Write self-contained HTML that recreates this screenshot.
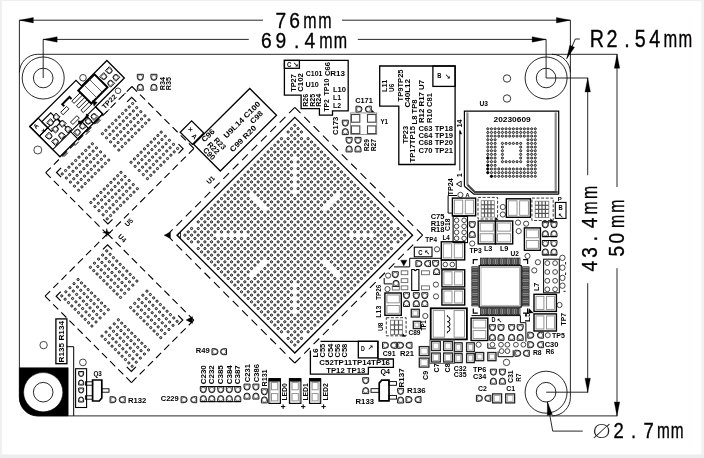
<!DOCTYPE html>
<html><head><meta charset="utf-8"><title>PCB mechanical drawing</title>
<style>
html,body{margin:0;padding:0;background:#fff;}
svg{display:block;font-family:"Liberation Sans",sans-serif;}
#ink{filter:grayscale(1);}
</style></head><body>
<svg width="704" height="458" viewBox="0 0 704 458">
<rect x="0" y="0" width="704" height="458" fill="#fff"/>
<rect x="701.3" y="0" width="2.7" height="458" fill="#f1f2f4"/>
<rect x="0" y="454.5" width="704" height="3.5" fill="#ebedef"/>
<rect x="0" y="0" width="704" height="1" fill="#efefef"/>
<rect x="0" y="0" width="1.8" height="458" fill="#efefef"/>
<g id="ink">
<rect x="19.4" y="54.3" width="551" height="361.6" fill="none" stroke="#111" stroke-width="0.9" rx="18.4"/>
<path d="M19.4,367.7 H68.2 V415.9 H37.8 A18.4,18.4 0 0 1 19.4,397.5 Z" fill="#000" stroke="#000" stroke-width="0.5" />
<circle cx="43.2" cy="392.2" r="19.6" fill="#fff" stroke="#000" stroke-width="0.5"/>
<circle cx="43.2" cy="78" r="21" fill="none" stroke="#111" stroke-width="0.9"/>
<circle cx="546.1" cy="78" r="21" fill="none" stroke="#111" stroke-width="0.9"/>
<circle cx="546.1" cy="392.2" r="21" fill="none" stroke="#111" stroke-width="0.9"/>
<circle cx="43.2" cy="78" r="9.8" fill="none" stroke="#111" stroke-width="0.9"/>
<circle cx="546.1" cy="78" r="9.8" fill="none" stroke="#111" stroke-width="0.9"/>
<circle cx="546.1" cy="392.2" r="9.8" fill="none" stroke="#111" stroke-width="0.9"/>
<circle cx="43.2" cy="392.2" r="9.8" fill="none" stroke="#111" stroke-width="0.9"/>
<line x1="19.4" y1="20.2" x2="263" y2="20.2" stroke="#111" stroke-width="0.9"/>
<line x1="342" y1="20.2" x2="570.4" y2="20.2" stroke="#111" stroke-width="0.9"/>
<polygon points="19.4,20.2 33.4,17.45 33.4,22.95" fill="#000" stroke="#000" stroke-width="0.3"/>
<polygon points="570.4,20.2 556.4,22.95 556.4,17.45" fill="#000" stroke="#000" stroke-width="0.3"/>
<line x1="19.4" y1="20.2" x2="19.4" y2="72.7" stroke="#111" stroke-width="0.9"/>
<line x1="570.4" y1="20.2" x2="570.4" y2="72.7" stroke="#111" stroke-width="0.9"/>
<line x1="43.2" y1="39.4" x2="248.8" y2="39.4" stroke="#111" stroke-width="0.9"/>
<line x1="357.8" y1="39.4" x2="546.1" y2="39.4" stroke="#111" stroke-width="0.9"/>
<polygon points="43.2,39.4 57.2,36.65 57.2,42.15" fill="#000" stroke="#000" stroke-width="0.3"/>
<polygon points="546.1,39.4 532.1,42.15 532.1,36.65" fill="#000" stroke="#000" stroke-width="0.3"/>
<line x1="43.2" y1="39.4" x2="43.2" y2="78" stroke="#111" stroke-width="0.9"/>
<line x1="546.1" y1="39.4" x2="546.1" y2="78" stroke="#111" stroke-width="0.9"/>
<line x1="552" y1="54.3" x2="617.5" y2="54.3" stroke="#111" stroke-width="0.9"/>
<line x1="546.1" y1="78" x2="588.2" y2="78" stroke="#111" stroke-width="0.9"/>
<line x1="546.1" y1="392.2" x2="588.2" y2="392.2" stroke="#111" stroke-width="0.9"/>
<line x1="552" y1="415.9" x2="617.5" y2="415.9" stroke="#111" stroke-width="0.9"/>
<line x1="587.7" y1="78" x2="587.7" y2="175.2" stroke="#111" stroke-width="0.9"/>
<line x1="587.7" y1="283.2" x2="587.7" y2="392.2" stroke="#111" stroke-width="0.9"/>
<polygon points="587.7,78 590.45,92 584.95,92" fill="#000" stroke="#000" stroke-width="0.3"/>
<polygon points="587.7,392.2 584.95,378.2 590.45,378.2" fill="#000" stroke="#000" stroke-width="0.3"/>
<line x1="617" y1="54.3" x2="617" y2="187" stroke="#111" stroke-width="0.9"/>
<line x1="617" y1="268.2" x2="617" y2="415.9" stroke="#111" stroke-width="0.9"/>
<polygon points="617,54.3 619.75,68.3 614.25,68.3" fill="#000" stroke="#000" stroke-width="0.3"/>
<polygon points="617,415.9 614.25,401.9 619.75,401.9" fill="#000" stroke="#000" stroke-width="0.3"/>
<line x1="575.3" y1="39" x2="579.8" y2="39" stroke="#111" stroke-width="0.9"/>
<line x1="575.3" y1="39" x2="566.8" y2="58.6" stroke="#111" stroke-width="0.9"/>
<polygon points="566.8,58.6 569.79,45.18 574.56,47.25" fill="#000" stroke="#000" stroke-width="0.3"/>
<line x1="582.7" y1="431.1" x2="552.7" y2="431.1" stroke="#111" stroke-width="0.9"/>
<line x1="552.7" y1="431.1" x2="547.4" y2="401.8" stroke="#111" stroke-width="0.9"/>
<polygon points="547.4,401.8 552.36,414.62 547.24,415.55" fill="#000" stroke="#000" stroke-width="0.3"/>
<text transform="translate(280.95,28.1) scale(0.84,1)" font-size="22.9" text-anchor="middle" font-weight="normal" stroke="#000" stroke-width="0.35">7</text>
<text transform="translate(294.7,28.1) scale(0.84,1)" font-size="22.9" text-anchor="middle" font-weight="normal" stroke="#000" stroke-width="0.35">6</text>
<text transform="translate(309.9,28.1) scale(0.7,1)" font-size="22.9" text-anchor="middle" font-weight="normal" stroke="#000" stroke-width="0.35">m</text>
<text transform="translate(324.8,28.1) scale(0.7,1)" font-size="22.9" text-anchor="middle" font-weight="normal" stroke="#000" stroke-width="0.35">m</text>
<text transform="translate(266.45,47.9) scale(0.84,1)" font-size="22.9" text-anchor="middle" font-weight="normal" stroke="#000" stroke-width="0.35">6</text>
<text transform="translate(280.95,47.9) scale(0.84,1)" font-size="22.9" text-anchor="middle" font-weight="normal" stroke="#000" stroke-width="0.35">9</text>
<text transform="translate(296.6,47.9) scale(0.84,1)" font-size="22.9" text-anchor="middle" font-weight="normal" stroke="#000" stroke-width="0.35">.</text>
<text transform="translate(309.9,47.9) scale(0.84,1)" font-size="22.9" text-anchor="middle" font-weight="normal" stroke="#000" stroke-width="0.35">4</text>
<text transform="translate(325.9,47.9) scale(0.7,1)" font-size="22.9" text-anchor="middle" font-weight="normal" stroke="#000" stroke-width="0.35">m</text>
<text transform="translate(340.4,47.9) scale(0.7,1)" font-size="22.9" text-anchor="middle" font-weight="normal" stroke="#000" stroke-width="0.35">m</text>
<text transform="translate(596.95,46.9) scale(0.84,1)" font-size="23.5" text-anchor="middle" font-weight="normal" stroke="#000" stroke-width="0.35">R</text>
<text transform="translate(612.1,46.9) scale(0.84,1)" font-size="23.5" text-anchor="middle" font-weight="normal" stroke="#000" stroke-width="0.35">2</text>
<text transform="translate(627,46.9) scale(0.84,1)" font-size="23.5" text-anchor="middle" font-weight="normal" stroke="#000" stroke-width="0.35">.</text>
<text transform="translate(640.3,46.9) scale(0.84,1)" font-size="23.5" text-anchor="middle" font-weight="normal" stroke="#000" stroke-width="0.35">5</text>
<text transform="translate(654.65,46.9) scale(0.84,1)" font-size="23.5" text-anchor="middle" font-weight="normal" stroke="#000" stroke-width="0.35">4</text>
<text transform="translate(670.35,46.9) scale(0.7,1)" font-size="23.5" text-anchor="middle" font-weight="normal" stroke="#000" stroke-width="0.35">m</text>
<text transform="translate(685.45,46.9) scale(0.7,1)" font-size="23.5" text-anchor="middle" font-weight="normal" stroke="#000" stroke-width="0.35">m</text>
<text transform="translate(618.65,438.4) scale(0.84,1)" font-size="22" text-anchor="middle" font-weight="normal" stroke="#000" stroke-width="0.35">2</text>
<text transform="translate(633.45,438.4) scale(0.84,1)" font-size="22" text-anchor="middle" font-weight="normal" stroke="#000" stroke-width="0.35">.</text>
<text transform="translate(648.7,438.4) scale(0.84,1)" font-size="22" text-anchor="middle" font-weight="normal" stroke="#000" stroke-width="0.35">7</text>
<text transform="translate(663.4,438.4) scale(0.7,1)" font-size="22" text-anchor="middle" font-weight="normal" stroke="#000" stroke-width="0.35">m</text>
<text transform="translate(677.2,438.4) scale(0.7,1)" font-size="22" text-anchor="middle" font-weight="normal" stroke="#000" stroke-width="0.35">m</text>
<text transform="translate(601.7,438.0) scale(1.25,1)" font-family="'DejaVu Sans',sans-serif" font-weight="200" font-size="19.6" text-anchor="middle" fill="#222">Ø</text>
<text transform="translate(596.7,266.3) rotate(-90) scale(0.84,1)" font-size="22.6" text-anchor="middle" font-weight="normal" stroke="#000" stroke-width="0.35">4</text>
<text transform="translate(596.7,252.5) rotate(-90) scale(0.84,1)" font-size="22.6" text-anchor="middle" font-weight="normal" stroke="#000" stroke-width="0.35">3</text>
<text transform="translate(596.7,238.6) rotate(-90) scale(0.84,1)" font-size="22.6" text-anchor="middle" font-weight="normal" stroke="#000" stroke-width="0.35">.</text>
<text transform="translate(596.7,223.1) rotate(-90) scale(0.84,1)" font-size="22.6" text-anchor="middle" font-weight="normal" stroke="#000" stroke-width="0.35">4</text>
<text transform="translate(596.7,207.8) rotate(-90) scale(0.7,1)" font-size="22.6" text-anchor="middle" font-weight="normal" stroke="#000" stroke-width="0.35">m</text>
<text transform="translate(596.7,192.4) rotate(-90) scale(0.7,1)" font-size="22.6" text-anchor="middle" font-weight="normal" stroke="#000" stroke-width="0.35">m</text>
<text transform="translate(623.7,251.2) rotate(-90) scale(0.84,1)" font-size="22.6" text-anchor="middle" font-weight="normal" stroke="#000" stroke-width="0.35">5</text>
<text transform="translate(623.7,238.2) rotate(-90) scale(0.84,1)" font-size="22.6" text-anchor="middle" font-weight="normal" stroke="#000" stroke-width="0.35">0</text>
<text transform="translate(623.7,221.3) rotate(-90) scale(0.7,1)" font-size="22.6" text-anchor="middle" font-weight="normal" stroke="#000" stroke-width="0.35">m</text>
<text transform="translate(623.7,206.2) rotate(-90) scale(0.7,1)" font-size="22.6" text-anchor="middle" font-weight="normal" stroke="#000" stroke-width="0.35">m</text>
<polygon points="294.8,117.4 412.6,235.2 294.8,353 177,235.2" fill="none" stroke="#000" stroke-width="1.3"/>
<line x1="294.8" y1="107.4" x2="422.6" y2="235.2" stroke="#000" stroke-width="1.1" stroke-dasharray="8.10 5.18"/>
<line x1="422.6" y1="235.2" x2="294.8" y2="363" stroke="#000" stroke-width="1.1" stroke-dasharray="8.10 5.18"/>
<line x1="294.8" y1="363" x2="167" y2="235.2" stroke="#000" stroke-width="1.1" stroke-dasharray="8.10 5.18"/>
<line x1="167" y1="235.2" x2="294.8" y2="107.4" stroke="#000" stroke-width="1.1" stroke-dasharray="8.10 5.18"/>
<g fill="#c8c8c8" stroke="#1a1a1a" stroke-width="1.0">
<circle cx="294.8" cy="125.31" r="1.1"/>
<circle cx="291.47" cy="128.64" r="1.1"/>
<circle cx="288.14" cy="131.97" r="1.1"/>
<circle cx="281.48" cy="138.63" r="1.1"/>
<circle cx="278.15" cy="141.96" r="1.1"/>
<circle cx="274.82" cy="145.29" r="1.1"/>
<circle cx="271.49" cy="148.62" r="1.1"/>
<circle cx="268.16" cy="151.95" r="1.1"/>
<circle cx="264.83" cy="155.28" r="1.1"/>
<circle cx="261.5" cy="158.61" r="1.1"/>
<circle cx="258.17" cy="161.94" r="1.1"/>
<circle cx="254.84" cy="165.27" r="1.1"/>
<circle cx="251.51" cy="168.6" r="1.1"/>
<circle cx="248.18" cy="171.93" r="1.1"/>
<circle cx="244.85" cy="175.26" r="1.1"/>
<circle cx="241.52" cy="178.59" r="1.1"/>
<circle cx="238.19" cy="181.92" r="1.1"/>
<circle cx="234.86" cy="185.25" r="1.1"/>
<circle cx="231.53" cy="188.58" r="1.1"/>
<circle cx="228.2" cy="191.91" r="1.1"/>
<circle cx="224.87" cy="195.24" r="1.1"/>
<circle cx="221.54" cy="198.57" r="1.1"/>
<circle cx="218.21" cy="201.9" r="1.1"/>
<circle cx="214.88" cy="205.23" r="1.1"/>
<circle cx="211.55" cy="208.56" r="1.1"/>
<circle cx="208.22" cy="211.89" r="1.1"/>
<circle cx="204.89" cy="215.22" r="1.1"/>
<circle cx="201.56" cy="218.55" r="1.1"/>
<circle cx="198.23" cy="221.88" r="1.1"/>
<circle cx="191.57" cy="228.54" r="1.1"/>
<circle cx="188.24" cy="231.87" r="1.1"/>
<circle cx="184.91" cy="235.2" r="1.1"/>
<circle cx="298.13" cy="128.64" r="1.1"/>
<circle cx="294.8" cy="131.97" r="1.1"/>
<circle cx="291.47" cy="135.3" r="1.1"/>
<circle cx="288.14" cy="138.63" r="1.1"/>
<circle cx="284.81" cy="141.96" r="1.1"/>
<circle cx="281.48" cy="145.29" r="1.1"/>
<circle cx="278.15" cy="148.62" r="1.1"/>
<circle cx="274.82" cy="151.95" r="1.1"/>
<circle cx="271.49" cy="155.28" r="1.1"/>
<circle cx="268.16" cy="158.61" r="1.1"/>
<circle cx="264.83" cy="161.94" r="1.1"/>
<circle cx="261.5" cy="165.27" r="1.1"/>
<circle cx="258.17" cy="168.6" r="1.1"/>
<circle cx="254.84" cy="171.93" r="1.1"/>
<circle cx="251.51" cy="175.26" r="1.1"/>
<circle cx="248.18" cy="178.59" r="1.1"/>
<circle cx="244.85" cy="181.92" r="1.1"/>
<circle cx="241.52" cy="185.25" r="1.1"/>
<circle cx="238.19" cy="188.58" r="1.1"/>
<circle cx="234.86" cy="191.91" r="1.1"/>
<circle cx="231.53" cy="195.24" r="1.1"/>
<circle cx="228.2" cy="198.57" r="1.1"/>
<circle cx="224.87" cy="201.9" r="1.1"/>
<circle cx="221.54" cy="205.23" r="1.1"/>
<circle cx="218.21" cy="208.56" r="1.1"/>
<circle cx="214.88" cy="211.89" r="1.1"/>
<circle cx="211.55" cy="215.22" r="1.1"/>
<circle cx="208.22" cy="218.55" r="1.1"/>
<circle cx="204.89" cy="221.88" r="1.1"/>
<circle cx="201.56" cy="225.21" r="1.1"/>
<circle cx="198.23" cy="228.54" r="1.1"/>
<circle cx="194.9" cy="231.87" r="1.1"/>
<circle cx="191.57" cy="235.2" r="1.1"/>
<circle cx="188.24" cy="238.53" r="1.1"/>
<circle cx="301.46" cy="131.97" r="1.1"/>
<circle cx="298.13" cy="135.3" r="1.1"/>
<circle cx="294.8" cy="138.63" r="1.1"/>
<circle cx="291.47" cy="141.96" r="1.1"/>
<circle cx="288.14" cy="145.29" r="1.1"/>
<circle cx="284.81" cy="148.62" r="1.1"/>
<circle cx="281.48" cy="151.95" r="1.1"/>
<circle cx="278.15" cy="155.28" r="1.1"/>
<circle cx="274.82" cy="158.61" r="1.1"/>
<circle cx="271.49" cy="161.94" r="1.1"/>
<circle cx="268.16" cy="165.27" r="1.1"/>
<circle cx="264.83" cy="168.6" r="1.1"/>
<circle cx="261.5" cy="171.93" r="1.1"/>
<circle cx="258.17" cy="175.26" r="1.1"/>
<circle cx="254.84" cy="178.59" r="1.1"/>
<circle cx="251.51" cy="181.92" r="1.1"/>
<circle cx="248.18" cy="185.25" r="1.1"/>
<circle cx="244.85" cy="188.58" r="1.1"/>
<circle cx="241.52" cy="191.91" r="1.1"/>
<circle cx="238.19" cy="195.24" r="1.1"/>
<circle cx="234.86" cy="198.57" r="1.1"/>
<circle cx="231.53" cy="201.9" r="1.1"/>
<circle cx="228.2" cy="205.23" r="1.1"/>
<circle cx="224.87" cy="208.56" r="1.1"/>
<circle cx="221.54" cy="211.89" r="1.1"/>
<circle cx="218.21" cy="215.22" r="1.1"/>
<circle cx="214.88" cy="218.55" r="1.1"/>
<circle cx="211.55" cy="221.88" r="1.1"/>
<circle cx="208.22" cy="225.21" r="1.1"/>
<circle cx="204.89" cy="228.54" r="1.1"/>
<circle cx="201.56" cy="231.87" r="1.1"/>
<circle cx="198.23" cy="235.2" r="1.1"/>
<circle cx="194.9" cy="238.53" r="1.1"/>
<circle cx="191.57" cy="241.86" r="1.1"/>
<circle cx="301.46" cy="138.63" r="1.1"/>
<circle cx="298.13" cy="141.96" r="1.1"/>
<circle cx="294.8" cy="145.29" r="1.1"/>
<circle cx="291.47" cy="148.62" r="1.1"/>
<circle cx="288.14" cy="151.95" r="1.1"/>
<circle cx="284.81" cy="155.28" r="1.1"/>
<circle cx="281.48" cy="158.61" r="1.1"/>
<circle cx="278.15" cy="161.94" r="1.1"/>
<circle cx="274.82" cy="165.27" r="1.1"/>
<circle cx="271.49" cy="168.6" r="1.1"/>
<circle cx="268.16" cy="171.93" r="1.1"/>
<circle cx="264.83" cy="175.26" r="1.1"/>
<circle cx="261.5" cy="178.59" r="1.1"/>
<circle cx="258.17" cy="181.92" r="1.1"/>
<circle cx="254.84" cy="185.25" r="1.1"/>
<circle cx="251.51" cy="188.58" r="1.1"/>
<circle cx="248.18" cy="191.91" r="1.1"/>
<circle cx="244.85" cy="195.24" r="1.1"/>
<circle cx="241.52" cy="198.57" r="1.1"/>
<circle cx="238.19" cy="201.9" r="1.1"/>
<circle cx="234.86" cy="205.23" r="1.1"/>
<circle cx="231.53" cy="208.56" r="1.1"/>
<circle cx="228.2" cy="211.89" r="1.1"/>
<circle cx="224.87" cy="215.22" r="1.1"/>
<circle cx="221.54" cy="218.55" r="1.1"/>
<circle cx="218.21" cy="221.88" r="1.1"/>
<circle cx="214.88" cy="225.21" r="1.1"/>
<circle cx="211.55" cy="228.54" r="1.1"/>
<circle cx="208.22" cy="231.87" r="1.1"/>
<circle cx="204.89" cy="235.2" r="1.1"/>
<circle cx="201.56" cy="238.53" r="1.1"/>
<circle cx="198.23" cy="241.86" r="1.1"/>
<circle cx="308.12" cy="138.63" r="1.1"/>
<circle cx="304.79" cy="141.96" r="1.1"/>
<circle cx="301.46" cy="145.29" r="1.1"/>
<circle cx="298.13" cy="148.62" r="1.1"/>
<circle cx="294.8" cy="151.95" r="1.1"/>
<circle cx="291.47" cy="155.28" r="1.1"/>
<circle cx="288.14" cy="158.61" r="1.1"/>
<circle cx="284.81" cy="161.94" r="1.1"/>
<circle cx="281.48" cy="165.27" r="1.1"/>
<circle cx="278.15" cy="168.6" r="1.1"/>
<circle cx="274.82" cy="171.93" r="1.1"/>
<circle cx="271.49" cy="175.26" r="1.1"/>
<circle cx="268.16" cy="178.59" r="1.1"/>
<circle cx="264.83" cy="181.92" r="1.1"/>
<circle cx="261.5" cy="185.25" r="1.1"/>
<circle cx="258.17" cy="188.58" r="1.1"/>
<circle cx="254.84" cy="191.91" r="1.1"/>
<circle cx="248.18" cy="198.57" r="1.1"/>
<circle cx="244.85" cy="201.9" r="1.1"/>
<circle cx="241.52" cy="205.23" r="1.1"/>
<circle cx="238.19" cy="208.56" r="1.1"/>
<circle cx="234.86" cy="211.89" r="1.1"/>
<circle cx="231.53" cy="215.22" r="1.1"/>
<circle cx="228.2" cy="218.55" r="1.1"/>
<circle cx="224.87" cy="221.88" r="1.1"/>
<circle cx="221.54" cy="225.21" r="1.1"/>
<circle cx="218.21" cy="228.54" r="1.1"/>
<circle cx="214.88" cy="231.87" r="1.1"/>
<circle cx="211.55" cy="235.2" r="1.1"/>
<circle cx="208.22" cy="238.53" r="1.1"/>
<circle cx="204.89" cy="241.86" r="1.1"/>
<circle cx="201.56" cy="245.19" r="1.1"/>
<circle cx="198.23" cy="248.52" r="1.1"/>
<circle cx="311.45" cy="141.96" r="1.1"/>
<circle cx="308.12" cy="145.29" r="1.1"/>
<circle cx="304.79" cy="148.62" r="1.1"/>
<circle cx="301.46" cy="151.95" r="1.1"/>
<circle cx="298.13" cy="155.28" r="1.1"/>
<circle cx="291.47" cy="161.94" r="1.1"/>
<circle cx="288.14" cy="165.27" r="1.1"/>
<circle cx="284.81" cy="168.6" r="1.1"/>
<circle cx="281.48" cy="171.93" r="1.1"/>
<circle cx="278.15" cy="175.26" r="1.1"/>
<circle cx="274.82" cy="178.59" r="1.1"/>
<circle cx="271.49" cy="181.92" r="1.1"/>
<circle cx="268.16" cy="185.25" r="1.1"/>
<circle cx="264.83" cy="188.58" r="1.1"/>
<circle cx="261.5" cy="191.91" r="1.1"/>
<circle cx="258.17" cy="195.24" r="1.1"/>
<circle cx="251.51" cy="201.9" r="1.1"/>
<circle cx="248.18" cy="205.23" r="1.1"/>
<circle cx="244.85" cy="208.56" r="1.1"/>
<circle cx="241.52" cy="211.89" r="1.1"/>
<circle cx="238.19" cy="215.22" r="1.1"/>
<circle cx="234.86" cy="218.55" r="1.1"/>
<circle cx="231.53" cy="221.88" r="1.1"/>
<circle cx="228.2" cy="225.21" r="1.1"/>
<circle cx="224.87" cy="228.54" r="1.1"/>
<circle cx="221.54" cy="231.87" r="1.1"/>
<circle cx="214.88" cy="238.53" r="1.1"/>
<circle cx="211.55" cy="241.86" r="1.1"/>
<circle cx="208.22" cy="245.19" r="1.1"/>
<circle cx="204.89" cy="248.52" r="1.1"/>
<circle cx="201.56" cy="251.85" r="1.1"/>
<circle cx="314.78" cy="145.29" r="1.1"/>
<circle cx="311.45" cy="148.62" r="1.1"/>
<circle cx="308.12" cy="151.95" r="1.1"/>
<circle cx="304.79" cy="155.28" r="1.1"/>
<circle cx="301.46" cy="158.61" r="1.1"/>
<circle cx="298.13" cy="161.94" r="1.1"/>
<circle cx="291.47" cy="168.6" r="1.1"/>
<circle cx="288.14" cy="171.93" r="1.1"/>
<circle cx="284.81" cy="175.26" r="1.1"/>
<circle cx="281.48" cy="178.59" r="1.1"/>
<circle cx="278.15" cy="181.92" r="1.1"/>
<circle cx="274.82" cy="185.25" r="1.1"/>
<circle cx="271.49" cy="188.58" r="1.1"/>
<circle cx="268.16" cy="191.91" r="1.1"/>
<circle cx="264.83" cy="195.24" r="1.1"/>
<circle cx="261.5" cy="198.57" r="1.1"/>
<circle cx="254.84" cy="205.23" r="1.1"/>
<circle cx="251.51" cy="208.56" r="1.1"/>
<circle cx="248.18" cy="211.89" r="1.1"/>
<circle cx="244.85" cy="215.22" r="1.1"/>
<circle cx="241.52" cy="218.55" r="1.1"/>
<circle cx="238.19" cy="221.88" r="1.1"/>
<circle cx="234.86" cy="225.21" r="1.1"/>
<circle cx="231.53" cy="228.54" r="1.1"/>
<circle cx="228.2" cy="231.87" r="1.1"/>
<circle cx="221.54" cy="238.53" r="1.1"/>
<circle cx="218.21" cy="241.86" r="1.1"/>
<circle cx="214.88" cy="245.19" r="1.1"/>
<circle cx="211.55" cy="248.52" r="1.1"/>
<circle cx="208.22" cy="251.85" r="1.1"/>
<circle cx="204.89" cy="255.18" r="1.1"/>
<circle cx="318.11" cy="148.62" r="1.1"/>
<circle cx="314.78" cy="151.95" r="1.1"/>
<circle cx="311.45" cy="155.28" r="1.1"/>
<circle cx="308.12" cy="158.61" r="1.1"/>
<circle cx="304.79" cy="161.94" r="1.1"/>
<circle cx="301.46" cy="165.27" r="1.1"/>
<circle cx="298.13" cy="168.6" r="1.1"/>
<circle cx="291.47" cy="175.26" r="1.1"/>
<circle cx="288.14" cy="178.59" r="1.1"/>
<circle cx="284.81" cy="181.92" r="1.1"/>
<circle cx="281.48" cy="185.25" r="1.1"/>
<circle cx="278.15" cy="188.58" r="1.1"/>
<circle cx="274.82" cy="191.91" r="1.1"/>
<circle cx="271.49" cy="195.24" r="1.1"/>
<circle cx="268.16" cy="198.57" r="1.1"/>
<circle cx="264.83" cy="201.9" r="1.1"/>
<circle cx="258.17" cy="208.56" r="1.1"/>
<circle cx="254.84" cy="211.89" r="1.1"/>
<circle cx="251.51" cy="215.22" r="1.1"/>
<circle cx="248.18" cy="218.55" r="1.1"/>
<circle cx="244.85" cy="221.88" r="1.1"/>
<circle cx="241.52" cy="225.21" r="1.1"/>
<circle cx="238.19" cy="228.54" r="1.1"/>
<circle cx="234.86" cy="231.87" r="1.1"/>
<circle cx="228.2" cy="238.53" r="1.1"/>
<circle cx="224.87" cy="241.86" r="1.1"/>
<circle cx="221.54" cy="245.19" r="1.1"/>
<circle cx="218.21" cy="248.52" r="1.1"/>
<circle cx="214.88" cy="251.85" r="1.1"/>
<circle cx="211.55" cy="255.18" r="1.1"/>
<circle cx="208.22" cy="258.51" r="1.1"/>
<circle cx="321.44" cy="151.95" r="1.1"/>
<circle cx="318.11" cy="155.28" r="1.1"/>
<circle cx="314.78" cy="158.61" r="1.1"/>
<circle cx="311.45" cy="161.94" r="1.1"/>
<circle cx="308.12" cy="165.27" r="1.1"/>
<circle cx="304.79" cy="168.6" r="1.1"/>
<circle cx="301.46" cy="171.93" r="1.1"/>
<circle cx="298.13" cy="175.26" r="1.1"/>
<circle cx="291.47" cy="181.92" r="1.1"/>
<circle cx="288.14" cy="185.25" r="1.1"/>
<circle cx="284.81" cy="188.58" r="1.1"/>
<circle cx="281.48" cy="191.91" r="1.1"/>
<circle cx="278.15" cy="195.24" r="1.1"/>
<circle cx="274.82" cy="198.57" r="1.1"/>
<circle cx="271.49" cy="201.9" r="1.1"/>
<circle cx="268.16" cy="205.23" r="1.1"/>
<circle cx="261.5" cy="211.89" r="1.1"/>
<circle cx="258.17" cy="215.22" r="1.1"/>
<circle cx="254.84" cy="218.55" r="1.1"/>
<circle cx="251.51" cy="221.88" r="1.1"/>
<circle cx="248.18" cy="225.21" r="1.1"/>
<circle cx="244.85" cy="228.54" r="1.1"/>
<circle cx="241.52" cy="231.87" r="1.1"/>
<circle cx="234.86" cy="238.53" r="1.1"/>
<circle cx="231.53" cy="241.86" r="1.1"/>
<circle cx="228.2" cy="245.19" r="1.1"/>
<circle cx="224.87" cy="248.52" r="1.1"/>
<circle cx="221.54" cy="251.85" r="1.1"/>
<circle cx="218.21" cy="255.18" r="1.1"/>
<circle cx="214.88" cy="258.51" r="1.1"/>
<circle cx="211.55" cy="261.84" r="1.1"/>
<circle cx="324.77" cy="155.28" r="1.1"/>
<circle cx="321.44" cy="158.61" r="1.1"/>
<circle cx="318.11" cy="161.94" r="1.1"/>
<circle cx="314.78" cy="165.27" r="1.1"/>
<circle cx="311.45" cy="168.6" r="1.1"/>
<circle cx="308.12" cy="171.93" r="1.1"/>
<circle cx="304.79" cy="175.26" r="1.1"/>
<circle cx="301.46" cy="178.59" r="1.1"/>
<circle cx="298.13" cy="181.92" r="1.1"/>
<circle cx="291.47" cy="188.58" r="1.1"/>
<circle cx="288.14" cy="191.91" r="1.1"/>
<circle cx="284.81" cy="195.24" r="1.1"/>
<circle cx="281.48" cy="198.57" r="1.1"/>
<circle cx="278.15" cy="201.9" r="1.1"/>
<circle cx="274.82" cy="205.23" r="1.1"/>
<circle cx="271.49" cy="208.56" r="1.1"/>
<circle cx="268.16" cy="211.89" r="1.1"/>
<circle cx="264.83" cy="215.22" r="1.1"/>
<circle cx="261.5" cy="218.55" r="1.1"/>
<circle cx="258.17" cy="221.88" r="1.1"/>
<circle cx="254.84" cy="225.21" r="1.1"/>
<circle cx="251.51" cy="228.54" r="1.1"/>
<circle cx="248.18" cy="231.87" r="1.1"/>
<circle cx="241.52" cy="238.53" r="1.1"/>
<circle cx="238.19" cy="241.86" r="1.1"/>
<circle cx="234.86" cy="245.19" r="1.1"/>
<circle cx="231.53" cy="248.52" r="1.1"/>
<circle cx="228.2" cy="251.85" r="1.1"/>
<circle cx="224.87" cy="255.18" r="1.1"/>
<circle cx="221.54" cy="258.51" r="1.1"/>
<circle cx="218.21" cy="261.84" r="1.1"/>
<circle cx="214.88" cy="265.17" r="1.1"/>
<circle cx="328.1" cy="158.61" r="1.1"/>
<circle cx="324.77" cy="161.94" r="1.1"/>
<circle cx="321.44" cy="165.27" r="1.1"/>
<circle cx="318.11" cy="168.6" r="1.1"/>
<circle cx="314.78" cy="171.93" r="1.1"/>
<circle cx="311.45" cy="175.26" r="1.1"/>
<circle cx="308.12" cy="178.59" r="1.1"/>
<circle cx="304.79" cy="181.92" r="1.1"/>
<circle cx="301.46" cy="185.25" r="1.1"/>
<circle cx="298.13" cy="188.58" r="1.1"/>
<circle cx="291.47" cy="195.24" r="1.1"/>
<circle cx="288.14" cy="198.57" r="1.1"/>
<circle cx="284.81" cy="201.9" r="1.1"/>
<circle cx="281.48" cy="205.23" r="1.1"/>
<circle cx="278.15" cy="208.56" r="1.1"/>
<circle cx="274.82" cy="211.89" r="1.1"/>
<circle cx="271.49" cy="215.22" r="1.1"/>
<circle cx="268.16" cy="218.55" r="1.1"/>
<circle cx="264.83" cy="221.88" r="1.1"/>
<circle cx="261.5" cy="225.21" r="1.1"/>
<circle cx="258.17" cy="228.54" r="1.1"/>
<circle cx="254.84" cy="231.87" r="1.1"/>
<circle cx="251.51" cy="235.2" r="1.1"/>
<circle cx="248.18" cy="238.53" r="1.1"/>
<circle cx="244.85" cy="241.86" r="1.1"/>
<circle cx="241.52" cy="245.19" r="1.1"/>
<circle cx="238.19" cy="248.52" r="1.1"/>
<circle cx="234.86" cy="251.85" r="1.1"/>
<circle cx="231.53" cy="255.18" r="1.1"/>
<circle cx="228.2" cy="258.51" r="1.1"/>
<circle cx="224.87" cy="261.84" r="1.1"/>
<circle cx="221.54" cy="265.17" r="1.1"/>
<circle cx="218.21" cy="268.5" r="1.1"/>
<circle cx="331.43" cy="161.94" r="1.1"/>
<circle cx="328.1" cy="165.27" r="1.1"/>
<circle cx="324.77" cy="168.6" r="1.1"/>
<circle cx="321.44" cy="171.93" r="1.1"/>
<circle cx="318.11" cy="175.26" r="1.1"/>
<circle cx="314.78" cy="178.59" r="1.1"/>
<circle cx="311.45" cy="181.92" r="1.1"/>
<circle cx="308.12" cy="185.25" r="1.1"/>
<circle cx="304.79" cy="188.58" r="1.1"/>
<circle cx="301.46" cy="191.91" r="1.1"/>
<circle cx="298.13" cy="195.24" r="1.1"/>
<circle cx="294.8" cy="198.57" r="1.1"/>
<circle cx="291.47" cy="201.9" r="1.1"/>
<circle cx="288.14" cy="205.23" r="1.1"/>
<circle cx="284.81" cy="208.56" r="1.1"/>
<circle cx="281.48" cy="211.89" r="1.1"/>
<circle cx="278.15" cy="215.22" r="1.1"/>
<circle cx="274.82" cy="218.55" r="1.1"/>
<circle cx="271.49" cy="221.88" r="1.1"/>
<circle cx="268.16" cy="225.21" r="1.1"/>
<circle cx="264.83" cy="228.54" r="1.1"/>
<circle cx="261.5" cy="231.87" r="1.1"/>
<circle cx="258.17" cy="235.2" r="1.1"/>
<circle cx="254.84" cy="238.53" r="1.1"/>
<circle cx="251.51" cy="241.86" r="1.1"/>
<circle cx="248.18" cy="245.19" r="1.1"/>
<circle cx="244.85" cy="248.52" r="1.1"/>
<circle cx="241.52" cy="251.85" r="1.1"/>
<circle cx="238.19" cy="255.18" r="1.1"/>
<circle cx="234.86" cy="258.51" r="1.1"/>
<circle cx="231.53" cy="261.84" r="1.1"/>
<circle cx="228.2" cy="265.17" r="1.1"/>
<circle cx="224.87" cy="268.5" r="1.1"/>
<circle cx="221.54" cy="271.83" r="1.1"/>
<circle cx="334.76" cy="165.27" r="1.1"/>
<circle cx="331.43" cy="168.6" r="1.1"/>
<circle cx="328.1" cy="171.93" r="1.1"/>
<circle cx="324.77" cy="175.26" r="1.1"/>
<circle cx="321.44" cy="178.59" r="1.1"/>
<circle cx="318.11" cy="181.92" r="1.1"/>
<circle cx="314.78" cy="185.25" r="1.1"/>
<circle cx="311.45" cy="188.58" r="1.1"/>
<circle cx="308.12" cy="191.91" r="1.1"/>
<circle cx="304.79" cy="195.24" r="1.1"/>
<circle cx="301.46" cy="198.57" r="1.1"/>
<circle cx="298.13" cy="201.9" r="1.1"/>
<circle cx="294.8" cy="205.23" r="1.1"/>
<circle cx="291.47" cy="208.56" r="1.1"/>
<circle cx="288.14" cy="211.89" r="1.1"/>
<circle cx="284.81" cy="215.22" r="1.1"/>
<circle cx="281.48" cy="218.55" r="1.1"/>
<circle cx="278.15" cy="221.88" r="1.1"/>
<circle cx="274.82" cy="225.21" r="1.1"/>
<circle cx="271.49" cy="228.54" r="1.1"/>
<circle cx="268.16" cy="231.87" r="1.1"/>
<circle cx="264.83" cy="235.2" r="1.1"/>
<circle cx="261.5" cy="238.53" r="1.1"/>
<circle cx="258.17" cy="241.86" r="1.1"/>
<circle cx="254.84" cy="245.19" r="1.1"/>
<circle cx="251.51" cy="248.52" r="1.1"/>
<circle cx="248.18" cy="251.85" r="1.1"/>
<circle cx="244.85" cy="255.18" r="1.1"/>
<circle cx="241.52" cy="258.51" r="1.1"/>
<circle cx="238.19" cy="261.84" r="1.1"/>
<circle cx="234.86" cy="265.17" r="1.1"/>
<circle cx="231.53" cy="268.5" r="1.1"/>
<circle cx="228.2" cy="271.83" r="1.1"/>
<circle cx="224.87" cy="275.16" r="1.1"/>
<circle cx="338.09" cy="168.6" r="1.1"/>
<circle cx="334.76" cy="171.93" r="1.1"/>
<circle cx="331.43" cy="175.26" r="1.1"/>
<circle cx="328.1" cy="178.59" r="1.1"/>
<circle cx="324.77" cy="181.92" r="1.1"/>
<circle cx="321.44" cy="185.25" r="1.1"/>
<circle cx="318.11" cy="188.58" r="1.1"/>
<circle cx="314.78" cy="191.91" r="1.1"/>
<circle cx="311.45" cy="195.24" r="1.1"/>
<circle cx="308.12" cy="198.57" r="1.1"/>
<circle cx="304.79" cy="201.9" r="1.1"/>
<circle cx="301.46" cy="205.23" r="1.1"/>
<circle cx="298.13" cy="208.56" r="1.1"/>
<circle cx="294.8" cy="211.89" r="1.1"/>
<circle cx="291.47" cy="215.22" r="1.1"/>
<circle cx="288.14" cy="218.55" r="1.1"/>
<circle cx="284.81" cy="221.88" r="1.1"/>
<circle cx="281.48" cy="225.21" r="1.1"/>
<circle cx="278.15" cy="228.54" r="1.1"/>
<circle cx="274.82" cy="231.87" r="1.1"/>
<circle cx="271.49" cy="235.2" r="1.1"/>
<circle cx="268.16" cy="238.53" r="1.1"/>
<circle cx="264.83" cy="241.86" r="1.1"/>
<circle cx="261.5" cy="245.19" r="1.1"/>
<circle cx="258.17" cy="248.52" r="1.1"/>
<circle cx="254.84" cy="251.85" r="1.1"/>
<circle cx="251.51" cy="255.18" r="1.1"/>
<circle cx="248.18" cy="258.51" r="1.1"/>
<circle cx="244.85" cy="261.84" r="1.1"/>
<circle cx="241.52" cy="265.17" r="1.1"/>
<circle cx="238.19" cy="268.5" r="1.1"/>
<circle cx="234.86" cy="271.83" r="1.1"/>
<circle cx="231.53" cy="275.16" r="1.1"/>
<circle cx="228.2" cy="278.49" r="1.1"/>
<circle cx="341.42" cy="171.93" r="1.1"/>
<circle cx="338.09" cy="175.26" r="1.1"/>
<circle cx="334.76" cy="178.59" r="1.1"/>
<circle cx="331.43" cy="181.92" r="1.1"/>
<circle cx="328.1" cy="185.25" r="1.1"/>
<circle cx="324.77" cy="188.58" r="1.1"/>
<circle cx="321.44" cy="191.91" r="1.1"/>
<circle cx="318.11" cy="195.24" r="1.1"/>
<circle cx="314.78" cy="198.57" r="1.1"/>
<circle cx="311.45" cy="201.9" r="1.1"/>
<circle cx="308.12" cy="205.23" r="1.1"/>
<circle cx="304.79" cy="208.56" r="1.1"/>
<circle cx="301.46" cy="211.89" r="1.1"/>
<circle cx="298.13" cy="215.22" r="1.1"/>
<circle cx="294.8" cy="218.55" r="1.1"/>
<circle cx="291.47" cy="221.88" r="1.1"/>
<circle cx="288.14" cy="225.21" r="1.1"/>
<circle cx="284.81" cy="228.54" r="1.1"/>
<circle cx="281.48" cy="231.87" r="1.1"/>
<circle cx="278.15" cy="235.2" r="1.1"/>
<circle cx="274.82" cy="238.53" r="1.1"/>
<circle cx="271.49" cy="241.86" r="1.1"/>
<circle cx="268.16" cy="245.19" r="1.1"/>
<circle cx="264.83" cy="248.52" r="1.1"/>
<circle cx="261.5" cy="251.85" r="1.1"/>
<circle cx="258.17" cy="255.18" r="1.1"/>
<circle cx="254.84" cy="258.51" r="1.1"/>
<circle cx="251.51" cy="261.84" r="1.1"/>
<circle cx="248.18" cy="265.17" r="1.1"/>
<circle cx="244.85" cy="268.5" r="1.1"/>
<circle cx="241.52" cy="271.83" r="1.1"/>
<circle cx="238.19" cy="275.16" r="1.1"/>
<circle cx="234.86" cy="278.49" r="1.1"/>
<circle cx="231.53" cy="281.82" r="1.1"/>
<circle cx="344.75" cy="175.26" r="1.1"/>
<circle cx="341.42" cy="178.59" r="1.1"/>
<circle cx="338.09" cy="181.92" r="1.1"/>
<circle cx="334.76" cy="185.25" r="1.1"/>
<circle cx="331.43" cy="188.58" r="1.1"/>
<circle cx="328.1" cy="191.91" r="1.1"/>
<circle cx="324.77" cy="195.24" r="1.1"/>
<circle cx="321.44" cy="198.57" r="1.1"/>
<circle cx="318.11" cy="201.9" r="1.1"/>
<circle cx="314.78" cy="205.23" r="1.1"/>
<circle cx="311.45" cy="208.56" r="1.1"/>
<circle cx="308.12" cy="211.89" r="1.1"/>
<circle cx="304.79" cy="215.22" r="1.1"/>
<circle cx="301.46" cy="218.55" r="1.1"/>
<circle cx="298.13" cy="221.88" r="1.1"/>
<circle cx="294.8" cy="225.21" r="1.1"/>
<circle cx="291.47" cy="228.54" r="1.1"/>
<circle cx="288.14" cy="231.87" r="1.1"/>
<circle cx="284.81" cy="235.2" r="1.1"/>
<circle cx="281.48" cy="238.53" r="1.1"/>
<circle cx="278.15" cy="241.86" r="1.1"/>
<circle cx="274.82" cy="245.19" r="1.1"/>
<circle cx="271.49" cy="248.52" r="1.1"/>
<circle cx="268.16" cy="251.85" r="1.1"/>
<circle cx="264.83" cy="255.18" r="1.1"/>
<circle cx="261.5" cy="258.51" r="1.1"/>
<circle cx="258.17" cy="261.84" r="1.1"/>
<circle cx="254.84" cy="265.17" r="1.1"/>
<circle cx="251.51" cy="268.5" r="1.1"/>
<circle cx="248.18" cy="271.83" r="1.1"/>
<circle cx="244.85" cy="275.16" r="1.1"/>
<circle cx="241.52" cy="278.49" r="1.1"/>
<circle cx="238.19" cy="281.82" r="1.1"/>
<circle cx="234.86" cy="285.15" r="1.1"/>
<circle cx="348.08" cy="178.59" r="1.1"/>
<circle cx="344.75" cy="181.92" r="1.1"/>
<circle cx="341.42" cy="185.25" r="1.1"/>
<circle cx="338.09" cy="188.58" r="1.1"/>
<circle cx="334.76" cy="191.91" r="1.1"/>
<circle cx="331.43" cy="195.24" r="1.1"/>
<circle cx="328.1" cy="198.57" r="1.1"/>
<circle cx="324.77" cy="201.9" r="1.1"/>
<circle cx="321.44" cy="205.23" r="1.1"/>
<circle cx="318.11" cy="208.56" r="1.1"/>
<circle cx="314.78" cy="211.89" r="1.1"/>
<circle cx="311.45" cy="215.22" r="1.1"/>
<circle cx="308.12" cy="218.55" r="1.1"/>
<circle cx="304.79" cy="221.88" r="1.1"/>
<circle cx="301.46" cy="225.21" r="1.1"/>
<circle cx="298.13" cy="228.54" r="1.1"/>
<circle cx="294.8" cy="231.87" r="1.1"/>
<circle cx="291.47" cy="235.2" r="1.1"/>
<circle cx="288.14" cy="238.53" r="1.1"/>
<circle cx="284.81" cy="241.86" r="1.1"/>
<circle cx="281.48" cy="245.19" r="1.1"/>
<circle cx="278.15" cy="248.52" r="1.1"/>
<circle cx="274.82" cy="251.85" r="1.1"/>
<circle cx="271.49" cy="255.18" r="1.1"/>
<circle cx="268.16" cy="258.51" r="1.1"/>
<circle cx="248.18" cy="278.49" r="1.1"/>
<circle cx="244.85" cy="281.82" r="1.1"/>
<circle cx="241.52" cy="285.15" r="1.1"/>
<circle cx="238.19" cy="288.48" r="1.1"/>
<circle cx="351.41" cy="181.92" r="1.1"/>
<circle cx="348.08" cy="185.25" r="1.1"/>
<circle cx="344.75" cy="188.58" r="1.1"/>
<circle cx="341.42" cy="191.91" r="1.1"/>
<circle cx="321.44" cy="211.89" r="1.1"/>
<circle cx="318.11" cy="215.22" r="1.1"/>
<circle cx="314.78" cy="218.55" r="1.1"/>
<circle cx="311.45" cy="221.88" r="1.1"/>
<circle cx="308.12" cy="225.21" r="1.1"/>
<circle cx="304.79" cy="228.54" r="1.1"/>
<circle cx="301.46" cy="231.87" r="1.1"/>
<circle cx="298.13" cy="235.2" r="1.1"/>
<circle cx="294.8" cy="238.53" r="1.1"/>
<circle cx="291.47" cy="241.86" r="1.1"/>
<circle cx="288.14" cy="245.19" r="1.1"/>
<circle cx="284.81" cy="248.52" r="1.1"/>
<circle cx="281.48" cy="251.85" r="1.1"/>
<circle cx="278.15" cy="255.18" r="1.1"/>
<circle cx="274.82" cy="258.51" r="1.1"/>
<circle cx="271.49" cy="261.84" r="1.1"/>
<circle cx="268.16" cy="265.17" r="1.1"/>
<circle cx="264.83" cy="268.5" r="1.1"/>
<circle cx="261.5" cy="271.83" r="1.1"/>
<circle cx="258.17" cy="275.16" r="1.1"/>
<circle cx="254.84" cy="278.49" r="1.1"/>
<circle cx="251.51" cy="281.82" r="1.1"/>
<circle cx="248.18" cy="285.15" r="1.1"/>
<circle cx="244.85" cy="288.48" r="1.1"/>
<circle cx="241.52" cy="291.81" r="1.1"/>
<circle cx="354.74" cy="185.25" r="1.1"/>
<circle cx="351.41" cy="188.58" r="1.1"/>
<circle cx="348.08" cy="191.91" r="1.1"/>
<circle cx="344.75" cy="195.24" r="1.1"/>
<circle cx="341.42" cy="198.57" r="1.1"/>
<circle cx="338.09" cy="201.9" r="1.1"/>
<circle cx="334.76" cy="205.23" r="1.1"/>
<circle cx="331.43" cy="208.56" r="1.1"/>
<circle cx="328.1" cy="211.89" r="1.1"/>
<circle cx="324.77" cy="215.22" r="1.1"/>
<circle cx="321.44" cy="218.55" r="1.1"/>
<circle cx="318.11" cy="221.88" r="1.1"/>
<circle cx="314.78" cy="225.21" r="1.1"/>
<circle cx="311.45" cy="228.54" r="1.1"/>
<circle cx="308.12" cy="231.87" r="1.1"/>
<circle cx="304.79" cy="235.2" r="1.1"/>
<circle cx="301.46" cy="238.53" r="1.1"/>
<circle cx="298.13" cy="241.86" r="1.1"/>
<circle cx="294.8" cy="245.19" r="1.1"/>
<circle cx="291.47" cy="248.52" r="1.1"/>
<circle cx="288.14" cy="251.85" r="1.1"/>
<circle cx="284.81" cy="255.18" r="1.1"/>
<circle cx="281.48" cy="258.51" r="1.1"/>
<circle cx="278.15" cy="261.84" r="1.1"/>
<circle cx="274.82" cy="265.17" r="1.1"/>
<circle cx="271.49" cy="268.5" r="1.1"/>
<circle cx="268.16" cy="271.83" r="1.1"/>
<circle cx="264.83" cy="275.16" r="1.1"/>
<circle cx="261.5" cy="278.49" r="1.1"/>
<circle cx="258.17" cy="281.82" r="1.1"/>
<circle cx="254.84" cy="285.15" r="1.1"/>
<circle cx="251.51" cy="288.48" r="1.1"/>
<circle cx="248.18" cy="291.81" r="1.1"/>
<circle cx="244.85" cy="295.14" r="1.1"/>
<circle cx="358.07" cy="188.58" r="1.1"/>
<circle cx="354.74" cy="191.91" r="1.1"/>
<circle cx="351.41" cy="195.24" r="1.1"/>
<circle cx="348.08" cy="198.57" r="1.1"/>
<circle cx="344.75" cy="201.9" r="1.1"/>
<circle cx="341.42" cy="205.23" r="1.1"/>
<circle cx="338.09" cy="208.56" r="1.1"/>
<circle cx="334.76" cy="211.89" r="1.1"/>
<circle cx="331.43" cy="215.22" r="1.1"/>
<circle cx="328.1" cy="218.55" r="1.1"/>
<circle cx="324.77" cy="221.88" r="1.1"/>
<circle cx="321.44" cy="225.21" r="1.1"/>
<circle cx="318.11" cy="228.54" r="1.1"/>
<circle cx="314.78" cy="231.87" r="1.1"/>
<circle cx="311.45" cy="235.2" r="1.1"/>
<circle cx="308.12" cy="238.53" r="1.1"/>
<circle cx="304.79" cy="241.86" r="1.1"/>
<circle cx="301.46" cy="245.19" r="1.1"/>
<circle cx="298.13" cy="248.52" r="1.1"/>
<circle cx="294.8" cy="251.85" r="1.1"/>
<circle cx="291.47" cy="255.18" r="1.1"/>
<circle cx="288.14" cy="258.51" r="1.1"/>
<circle cx="284.81" cy="261.84" r="1.1"/>
<circle cx="281.48" cy="265.17" r="1.1"/>
<circle cx="278.15" cy="268.5" r="1.1"/>
<circle cx="274.82" cy="271.83" r="1.1"/>
<circle cx="271.49" cy="275.16" r="1.1"/>
<circle cx="268.16" cy="278.49" r="1.1"/>
<circle cx="264.83" cy="281.82" r="1.1"/>
<circle cx="261.5" cy="285.15" r="1.1"/>
<circle cx="258.17" cy="288.48" r="1.1"/>
<circle cx="254.84" cy="291.81" r="1.1"/>
<circle cx="251.51" cy="295.14" r="1.1"/>
<circle cx="248.18" cy="298.47" r="1.1"/>
<circle cx="361.4" cy="191.91" r="1.1"/>
<circle cx="358.07" cy="195.24" r="1.1"/>
<circle cx="354.74" cy="198.57" r="1.1"/>
<circle cx="351.41" cy="201.9" r="1.1"/>
<circle cx="348.08" cy="205.23" r="1.1"/>
<circle cx="344.75" cy="208.56" r="1.1"/>
<circle cx="341.42" cy="211.89" r="1.1"/>
<circle cx="338.09" cy="215.22" r="1.1"/>
<circle cx="334.76" cy="218.55" r="1.1"/>
<circle cx="331.43" cy="221.88" r="1.1"/>
<circle cx="328.1" cy="225.21" r="1.1"/>
<circle cx="324.77" cy="228.54" r="1.1"/>
<circle cx="321.44" cy="231.87" r="1.1"/>
<circle cx="318.11" cy="235.2" r="1.1"/>
<circle cx="314.78" cy="238.53" r="1.1"/>
<circle cx="311.45" cy="241.86" r="1.1"/>
<circle cx="308.12" cy="245.19" r="1.1"/>
<circle cx="304.79" cy="248.52" r="1.1"/>
<circle cx="301.46" cy="251.85" r="1.1"/>
<circle cx="298.13" cy="255.18" r="1.1"/>
<circle cx="294.8" cy="258.51" r="1.1"/>
<circle cx="291.47" cy="261.84" r="1.1"/>
<circle cx="288.14" cy="265.17" r="1.1"/>
<circle cx="284.81" cy="268.5" r="1.1"/>
<circle cx="281.48" cy="271.83" r="1.1"/>
<circle cx="278.15" cy="275.16" r="1.1"/>
<circle cx="274.82" cy="278.49" r="1.1"/>
<circle cx="271.49" cy="281.82" r="1.1"/>
<circle cx="268.16" cy="285.15" r="1.1"/>
<circle cx="264.83" cy="288.48" r="1.1"/>
<circle cx="261.5" cy="291.81" r="1.1"/>
<circle cx="258.17" cy="295.14" r="1.1"/>
<circle cx="254.84" cy="298.47" r="1.1"/>
<circle cx="251.51" cy="301.8" r="1.1"/>
<circle cx="364.73" cy="195.24" r="1.1"/>
<circle cx="361.4" cy="198.57" r="1.1"/>
<circle cx="358.07" cy="201.9" r="1.1"/>
<circle cx="354.74" cy="205.23" r="1.1"/>
<circle cx="351.41" cy="208.56" r="1.1"/>
<circle cx="348.08" cy="211.89" r="1.1"/>
<circle cx="344.75" cy="215.22" r="1.1"/>
<circle cx="341.42" cy="218.55" r="1.1"/>
<circle cx="338.09" cy="221.88" r="1.1"/>
<circle cx="334.76" cy="225.21" r="1.1"/>
<circle cx="331.43" cy="228.54" r="1.1"/>
<circle cx="328.1" cy="231.87" r="1.1"/>
<circle cx="324.77" cy="235.2" r="1.1"/>
<circle cx="321.44" cy="238.53" r="1.1"/>
<circle cx="318.11" cy="241.86" r="1.1"/>
<circle cx="314.78" cy="245.19" r="1.1"/>
<circle cx="311.45" cy="248.52" r="1.1"/>
<circle cx="308.12" cy="251.85" r="1.1"/>
<circle cx="304.79" cy="255.18" r="1.1"/>
<circle cx="301.46" cy="258.51" r="1.1"/>
<circle cx="298.13" cy="261.84" r="1.1"/>
<circle cx="294.8" cy="265.17" r="1.1"/>
<circle cx="291.47" cy="268.5" r="1.1"/>
<circle cx="288.14" cy="271.83" r="1.1"/>
<circle cx="284.81" cy="275.16" r="1.1"/>
<circle cx="281.48" cy="278.49" r="1.1"/>
<circle cx="278.15" cy="281.82" r="1.1"/>
<circle cx="274.82" cy="285.15" r="1.1"/>
<circle cx="271.49" cy="288.48" r="1.1"/>
<circle cx="268.16" cy="291.81" r="1.1"/>
<circle cx="264.83" cy="295.14" r="1.1"/>
<circle cx="261.5" cy="298.47" r="1.1"/>
<circle cx="258.17" cy="301.8" r="1.1"/>
<circle cx="254.84" cy="305.13" r="1.1"/>
<circle cx="368.06" cy="198.57" r="1.1"/>
<circle cx="364.73" cy="201.9" r="1.1"/>
<circle cx="361.4" cy="205.23" r="1.1"/>
<circle cx="358.07" cy="208.56" r="1.1"/>
<circle cx="354.74" cy="211.89" r="1.1"/>
<circle cx="351.41" cy="215.22" r="1.1"/>
<circle cx="348.08" cy="218.55" r="1.1"/>
<circle cx="344.75" cy="221.88" r="1.1"/>
<circle cx="341.42" cy="225.21" r="1.1"/>
<circle cx="338.09" cy="228.54" r="1.1"/>
<circle cx="334.76" cy="231.87" r="1.1"/>
<circle cx="331.43" cy="235.2" r="1.1"/>
<circle cx="328.1" cy="238.53" r="1.1"/>
<circle cx="324.77" cy="241.86" r="1.1"/>
<circle cx="321.44" cy="245.19" r="1.1"/>
<circle cx="318.11" cy="248.52" r="1.1"/>
<circle cx="314.78" cy="251.85" r="1.1"/>
<circle cx="311.45" cy="255.18" r="1.1"/>
<circle cx="308.12" cy="258.51" r="1.1"/>
<circle cx="304.79" cy="261.84" r="1.1"/>
<circle cx="301.46" cy="265.17" r="1.1"/>
<circle cx="298.13" cy="268.5" r="1.1"/>
<circle cx="294.8" cy="271.83" r="1.1"/>
<circle cx="291.47" cy="275.16" r="1.1"/>
<circle cx="288.14" cy="278.49" r="1.1"/>
<circle cx="284.81" cy="281.82" r="1.1"/>
<circle cx="281.48" cy="285.15" r="1.1"/>
<circle cx="278.15" cy="288.48" r="1.1"/>
<circle cx="274.82" cy="291.81" r="1.1"/>
<circle cx="271.49" cy="295.14" r="1.1"/>
<circle cx="268.16" cy="298.47" r="1.1"/>
<circle cx="264.83" cy="301.8" r="1.1"/>
<circle cx="261.5" cy="305.13" r="1.1"/>
<circle cx="258.17" cy="308.46" r="1.1"/>
<circle cx="371.39" cy="201.9" r="1.1"/>
<circle cx="368.06" cy="205.23" r="1.1"/>
<circle cx="364.73" cy="208.56" r="1.1"/>
<circle cx="361.4" cy="211.89" r="1.1"/>
<circle cx="358.07" cy="215.22" r="1.1"/>
<circle cx="354.74" cy="218.55" r="1.1"/>
<circle cx="351.41" cy="221.88" r="1.1"/>
<circle cx="348.08" cy="225.21" r="1.1"/>
<circle cx="344.75" cy="228.54" r="1.1"/>
<circle cx="341.42" cy="231.87" r="1.1"/>
<circle cx="338.09" cy="235.2" r="1.1"/>
<circle cx="334.76" cy="238.53" r="1.1"/>
<circle cx="331.43" cy="241.86" r="1.1"/>
<circle cx="328.1" cy="245.19" r="1.1"/>
<circle cx="324.77" cy="248.52" r="1.1"/>
<circle cx="321.44" cy="251.85" r="1.1"/>
<circle cx="318.11" cy="255.18" r="1.1"/>
<circle cx="314.78" cy="258.51" r="1.1"/>
<circle cx="311.45" cy="261.84" r="1.1"/>
<circle cx="308.12" cy="265.17" r="1.1"/>
<circle cx="304.79" cy="268.5" r="1.1"/>
<circle cx="301.46" cy="271.83" r="1.1"/>
<circle cx="298.13" cy="275.16" r="1.1"/>
<circle cx="294.8" cy="278.49" r="1.1"/>
<circle cx="291.47" cy="281.82" r="1.1"/>
<circle cx="288.14" cy="285.15" r="1.1"/>
<circle cx="284.81" cy="288.48" r="1.1"/>
<circle cx="281.48" cy="291.81" r="1.1"/>
<circle cx="278.15" cy="295.14" r="1.1"/>
<circle cx="274.82" cy="298.47" r="1.1"/>
<circle cx="271.49" cy="301.8" r="1.1"/>
<circle cx="268.16" cy="305.13" r="1.1"/>
<circle cx="264.83" cy="308.46" r="1.1"/>
<circle cx="261.5" cy="311.79" r="1.1"/>
<circle cx="374.72" cy="205.23" r="1.1"/>
<circle cx="371.39" cy="208.56" r="1.1"/>
<circle cx="368.06" cy="211.89" r="1.1"/>
<circle cx="364.73" cy="215.22" r="1.1"/>
<circle cx="361.4" cy="218.55" r="1.1"/>
<circle cx="358.07" cy="221.88" r="1.1"/>
<circle cx="354.74" cy="225.21" r="1.1"/>
<circle cx="351.41" cy="228.54" r="1.1"/>
<circle cx="348.08" cy="231.87" r="1.1"/>
<circle cx="344.75" cy="235.2" r="1.1"/>
<circle cx="341.42" cy="238.53" r="1.1"/>
<circle cx="338.09" cy="241.86" r="1.1"/>
<circle cx="334.76" cy="245.19" r="1.1"/>
<circle cx="331.43" cy="248.52" r="1.1"/>
<circle cx="328.1" cy="251.85" r="1.1"/>
<circle cx="324.77" cy="255.18" r="1.1"/>
<circle cx="321.44" cy="258.51" r="1.1"/>
<circle cx="318.11" cy="261.84" r="1.1"/>
<circle cx="314.78" cy="265.17" r="1.1"/>
<circle cx="311.45" cy="268.5" r="1.1"/>
<circle cx="308.12" cy="271.83" r="1.1"/>
<circle cx="304.79" cy="275.16" r="1.1"/>
<circle cx="301.46" cy="278.49" r="1.1"/>
<circle cx="298.13" cy="281.82" r="1.1"/>
<circle cx="291.47" cy="288.48" r="1.1"/>
<circle cx="288.14" cy="291.81" r="1.1"/>
<circle cx="284.81" cy="295.14" r="1.1"/>
<circle cx="281.48" cy="298.47" r="1.1"/>
<circle cx="278.15" cy="301.8" r="1.1"/>
<circle cx="274.82" cy="305.13" r="1.1"/>
<circle cx="271.49" cy="308.46" r="1.1"/>
<circle cx="268.16" cy="311.79" r="1.1"/>
<circle cx="264.83" cy="315.12" r="1.1"/>
<circle cx="378.05" cy="208.56" r="1.1"/>
<circle cx="374.72" cy="211.89" r="1.1"/>
<circle cx="371.39" cy="215.22" r="1.1"/>
<circle cx="368.06" cy="218.55" r="1.1"/>
<circle cx="364.73" cy="221.88" r="1.1"/>
<circle cx="361.4" cy="225.21" r="1.1"/>
<circle cx="358.07" cy="228.54" r="1.1"/>
<circle cx="354.74" cy="231.87" r="1.1"/>
<circle cx="348.08" cy="238.53" r="1.1"/>
<circle cx="344.75" cy="241.86" r="1.1"/>
<circle cx="341.42" cy="245.19" r="1.1"/>
<circle cx="338.09" cy="248.52" r="1.1"/>
<circle cx="334.76" cy="251.85" r="1.1"/>
<circle cx="331.43" cy="255.18" r="1.1"/>
<circle cx="328.1" cy="258.51" r="1.1"/>
<circle cx="321.44" cy="265.17" r="1.1"/>
<circle cx="318.11" cy="268.5" r="1.1"/>
<circle cx="314.78" cy="271.83" r="1.1"/>
<circle cx="311.45" cy="275.16" r="1.1"/>
<circle cx="308.12" cy="278.49" r="1.1"/>
<circle cx="304.79" cy="281.82" r="1.1"/>
<circle cx="301.46" cy="285.15" r="1.1"/>
<circle cx="298.13" cy="288.48" r="1.1"/>
<circle cx="291.47" cy="295.14" r="1.1"/>
<circle cx="288.14" cy="298.47" r="1.1"/>
<circle cx="284.81" cy="301.8" r="1.1"/>
<circle cx="281.48" cy="305.13" r="1.1"/>
<circle cx="278.15" cy="308.46" r="1.1"/>
<circle cx="274.82" cy="311.79" r="1.1"/>
<circle cx="271.49" cy="315.12" r="1.1"/>
<circle cx="268.16" cy="318.45" r="1.1"/>
<circle cx="381.38" cy="211.89" r="1.1"/>
<circle cx="378.05" cy="215.22" r="1.1"/>
<circle cx="374.72" cy="218.55" r="1.1"/>
<circle cx="371.39" cy="221.88" r="1.1"/>
<circle cx="368.06" cy="225.21" r="1.1"/>
<circle cx="364.73" cy="228.54" r="1.1"/>
<circle cx="361.4" cy="231.87" r="1.1"/>
<circle cx="354.74" cy="238.53" r="1.1"/>
<circle cx="351.41" cy="241.86" r="1.1"/>
<circle cx="348.08" cy="245.19" r="1.1"/>
<circle cx="344.75" cy="248.52" r="1.1"/>
<circle cx="341.42" cy="251.85" r="1.1"/>
<circle cx="338.09" cy="255.18" r="1.1"/>
<circle cx="334.76" cy="258.51" r="1.1"/>
<circle cx="331.43" cy="261.84" r="1.1"/>
<circle cx="324.77" cy="268.5" r="1.1"/>
<circle cx="321.44" cy="271.83" r="1.1"/>
<circle cx="318.11" cy="275.16" r="1.1"/>
<circle cx="314.78" cy="278.49" r="1.1"/>
<circle cx="311.45" cy="281.82" r="1.1"/>
<circle cx="308.12" cy="285.15" r="1.1"/>
<circle cx="304.79" cy="288.48" r="1.1"/>
<circle cx="301.46" cy="291.81" r="1.1"/>
<circle cx="298.13" cy="295.14" r="1.1"/>
<circle cx="291.47" cy="301.8" r="1.1"/>
<circle cx="288.14" cy="305.13" r="1.1"/>
<circle cx="284.81" cy="308.46" r="1.1"/>
<circle cx="281.48" cy="311.79" r="1.1"/>
<circle cx="278.15" cy="315.12" r="1.1"/>
<circle cx="274.82" cy="318.45" r="1.1"/>
<circle cx="271.49" cy="321.78" r="1.1"/>
<circle cx="384.71" cy="215.22" r="1.1"/>
<circle cx="381.38" cy="218.55" r="1.1"/>
<circle cx="378.05" cy="221.88" r="1.1"/>
<circle cx="374.72" cy="225.21" r="1.1"/>
<circle cx="371.39" cy="228.54" r="1.1"/>
<circle cx="368.06" cy="231.87" r="1.1"/>
<circle cx="361.4" cy="238.53" r="1.1"/>
<circle cx="358.07" cy="241.86" r="1.1"/>
<circle cx="354.74" cy="245.19" r="1.1"/>
<circle cx="351.41" cy="248.52" r="1.1"/>
<circle cx="348.08" cy="251.85" r="1.1"/>
<circle cx="344.75" cy="255.18" r="1.1"/>
<circle cx="341.42" cy="258.51" r="1.1"/>
<circle cx="338.09" cy="261.84" r="1.1"/>
<circle cx="334.76" cy="265.17" r="1.1"/>
<circle cx="328.1" cy="271.83" r="1.1"/>
<circle cx="324.77" cy="275.16" r="1.1"/>
<circle cx="321.44" cy="278.49" r="1.1"/>
<circle cx="318.11" cy="281.82" r="1.1"/>
<circle cx="314.78" cy="285.15" r="1.1"/>
<circle cx="311.45" cy="288.48" r="1.1"/>
<circle cx="308.12" cy="291.81" r="1.1"/>
<circle cx="304.79" cy="295.14" r="1.1"/>
<circle cx="301.46" cy="298.47" r="1.1"/>
<circle cx="298.13" cy="301.8" r="1.1"/>
<circle cx="291.47" cy="308.46" r="1.1"/>
<circle cx="288.14" cy="311.79" r="1.1"/>
<circle cx="284.81" cy="315.12" r="1.1"/>
<circle cx="281.48" cy="318.45" r="1.1"/>
<circle cx="278.15" cy="321.78" r="1.1"/>
<circle cx="274.82" cy="325.11" r="1.1"/>
<circle cx="388.04" cy="218.55" r="1.1"/>
<circle cx="384.71" cy="221.88" r="1.1"/>
<circle cx="381.38" cy="225.21" r="1.1"/>
<circle cx="378.05" cy="228.54" r="1.1"/>
<circle cx="374.72" cy="231.87" r="1.1"/>
<circle cx="368.06" cy="238.53" r="1.1"/>
<circle cx="364.73" cy="241.86" r="1.1"/>
<circle cx="361.4" cy="245.19" r="1.1"/>
<circle cx="358.07" cy="248.52" r="1.1"/>
<circle cx="354.74" cy="251.85" r="1.1"/>
<circle cx="351.41" cy="255.18" r="1.1"/>
<circle cx="348.08" cy="258.51" r="1.1"/>
<circle cx="344.75" cy="261.84" r="1.1"/>
<circle cx="341.42" cy="265.17" r="1.1"/>
<circle cx="338.09" cy="268.5" r="1.1"/>
<circle cx="331.43" cy="275.16" r="1.1"/>
<circle cx="328.1" cy="278.49" r="1.1"/>
<circle cx="324.77" cy="281.82" r="1.1"/>
<circle cx="321.44" cy="285.15" r="1.1"/>
<circle cx="318.11" cy="288.48" r="1.1"/>
<circle cx="314.78" cy="291.81" r="1.1"/>
<circle cx="311.45" cy="295.14" r="1.1"/>
<circle cx="308.12" cy="298.47" r="1.1"/>
<circle cx="304.79" cy="301.8" r="1.1"/>
<circle cx="301.46" cy="305.13" r="1.1"/>
<circle cx="298.13" cy="308.46" r="1.1"/>
<circle cx="291.47" cy="315.12" r="1.1"/>
<circle cx="288.14" cy="318.45" r="1.1"/>
<circle cx="284.81" cy="321.78" r="1.1"/>
<circle cx="281.48" cy="325.11" r="1.1"/>
<circle cx="278.15" cy="328.44" r="1.1"/>
<circle cx="391.37" cy="221.88" r="1.1"/>
<circle cx="388.04" cy="225.21" r="1.1"/>
<circle cx="384.71" cy="228.54" r="1.1"/>
<circle cx="381.38" cy="231.87" r="1.1"/>
<circle cx="378.05" cy="235.2" r="1.1"/>
<circle cx="374.72" cy="238.53" r="1.1"/>
<circle cx="371.39" cy="241.86" r="1.1"/>
<circle cx="368.06" cy="245.19" r="1.1"/>
<circle cx="364.73" cy="248.52" r="1.1"/>
<circle cx="361.4" cy="251.85" r="1.1"/>
<circle cx="358.07" cy="255.18" r="1.1"/>
<circle cx="354.74" cy="258.51" r="1.1"/>
<circle cx="351.41" cy="261.84" r="1.1"/>
<circle cx="348.08" cy="265.17" r="1.1"/>
<circle cx="344.75" cy="268.5" r="1.1"/>
<circle cx="341.42" cy="271.83" r="1.1"/>
<circle cx="334.76" cy="278.49" r="1.1"/>
<circle cx="331.43" cy="281.82" r="1.1"/>
<circle cx="328.1" cy="285.15" r="1.1"/>
<circle cx="324.77" cy="288.48" r="1.1"/>
<circle cx="321.44" cy="291.81" r="1.1"/>
<circle cx="318.11" cy="295.14" r="1.1"/>
<circle cx="314.78" cy="298.47" r="1.1"/>
<circle cx="311.45" cy="301.8" r="1.1"/>
<circle cx="308.12" cy="305.13" r="1.1"/>
<circle cx="304.79" cy="308.46" r="1.1"/>
<circle cx="301.46" cy="311.79" r="1.1"/>
<circle cx="298.13" cy="315.12" r="1.1"/>
<circle cx="294.8" cy="318.45" r="1.1"/>
<circle cx="291.47" cy="321.78" r="1.1"/>
<circle cx="288.14" cy="325.11" r="1.1"/>
<circle cx="284.81" cy="328.44" r="1.1"/>
<circle cx="281.48" cy="331.77" r="1.1"/>
<circle cx="391.37" cy="228.54" r="1.1"/>
<circle cx="388.04" cy="231.87" r="1.1"/>
<circle cx="384.71" cy="235.2" r="1.1"/>
<circle cx="381.38" cy="238.53" r="1.1"/>
<circle cx="378.05" cy="241.86" r="1.1"/>
<circle cx="374.72" cy="245.19" r="1.1"/>
<circle cx="371.39" cy="248.52" r="1.1"/>
<circle cx="368.06" cy="251.85" r="1.1"/>
<circle cx="364.73" cy="255.18" r="1.1"/>
<circle cx="361.4" cy="258.51" r="1.1"/>
<circle cx="358.07" cy="261.84" r="1.1"/>
<circle cx="354.74" cy="265.17" r="1.1"/>
<circle cx="351.41" cy="268.5" r="1.1"/>
<circle cx="348.08" cy="271.83" r="1.1"/>
<circle cx="344.75" cy="275.16" r="1.1"/>
<circle cx="341.42" cy="278.49" r="1.1"/>
<circle cx="338.09" cy="281.82" r="1.1"/>
<circle cx="334.76" cy="285.15" r="1.1"/>
<circle cx="331.43" cy="288.48" r="1.1"/>
<circle cx="328.1" cy="291.81" r="1.1"/>
<circle cx="324.77" cy="295.14" r="1.1"/>
<circle cx="321.44" cy="298.47" r="1.1"/>
<circle cx="318.11" cy="301.8" r="1.1"/>
<circle cx="314.78" cy="305.13" r="1.1"/>
<circle cx="311.45" cy="308.46" r="1.1"/>
<circle cx="308.12" cy="311.79" r="1.1"/>
<circle cx="304.79" cy="315.12" r="1.1"/>
<circle cx="301.46" cy="318.45" r="1.1"/>
<circle cx="298.13" cy="321.78" r="1.1"/>
<circle cx="294.8" cy="325.11" r="1.1"/>
<circle cx="291.47" cy="328.44" r="1.1"/>
<circle cx="288.14" cy="331.77" r="1.1"/>
<circle cx="398.03" cy="228.54" r="1.1"/>
<circle cx="394.7" cy="231.87" r="1.1"/>
<circle cx="391.37" cy="235.2" r="1.1"/>
<circle cx="388.04" cy="238.53" r="1.1"/>
<circle cx="384.71" cy="241.86" r="1.1"/>
<circle cx="381.38" cy="245.19" r="1.1"/>
<circle cx="378.05" cy="248.52" r="1.1"/>
<circle cx="374.72" cy="251.85" r="1.1"/>
<circle cx="371.39" cy="255.18" r="1.1"/>
<circle cx="368.06" cy="258.51" r="1.1"/>
<circle cx="364.73" cy="261.84" r="1.1"/>
<circle cx="361.4" cy="265.17" r="1.1"/>
<circle cx="358.07" cy="268.5" r="1.1"/>
<circle cx="354.74" cy="271.83" r="1.1"/>
<circle cx="351.41" cy="275.16" r="1.1"/>
<circle cx="348.08" cy="278.49" r="1.1"/>
<circle cx="344.75" cy="281.82" r="1.1"/>
<circle cx="341.42" cy="285.15" r="1.1"/>
<circle cx="338.09" cy="288.48" r="1.1"/>
<circle cx="334.76" cy="291.81" r="1.1"/>
<circle cx="331.43" cy="295.14" r="1.1"/>
<circle cx="328.1" cy="298.47" r="1.1"/>
<circle cx="324.77" cy="301.8" r="1.1"/>
<circle cx="321.44" cy="305.13" r="1.1"/>
<circle cx="318.11" cy="308.46" r="1.1"/>
<circle cx="314.78" cy="311.79" r="1.1"/>
<circle cx="311.45" cy="315.12" r="1.1"/>
<circle cx="308.12" cy="318.45" r="1.1"/>
<circle cx="304.79" cy="321.78" r="1.1"/>
<circle cx="301.46" cy="325.11" r="1.1"/>
<circle cx="298.13" cy="328.44" r="1.1"/>
<circle cx="294.8" cy="331.77" r="1.1"/>
<circle cx="291.47" cy="335.1" r="1.1"/>
<circle cx="288.14" cy="338.43" r="1.1"/>
<circle cx="401.36" cy="231.87" r="1.1"/>
<circle cx="398.03" cy="235.2" r="1.1"/>
<circle cx="394.7" cy="238.53" r="1.1"/>
<circle cx="391.37" cy="241.86" r="1.1"/>
<circle cx="388.04" cy="245.19" r="1.1"/>
<circle cx="384.71" cy="248.52" r="1.1"/>
<circle cx="381.38" cy="251.85" r="1.1"/>
<circle cx="378.05" cy="255.18" r="1.1"/>
<circle cx="374.72" cy="258.51" r="1.1"/>
<circle cx="371.39" cy="261.84" r="1.1"/>
<circle cx="368.06" cy="265.17" r="1.1"/>
<circle cx="364.73" cy="268.5" r="1.1"/>
<circle cx="361.4" cy="271.83" r="1.1"/>
<circle cx="358.07" cy="275.16" r="1.1"/>
<circle cx="354.74" cy="278.49" r="1.1"/>
<circle cx="351.41" cy="281.82" r="1.1"/>
<circle cx="348.08" cy="285.15" r="1.1"/>
<circle cx="344.75" cy="288.48" r="1.1"/>
<circle cx="341.42" cy="291.81" r="1.1"/>
<circle cx="338.09" cy="295.14" r="1.1"/>
<circle cx="334.76" cy="298.47" r="1.1"/>
<circle cx="331.43" cy="301.8" r="1.1"/>
<circle cx="328.1" cy="305.13" r="1.1"/>
<circle cx="324.77" cy="308.46" r="1.1"/>
<circle cx="321.44" cy="311.79" r="1.1"/>
<circle cx="318.11" cy="315.12" r="1.1"/>
<circle cx="314.78" cy="318.45" r="1.1"/>
<circle cx="311.45" cy="321.78" r="1.1"/>
<circle cx="308.12" cy="325.11" r="1.1"/>
<circle cx="304.79" cy="328.44" r="1.1"/>
<circle cx="301.46" cy="331.77" r="1.1"/>
<circle cx="298.13" cy="335.1" r="1.1"/>
<circle cx="294.8" cy="338.43" r="1.1"/>
<circle cx="291.47" cy="341.76" r="1.1"/>
<circle cx="404.69" cy="235.2" r="1.1"/>
<circle cx="401.36" cy="238.53" r="1.1"/>
<circle cx="398.03" cy="241.86" r="1.1"/>
<circle cx="391.37" cy="248.52" r="1.1"/>
<circle cx="388.04" cy="251.85" r="1.1"/>
<circle cx="384.71" cy="255.18" r="1.1"/>
<circle cx="381.38" cy="258.51" r="1.1"/>
<circle cx="378.05" cy="261.84" r="1.1"/>
<circle cx="374.72" cy="265.17" r="1.1"/>
<circle cx="371.39" cy="268.5" r="1.1"/>
<circle cx="368.06" cy="271.83" r="1.1"/>
<circle cx="364.73" cy="275.16" r="1.1"/>
<circle cx="361.4" cy="278.49" r="1.1"/>
<circle cx="358.07" cy="281.82" r="1.1"/>
<circle cx="354.74" cy="285.15" r="1.1"/>
<circle cx="351.41" cy="288.48" r="1.1"/>
<circle cx="348.08" cy="291.81" r="1.1"/>
<circle cx="344.75" cy="295.14" r="1.1"/>
<circle cx="341.42" cy="298.47" r="1.1"/>
<circle cx="338.09" cy="301.8" r="1.1"/>
<circle cx="334.76" cy="305.13" r="1.1"/>
<circle cx="331.43" cy="308.46" r="1.1"/>
<circle cx="328.1" cy="311.79" r="1.1"/>
<circle cx="324.77" cy="315.12" r="1.1"/>
<circle cx="321.44" cy="318.45" r="1.1"/>
<circle cx="318.11" cy="321.78" r="1.1"/>
<circle cx="314.78" cy="325.11" r="1.1"/>
<circle cx="311.45" cy="328.44" r="1.1"/>
<circle cx="308.12" cy="331.77" r="1.1"/>
<circle cx="301.46" cy="338.43" r="1.1"/>
<circle cx="298.13" cy="341.76" r="1.1"/>
<circle cx="294.8" cy="345.09" r="1.1"/>
</g>
<polygon points="164,235.2 170.5,232 170.5,238.4" fill="#000" stroke="#000" stroke-width="0.3"/>
<polygon points="177.5,235.2 180.5,232.6 180.5,237.8" fill="none" stroke="#000" stroke-width="0.8"/>
<text transform="translate(209.3,184.6) rotate(-45)" font-size="6.8" font-weight="bold" textLength="8.5" lengthAdjust="spacingAndGlyphs">U1</text>
<g fill="#c8c8c8" stroke="#1a1a1a" stroke-width="1.0">
<circle cx="132.61" cy="103.53" r="1.1"/>
<circle cx="136.7" cy="107.62" r="1.1"/>
<circle cx="140.79" cy="111.7" r="1.1"/>
<circle cx="144.88" cy="115.79" r="1.1"/>
<circle cx="148.96" cy="119.88" r="1.1"/>
<circle cx="161.22" cy="132.14" r="1.1"/>
<circle cx="165.31" cy="136.22" r="1.1"/>
<circle cx="169.4" cy="140.31" r="1.1"/>
<circle cx="173.48" cy="144.4" r="1.1"/>
<circle cx="177.57" cy="148.49" r="1.1"/>
<circle cx="129.26" cy="106.88" r="1.1"/>
<circle cx="133.35" cy="110.97" r="1.1"/>
<circle cx="137.44" cy="115.05" r="1.1"/>
<circle cx="141.52" cy="119.14" r="1.1"/>
<circle cx="145.61" cy="123.23" r="1.1"/>
<circle cx="157.87" cy="135.49" r="1.1"/>
<circle cx="161.96" cy="139.58" r="1.1"/>
<circle cx="166.05" cy="143.66" r="1.1"/>
<circle cx="170.13" cy="147.75" r="1.1"/>
<circle cx="174.22" cy="151.84" r="1.1"/>
<circle cx="125.91" cy="110.23" r="1.1"/>
<circle cx="130" cy="114.32" r="1.1"/>
<circle cx="134.08" cy="118.41" r="1.1"/>
<circle cx="138.17" cy="122.49" r="1.1"/>
<circle cx="142.26" cy="126.58" r="1.1"/>
<circle cx="154.52" cy="138.84" r="1.1"/>
<circle cx="158.61" cy="142.93" r="1.1"/>
<circle cx="162.69" cy="147.02" r="1.1"/>
<circle cx="166.78" cy="151.1" r="1.1"/>
<circle cx="170.87" cy="155.19" r="1.1"/>
<circle cx="122.56" cy="113.58" r="1.1"/>
<circle cx="126.65" cy="117.67" r="1.1"/>
<circle cx="130.73" cy="121.76" r="1.1"/>
<circle cx="134.82" cy="125.84" r="1.1"/>
<circle cx="138.91" cy="129.93" r="1.1"/>
<circle cx="151.17" cy="142.19" r="1.1"/>
<circle cx="155.26" cy="146.28" r="1.1"/>
<circle cx="159.34" cy="150.37" r="1.1"/>
<circle cx="163.43" cy="154.45" r="1.1"/>
<circle cx="167.52" cy="158.54" r="1.1"/>
<circle cx="119.21" cy="116.94" r="1.1"/>
<circle cx="123.29" cy="121.02" r="1.1"/>
<circle cx="127.38" cy="125.11" r="1.1"/>
<circle cx="131.47" cy="129.2" r="1.1"/>
<circle cx="135.56" cy="133.28" r="1.1"/>
<circle cx="147.82" cy="145.54" r="1.1"/>
<circle cx="151.9" cy="149.63" r="1.1"/>
<circle cx="155.99" cy="153.72" r="1.1"/>
<circle cx="160.08" cy="157.81" r="1.1"/>
<circle cx="164.16" cy="161.89" r="1.1"/>
<circle cx="115.86" cy="120.29" r="1.1"/>
<circle cx="119.94" cy="124.37" r="1.1"/>
<circle cx="124.03" cy="128.46" r="1.1"/>
<circle cx="128.12" cy="132.55" r="1.1"/>
<circle cx="132.2" cy="136.64" r="1.1"/>
<circle cx="144.46" cy="148.9" r="1.1"/>
<circle cx="148.55" cy="152.98" r="1.1"/>
<circle cx="152.64" cy="157.07" r="1.1"/>
<circle cx="156.73" cy="161.16" r="1.1"/>
<circle cx="160.81" cy="165.24" r="1.1"/>
<circle cx="112.5" cy="123.64" r="1.1"/>
<circle cx="116.59" cy="127.73" r="1.1"/>
<circle cx="120.68" cy="131.81" r="1.1"/>
<circle cx="124.76" cy="135.9" r="1.1"/>
<circle cx="128.85" cy="139.99" r="1.1"/>
<circle cx="141.11" cy="152.25" r="1.1"/>
<circle cx="145.2" cy="156.34" r="1.1"/>
<circle cx="149.29" cy="160.42" r="1.1"/>
<circle cx="153.37" cy="164.51" r="1.1"/>
<circle cx="157.46" cy="168.6" r="1.1"/>
<circle cx="109.15" cy="126.99" r="1.1"/>
<circle cx="113.24" cy="131.08" r="1.1"/>
<circle cx="117.33" cy="135.16" r="1.1"/>
<circle cx="121.41" cy="139.25" r="1.1"/>
<circle cx="125.5" cy="143.34" r="1.1"/>
<circle cx="137.76" cy="155.6" r="1.1"/>
<circle cx="141.85" cy="159.69" r="1.1"/>
<circle cx="145.94" cy="163.77" r="1.1"/>
<circle cx="150.02" cy="167.86" r="1.1"/>
<circle cx="154.11" cy="171.95" r="1.1"/>
<circle cx="105.8" cy="130.34" r="1.1"/>
<circle cx="109.89" cy="134.43" r="1.1"/>
<circle cx="113.97" cy="138.52" r="1.1"/>
<circle cx="118.06" cy="142.6" r="1.1"/>
<circle cx="122.15" cy="146.69" r="1.1"/>
<circle cx="134.41" cy="158.95" r="1.1"/>
<circle cx="138.5" cy="163.04" r="1.1"/>
<circle cx="142.58" cy="167.13" r="1.1"/>
<circle cx="146.67" cy="171.21" r="1.1"/>
<circle cx="150.76" cy="175.3" r="1.1"/>
<circle cx="102.45" cy="133.69" r="1.1"/>
<circle cx="106.54" cy="137.78" r="1.1"/>
<circle cx="110.62" cy="141.87" r="1.1"/>
<circle cx="114.71" cy="145.95" r="1.1"/>
<circle cx="118.8" cy="150.04" r="1.1"/>
<circle cx="131.06" cy="162.3" r="1.1"/>
<circle cx="135.15" cy="166.39" r="1.1"/>
<circle cx="139.23" cy="170.48" r="1.1"/>
<circle cx="143.32" cy="174.56" r="1.1"/>
<circle cx="147.41" cy="178.65" r="1.1"/>
<circle cx="92.39" cy="143.75" r="1.1"/>
<circle cx="96.48" cy="147.84" r="1.1"/>
<circle cx="100.57" cy="151.92" r="1.1"/>
<circle cx="104.65" cy="156.01" r="1.1"/>
<circle cx="108.74" cy="160.1" r="1.1"/>
<circle cx="121" cy="172.36" r="1.1"/>
<circle cx="125.09" cy="176.45" r="1.1"/>
<circle cx="129.18" cy="180.53" r="1.1"/>
<circle cx="133.26" cy="184.62" r="1.1"/>
<circle cx="137.35" cy="188.71" r="1.1"/>
<circle cx="89.04" cy="147.1" r="1.1"/>
<circle cx="93.13" cy="151.19" r="1.1"/>
<circle cx="97.22" cy="155.27" r="1.1"/>
<circle cx="101.3" cy="159.36" r="1.1"/>
<circle cx="105.39" cy="163.45" r="1.1"/>
<circle cx="117.65" cy="175.71" r="1.1"/>
<circle cx="121.74" cy="179.8" r="1.1"/>
<circle cx="125.83" cy="183.88" r="1.1"/>
<circle cx="129.91" cy="187.97" r="1.1"/>
<circle cx="134" cy="192.06" r="1.1"/>
<circle cx="85.69" cy="150.45" r="1.1"/>
<circle cx="89.78" cy="154.54" r="1.1"/>
<circle cx="93.86" cy="158.63" r="1.1"/>
<circle cx="97.95" cy="162.71" r="1.1"/>
<circle cx="102.04" cy="166.8" r="1.1"/>
<circle cx="114.3" cy="179.06" r="1.1"/>
<circle cx="118.39" cy="183.15" r="1.1"/>
<circle cx="122.47" cy="187.24" r="1.1"/>
<circle cx="126.56" cy="191.32" r="1.1"/>
<circle cx="130.65" cy="195.41" r="1.1"/>
<circle cx="82.34" cy="153.8" r="1.1"/>
<circle cx="86.43" cy="157.89" r="1.1"/>
<circle cx="90.51" cy="161.98" r="1.1"/>
<circle cx="94.6" cy="166.06" r="1.1"/>
<circle cx="98.69" cy="170.15" r="1.1"/>
<circle cx="110.95" cy="182.41" r="1.1"/>
<circle cx="115.04" cy="186.5" r="1.1"/>
<circle cx="119.12" cy="190.59" r="1.1"/>
<circle cx="123.21" cy="194.67" r="1.1"/>
<circle cx="127.3" cy="198.76" r="1.1"/>
<circle cx="78.99" cy="157.16" r="1.1"/>
<circle cx="83.07" cy="161.24" r="1.1"/>
<circle cx="87.16" cy="165.33" r="1.1"/>
<circle cx="91.25" cy="169.42" r="1.1"/>
<circle cx="95.34" cy="173.5" r="1.1"/>
<circle cx="107.6" cy="185.76" r="1.1"/>
<circle cx="111.68" cy="189.85" r="1.1"/>
<circle cx="115.77" cy="193.94" r="1.1"/>
<circle cx="119.86" cy="198.03" r="1.1"/>
<circle cx="123.94" cy="202.11" r="1.1"/>
<circle cx="75.64" cy="160.51" r="1.1"/>
<circle cx="79.72" cy="164.59" r="1.1"/>
<circle cx="83.81" cy="168.68" r="1.1"/>
<circle cx="87.9" cy="172.77" r="1.1"/>
<circle cx="91.98" cy="176.86" r="1.1"/>
<circle cx="104.24" cy="189.12" r="1.1"/>
<circle cx="108.33" cy="193.2" r="1.1"/>
<circle cx="112.42" cy="197.29" r="1.1"/>
<circle cx="116.51" cy="201.38" r="1.1"/>
<circle cx="120.59" cy="205.46" r="1.1"/>
<circle cx="72.28" cy="163.86" r="1.1"/>
<circle cx="76.37" cy="167.95" r="1.1"/>
<circle cx="80.46" cy="172.03" r="1.1"/>
<circle cx="84.54" cy="176.12" r="1.1"/>
<circle cx="88.63" cy="180.21" r="1.1"/>
<circle cx="100.89" cy="192.47" r="1.1"/>
<circle cx="104.98" cy="196.56" r="1.1"/>
<circle cx="109.07" cy="200.64" r="1.1"/>
<circle cx="113.15" cy="204.73" r="1.1"/>
<circle cx="117.24" cy="208.82" r="1.1"/>
<circle cx="68.93" cy="167.21" r="1.1"/>
<circle cx="73.02" cy="171.3" r="1.1"/>
<circle cx="77.11" cy="175.38" r="1.1"/>
<circle cx="81.19" cy="179.47" r="1.1"/>
<circle cx="85.28" cy="183.56" r="1.1"/>
<circle cx="97.54" cy="195.82" r="1.1"/>
<circle cx="101.63" cy="199.91" r="1.1"/>
<circle cx="105.72" cy="203.99" r="1.1"/>
<circle cx="109.8" cy="208.08" r="1.1"/>
<circle cx="113.89" cy="212.17" r="1.1"/>
<circle cx="65.58" cy="170.56" r="1.1"/>
<circle cx="69.67" cy="174.65" r="1.1"/>
<circle cx="73.75" cy="178.74" r="1.1"/>
<circle cx="77.84" cy="182.82" r="1.1"/>
<circle cx="81.93" cy="186.91" r="1.1"/>
<circle cx="94.19" cy="199.17" r="1.1"/>
<circle cx="98.28" cy="203.26" r="1.1"/>
<circle cx="102.36" cy="207.35" r="1.1"/>
<circle cx="106.45" cy="211.43" r="1.1"/>
<circle cx="110.54" cy="215.52" r="1.1"/>
<circle cx="62.23" cy="173.91" r="1.1"/>
<circle cx="66.32" cy="178" r="1.1"/>
<circle cx="70.4" cy="182.09" r="1.1"/>
<circle cx="74.49" cy="186.18" r="1.1"/>
<circle cx="78.58" cy="190.26" r="1.1"/>
<circle cx="90.84" cy="202.52" r="1.1"/>
<circle cx="94.92" cy="206.61" r="1.1"/>
<circle cx="99.01" cy="210.7" r="1.1"/>
<circle cx="103.1" cy="214.78" r="1.1"/>
<circle cx="107.19" cy="218.87" r="1.1"/>
</g>
<line x1="131.9" y1="86.5" x2="193.9" y2="148.5" stroke="#000" stroke-width="1.1" stroke-dasharray="7.20 4.30"/>
<line x1="193.9" y1="148.5" x2="107.7" y2="234.7" stroke="#000" stroke-width="1.1" stroke-dasharray="7.20 4.27"/>
<line x1="107.7" y1="234.7" x2="45.7" y2="172.7" stroke="#000" stroke-width="1.1" stroke-dasharray="7.20 4.30"/>
<line x1="45.7" y1="172.7" x2="131.9" y2="86.5" stroke="#000" stroke-width="1.1" stroke-dasharray="7.20 4.27"/>
<polyline points="127.1,101.9 131.7,97.3 136.3,101.9" fill="none" stroke="#000" stroke-width="1.2"/>
<polyline points="178.5,144.1 183.1,148.7 178.5,153.3" fill="none" stroke="#000" stroke-width="1.2"/>
<polyline points="112.5,219.3 107.9,223.9 103.3,219.3" fill="none" stroke="#000" stroke-width="1.2"/>
<polyline points="61.1,167.9 56.5,172.5 61.1,177.1" fill="none" stroke="#000" stroke-width="1.2"/>
<g fill="#c8c8c8" stroke="#1a1a1a" stroke-width="1.0">
<circle cx="106.74" cy="250.93" r="1.1"/>
<circle cx="102.65" cy="255.02" r="1.1"/>
<circle cx="98.56" cy="259.1" r="1.1"/>
<circle cx="94.47" cy="263.19" r="1.1"/>
<circle cx="90.39" cy="267.28" r="1.1"/>
<circle cx="78.13" cy="279.54" r="1.1"/>
<circle cx="74.04" cy="283.62" r="1.1"/>
<circle cx="69.95" cy="287.71" r="1.1"/>
<circle cx="65.87" cy="291.8" r="1.1"/>
<circle cx="61.78" cy="295.89" r="1.1"/>
<circle cx="110.09" cy="254.28" r="1.1"/>
<circle cx="106" cy="258.37" r="1.1"/>
<circle cx="101.91" cy="262.45" r="1.1"/>
<circle cx="97.83" cy="266.54" r="1.1"/>
<circle cx="93.74" cy="270.63" r="1.1"/>
<circle cx="81.48" cy="282.89" r="1.1"/>
<circle cx="77.39" cy="286.98" r="1.1"/>
<circle cx="73.3" cy="291.06" r="1.1"/>
<circle cx="69.22" cy="295.15" r="1.1"/>
<circle cx="65.13" cy="299.24" r="1.1"/>
<circle cx="113.44" cy="257.63" r="1.1"/>
<circle cx="109.35" cy="261.72" r="1.1"/>
<circle cx="105.27" cy="265.81" r="1.1"/>
<circle cx="101.18" cy="269.89" r="1.1"/>
<circle cx="97.09" cy="273.98" r="1.1"/>
<circle cx="84.83" cy="286.24" r="1.1"/>
<circle cx="80.74" cy="290.33" r="1.1"/>
<circle cx="76.66" cy="294.42" r="1.1"/>
<circle cx="72.57" cy="298.5" r="1.1"/>
<circle cx="68.48" cy="302.59" r="1.1"/>
<circle cx="116.79" cy="260.98" r="1.1"/>
<circle cx="112.7" cy="265.07" r="1.1"/>
<circle cx="108.62" cy="269.16" r="1.1"/>
<circle cx="104.53" cy="273.24" r="1.1"/>
<circle cx="100.44" cy="277.33" r="1.1"/>
<circle cx="88.18" cy="289.59" r="1.1"/>
<circle cx="84.09" cy="293.68" r="1.1"/>
<circle cx="80.01" cy="297.77" r="1.1"/>
<circle cx="75.92" cy="301.85" r="1.1"/>
<circle cx="71.83" cy="305.94" r="1.1"/>
<circle cx="120.14" cy="264.34" r="1.1"/>
<circle cx="116.06" cy="268.42" r="1.1"/>
<circle cx="111.97" cy="272.51" r="1.1"/>
<circle cx="107.88" cy="276.6" r="1.1"/>
<circle cx="103.79" cy="280.68" r="1.1"/>
<circle cx="91.53" cy="292.94" r="1.1"/>
<circle cx="87.45" cy="297.03" r="1.1"/>
<circle cx="83.36" cy="301.12" r="1.1"/>
<circle cx="79.27" cy="305.21" r="1.1"/>
<circle cx="75.19" cy="309.29" r="1.1"/>
<circle cx="123.49" cy="267.69" r="1.1"/>
<circle cx="119.41" cy="271.77" r="1.1"/>
<circle cx="115.32" cy="275.86" r="1.1"/>
<circle cx="111.23" cy="279.95" r="1.1"/>
<circle cx="107.15" cy="284.04" r="1.1"/>
<circle cx="94.89" cy="296.3" r="1.1"/>
<circle cx="90.8" cy="300.38" r="1.1"/>
<circle cx="86.71" cy="304.47" r="1.1"/>
<circle cx="82.62" cy="308.56" r="1.1"/>
<circle cx="78.54" cy="312.64" r="1.1"/>
<circle cx="126.85" cy="271.04" r="1.1"/>
<circle cx="122.76" cy="275.13" r="1.1"/>
<circle cx="118.67" cy="279.21" r="1.1"/>
<circle cx="114.59" cy="283.3" r="1.1"/>
<circle cx="110.5" cy="287.39" r="1.1"/>
<circle cx="98.24" cy="299.65" r="1.1"/>
<circle cx="94.15" cy="303.74" r="1.1"/>
<circle cx="90.06" cy="307.82" r="1.1"/>
<circle cx="85.98" cy="311.91" r="1.1"/>
<circle cx="81.89" cy="316" r="1.1"/>
<circle cx="130.2" cy="274.39" r="1.1"/>
<circle cx="126.11" cy="278.48" r="1.1"/>
<circle cx="122.02" cy="282.56" r="1.1"/>
<circle cx="117.94" cy="286.65" r="1.1"/>
<circle cx="113.85" cy="290.74" r="1.1"/>
<circle cx="101.59" cy="303" r="1.1"/>
<circle cx="97.5" cy="307.09" r="1.1"/>
<circle cx="93.41" cy="311.17" r="1.1"/>
<circle cx="89.33" cy="315.26" r="1.1"/>
<circle cx="85.24" cy="319.35" r="1.1"/>
<circle cx="133.55" cy="277.74" r="1.1"/>
<circle cx="129.46" cy="281.83" r="1.1"/>
<circle cx="125.38" cy="285.92" r="1.1"/>
<circle cx="121.29" cy="290" r="1.1"/>
<circle cx="117.2" cy="294.09" r="1.1"/>
<circle cx="104.94" cy="306.35" r="1.1"/>
<circle cx="100.85" cy="310.44" r="1.1"/>
<circle cx="96.77" cy="314.53" r="1.1"/>
<circle cx="92.68" cy="318.61" r="1.1"/>
<circle cx="88.59" cy="322.7" r="1.1"/>
<circle cx="136.9" cy="281.09" r="1.1"/>
<circle cx="132.81" cy="285.18" r="1.1"/>
<circle cx="128.73" cy="289.27" r="1.1"/>
<circle cx="124.64" cy="293.35" r="1.1"/>
<circle cx="120.55" cy="297.44" r="1.1"/>
<circle cx="108.29" cy="309.7" r="1.1"/>
<circle cx="104.2" cy="313.79" r="1.1"/>
<circle cx="100.12" cy="317.88" r="1.1"/>
<circle cx="96.03" cy="321.96" r="1.1"/>
<circle cx="91.94" cy="326.05" r="1.1"/>
<circle cx="146.96" cy="291.15" r="1.1"/>
<circle cx="142.87" cy="295.24" r="1.1"/>
<circle cx="138.78" cy="299.32" r="1.1"/>
<circle cx="134.7" cy="303.41" r="1.1"/>
<circle cx="130.61" cy="307.5" r="1.1"/>
<circle cx="118.35" cy="319.76" r="1.1"/>
<circle cx="114.26" cy="323.85" r="1.1"/>
<circle cx="110.17" cy="327.93" r="1.1"/>
<circle cx="106.09" cy="332.02" r="1.1"/>
<circle cx="102" cy="336.11" r="1.1"/>
<circle cx="150.31" cy="294.5" r="1.1"/>
<circle cx="146.22" cy="298.59" r="1.1"/>
<circle cx="142.13" cy="302.67" r="1.1"/>
<circle cx="138.05" cy="306.76" r="1.1"/>
<circle cx="133.96" cy="310.85" r="1.1"/>
<circle cx="121.7" cy="323.11" r="1.1"/>
<circle cx="117.61" cy="327.2" r="1.1"/>
<circle cx="113.52" cy="331.28" r="1.1"/>
<circle cx="109.44" cy="335.37" r="1.1"/>
<circle cx="105.35" cy="339.46" r="1.1"/>
<circle cx="153.66" cy="297.85" r="1.1"/>
<circle cx="149.57" cy="301.94" r="1.1"/>
<circle cx="145.49" cy="306.03" r="1.1"/>
<circle cx="141.4" cy="310.11" r="1.1"/>
<circle cx="137.31" cy="314.2" r="1.1"/>
<circle cx="125.05" cy="326.46" r="1.1"/>
<circle cx="120.96" cy="330.55" r="1.1"/>
<circle cx="116.88" cy="334.64" r="1.1"/>
<circle cx="112.79" cy="338.72" r="1.1"/>
<circle cx="108.7" cy="342.81" r="1.1"/>
<circle cx="157.01" cy="301.2" r="1.1"/>
<circle cx="152.92" cy="305.29" r="1.1"/>
<circle cx="148.84" cy="309.38" r="1.1"/>
<circle cx="144.75" cy="313.46" r="1.1"/>
<circle cx="140.66" cy="317.55" r="1.1"/>
<circle cx="128.4" cy="329.81" r="1.1"/>
<circle cx="124.31" cy="333.9" r="1.1"/>
<circle cx="120.23" cy="337.99" r="1.1"/>
<circle cx="116.14" cy="342.07" r="1.1"/>
<circle cx="112.05" cy="346.16" r="1.1"/>
<circle cx="160.36" cy="304.56" r="1.1"/>
<circle cx="156.28" cy="308.64" r="1.1"/>
<circle cx="152.19" cy="312.73" r="1.1"/>
<circle cx="148.1" cy="316.82" r="1.1"/>
<circle cx="144.01" cy="320.9" r="1.1"/>
<circle cx="131.75" cy="333.16" r="1.1"/>
<circle cx="127.67" cy="337.25" r="1.1"/>
<circle cx="123.58" cy="341.34" r="1.1"/>
<circle cx="119.49" cy="345.43" r="1.1"/>
<circle cx="115.41" cy="349.51" r="1.1"/>
<circle cx="163.71" cy="307.91" r="1.1"/>
<circle cx="159.63" cy="311.99" r="1.1"/>
<circle cx="155.54" cy="316.08" r="1.1"/>
<circle cx="151.45" cy="320.17" r="1.1"/>
<circle cx="147.37" cy="324.26" r="1.1"/>
<circle cx="135.11" cy="336.52" r="1.1"/>
<circle cx="131.02" cy="340.6" r="1.1"/>
<circle cx="126.93" cy="344.69" r="1.1"/>
<circle cx="122.84" cy="348.78" r="1.1"/>
<circle cx="118.76" cy="352.86" r="1.1"/>
<circle cx="167.07" cy="311.26" r="1.1"/>
<circle cx="162.98" cy="315.35" r="1.1"/>
<circle cx="158.89" cy="319.43" r="1.1"/>
<circle cx="154.81" cy="323.52" r="1.1"/>
<circle cx="150.72" cy="327.61" r="1.1"/>
<circle cx="138.46" cy="339.87" r="1.1"/>
<circle cx="134.37" cy="343.96" r="1.1"/>
<circle cx="130.28" cy="348.04" r="1.1"/>
<circle cx="126.2" cy="352.13" r="1.1"/>
<circle cx="122.11" cy="356.22" r="1.1"/>
<circle cx="170.42" cy="314.61" r="1.1"/>
<circle cx="166.33" cy="318.7" r="1.1"/>
<circle cx="162.24" cy="322.78" r="1.1"/>
<circle cx="158.16" cy="326.87" r="1.1"/>
<circle cx="154.07" cy="330.96" r="1.1"/>
<circle cx="141.81" cy="343.22" r="1.1"/>
<circle cx="137.72" cy="347.31" r="1.1"/>
<circle cx="133.63" cy="351.39" r="1.1"/>
<circle cx="129.55" cy="355.48" r="1.1"/>
<circle cx="125.46" cy="359.57" r="1.1"/>
<circle cx="173.77" cy="317.96" r="1.1"/>
<circle cx="169.68" cy="322.05" r="1.1"/>
<circle cx="165.6" cy="326.14" r="1.1"/>
<circle cx="161.51" cy="330.22" r="1.1"/>
<circle cx="157.42" cy="334.31" r="1.1"/>
<circle cx="145.16" cy="346.57" r="1.1"/>
<circle cx="141.07" cy="350.66" r="1.1"/>
<circle cx="136.99" cy="354.75" r="1.1"/>
<circle cx="132.9" cy="358.83" r="1.1"/>
<circle cx="128.81" cy="362.92" r="1.1"/>
<circle cx="177.12" cy="321.31" r="1.1"/>
<circle cx="173.03" cy="325.4" r="1.1"/>
<circle cx="168.95" cy="329.49" r="1.1"/>
<circle cx="164.86" cy="333.58" r="1.1"/>
<circle cx="160.77" cy="337.66" r="1.1"/>
<circle cx="148.51" cy="349.92" r="1.1"/>
<circle cx="144.43" cy="354.01" r="1.1"/>
<circle cx="140.34" cy="358.1" r="1.1"/>
<circle cx="136.25" cy="362.18" r="1.1"/>
<circle cx="132.16" cy="366.27" r="1.1"/>
</g>
<line x1="107.45" y1="233.75" x2="193.85" y2="320.15" stroke="#000" stroke-width="1.1" stroke-dasharray="7.20 4.30"/>
<line x1="193.85" y1="320.15" x2="131.45" y2="382.55" stroke="#000" stroke-width="1.1" stroke-dasharray="7.20 4.38"/>
<line x1="131.45" y1="382.55" x2="45.05" y2="296.15" stroke="#000" stroke-width="1.1" stroke-dasharray="7.20 4.30"/>
<line x1="45.05" y1="296.15" x2="107.45" y2="233.75" stroke="#000" stroke-width="1.1" stroke-dasharray="7.20 4.38"/>
<polyline points="102.95,249.45 107.55,244.85 112.15,249.45" fill="none" stroke="#000" stroke-width="1.2"/>
<polyline points="178.15,315.45 182.75,320.05 178.15,324.65" fill="none" stroke="#000" stroke-width="1.2"/>
<polyline points="135.95,366.85 131.35,371.45 126.75,366.85" fill="none" stroke="#000" stroke-width="1.2"/>
<polyline points="60.75,291.65 56.15,296.25 60.75,300.85" fill="none" stroke="#000" stroke-width="1.2"/>
<polygon points="106.8,228.4 107.72,231.68 111,232.6 107.72,233.52 106.8,236.8 105.88,233.52 102.6,232.6 105.88,231.68" fill="#000" stroke="#000" stroke-width="0.3"/>
<polygon points="186,320 192.5,316.6 192.5,323.4" fill="#000" stroke="#000" stroke-width="0.3"/>
<text transform="translate(127.6,227.1) rotate(-45)" font-size="6.8" font-weight="bold" textLength="8.5" lengthAdjust="spacingAndGlyphs">U5</text>
<text transform="translate(117.6,236.8) rotate(45)" font-size="6.8" font-weight="bold" textLength="8.5" lengthAdjust="spacingAndGlyphs">U4</text>
<polygon points="106.9,60.5 124.35,77.95 95.55,106.75 102.75,113.95 59.95,156.75 29.75,126.55 76,80.3 81.55,85.85" fill="none" stroke="#000" stroke-width="1.3"/>
<polygon points="29.75,126.55 39.35,136.15 47.75,127.75 38.15,118.15" fill="none" stroke="#000" stroke-width="1.3"/>
<polygon points="41.75,121.75 51.5,131.5 60.5,122.5 50.75,112.75" fill="none" stroke="#000" stroke-width="1.1"/>
<polygon points="39.35,136.15 52.75,149.55 70.65,131.65 57.25,118.25" fill="none" stroke="#000" stroke-width="1.1"/>
<polygon points="70.65,131.65 77.85,138.85 88.35,128.35 81.15,121.15" fill="none" stroke="#000" stroke-width="1.1"/>
<polygon points="86.15,116.15 93.35,123.35 102.75,113.95 95.55,106.75" fill="none" stroke="#000" stroke-width="1.1"/>
<g transform="translate(50.6,122.7) rotate(-135)"><circle r="2.2" fill="#fff" stroke="#777" stroke-width="0.9"/><path d="M0,-2.8 H2.8 V2.8 H0 A2.8,2.8 0 0 1 0,-2.8" fill="none" stroke="#000" stroke-width="0.9"/></g>
<g transform="translate(56.2,117) rotate(-45)"><circle r="2.2" fill="#fff" stroke="#777" stroke-width="0.9"/><path d="M0,-2.8 H2.8 V2.8 H0 A2.8,2.8 0 0 1 0,-2.8" fill="none" stroke="#000" stroke-width="0.9"/></g>
<g transform="translate(62.2,123.4) rotate(45)"><circle r="2.2" fill="#fff" stroke="#777" stroke-width="0.9"/><path d="M0,-2.8 H2.8 V2.8 H0 A2.8,2.8 0 0 1 0,-2.8" fill="none" stroke="#000" stroke-width="0.9"/></g>
<g transform="translate(55.5,129.1) rotate(135)"><circle r="2.2" fill="#fff" stroke="#777" stroke-width="0.9"/><path d="M0,-2.8 H2.8 V2.8 H0 A2.8,2.8 0 0 1 0,-2.8" fill="none" stroke="#000" stroke-width="0.9"/></g>
<g transform="translate(49.1,136.2) rotate(-135)"><circle r="2.2" fill="#fff" stroke="#777" stroke-width="0.9"/><path d="M0,-2.8 H2.8 V2.8 H0 A2.8,2.8 0 0 1 0,-2.8" fill="none" stroke="#000" stroke-width="0.9"/></g>
<g transform="translate(55.5,141.6) rotate(135)"><circle r="2.2" fill="#fff" stroke="#777" stroke-width="0.9"/><path d="M0,-2.8 H2.8 V2.8 H0 A2.8,2.8 0 0 1 0,-2.8" fill="none" stroke="#000" stroke-width="0.9"/></g>
<g transform="translate(61.6,135.5) rotate(45)"><circle r="2.2" fill="#fff" stroke="#777" stroke-width="0.9"/><path d="M0,-2.8 H2.8 V2.8 H0 A2.8,2.8 0 0 1 0,-2.8" fill="none" stroke="#000" stroke-width="0.9"/></g>
<g transform="translate(67.9,129.1) rotate(45)"><circle r="2.2" fill="#fff" stroke="#777" stroke-width="0.9"/><path d="M0,-2.8 H2.8 V2.8 H0 A2.8,2.8 0 0 1 0,-2.8" fill="none" stroke="#000" stroke-width="0.9"/></g>
<g transform="translate(77.5,132.2) rotate(135)"><circle r="2.2" fill="#fff" stroke="#777" stroke-width="0.9"/><path d="M0,-2.8 H2.8 V2.8 H0 A2.8,2.8 0 0 1 0,-2.8" fill="none" stroke="#000" stroke-width="0.9"/></g>
<g transform="translate(82.5,126.2) rotate(-45)"><circle r="2.2" fill="#fff" stroke="#777" stroke-width="0.9"/><path d="M0,-2.8 H2.8 V2.8 H0 A2.8,2.8 0 0 1 0,-2.8" fill="none" stroke="#000" stroke-width="0.9"/></g>
<g transform="translate(88.2,121.3) rotate(-45)"><circle r="2.2" fill="#fff" stroke="#777" stroke-width="0.9"/><path d="M0,-2.8 H2.8 V2.8 H0 A2.8,2.8 0 0 1 0,-2.8" fill="none" stroke="#000" stroke-width="0.9"/></g>
<g transform="translate(94,116.5) rotate(45)"><circle r="2.2" fill="#fff" stroke="#777" stroke-width="0.9"/><path d="M0,-2.8 H2.8 V2.8 H0 A2.8,2.8 0 0 1 0,-2.8" fill="none" stroke="#000" stroke-width="0.9"/></g>
<g transform="translate(109.3,70.7) rotate(-135)"><circle r="2.2" fill="#fff" stroke="#777" stroke-width="0.9"/><path d="M0,-2.8 H2.8 V2.8 H0 A2.8,2.8 0 0 1 0,-2.8" fill="none" stroke="#000" stroke-width="0.9"/></g>
<g transform="translate(115.9,77.3) rotate(45)"><circle r="2.2" fill="#fff" stroke="#777" stroke-width="0.9"/><path d="M0,-2.8 H2.8 V2.8 H0 A2.8,2.8 0 0 1 0,-2.8" fill="none" stroke="#000" stroke-width="0.9"/></g>
<g transform="translate(103.8,76.6) rotate(-135)"><circle r="2.2" fill="#fff" stroke="#777" stroke-width="0.9"/><path d="M0,-2.8 H2.8 V2.8 H0 A2.8,2.8 0 0 1 0,-2.8" fill="none" stroke="#000" stroke-width="0.9"/></g>
<g transform="translate(110.6,83.2) rotate(45)"><circle r="2.2" fill="#fff" stroke="#777" stroke-width="0.9"/><path d="M0,-2.8 H2.8 V2.8 H0 A2.8,2.8 0 0 1 0,-2.8" fill="none" stroke="#000" stroke-width="0.9"/></g>
<polygon points="78.3,90.5 91.3,103.5 107.5,87.3 94.5,74.3" fill="none" stroke="#000" stroke-width="2.0"/>
<polyline points="83.9,84.9 96.9,97.9" fill="none" stroke="#555" stroke-width="0.9"/>
<polyline points="89.4,79.4 102.4,92.4" fill="none" stroke="#555" stroke-width="0.9"/>
<polygon points="71.8,101.1 74.1,103.4 82.65,94.85 80.35,92.55" fill="none" stroke="#000" stroke-width="0.9"/>
<polygon points="76.45,105.75 78.75,108.05 87.3,99.5 85,97.2" fill="none" stroke="#000" stroke-width="0.9"/>
<polygon points="80.95,110.25 83.25,112.55 91.8,104 89.5,101.7" fill="none" stroke="#000" stroke-width="0.9"/>
<polygon points="60.7,112.3 63.1,114.7 69,108.8 66.6,106.4" fill="none" stroke="#000" stroke-width="0.9"/>
<polygon points="70.5,122.1 72.9,124.5 79.3,118.1 76.9,115.7" fill="none" stroke="#000" stroke-width="0.9"/>
<polyline points="64.25,106.25 62.25,104.25 69.5,97 71.5,99" fill="none" stroke="#000" stroke-width="2.0"/>
<polyline points="78.75,121.25 80.55,123.05 87.8,115.8 86.25,114.25" fill="none" stroke="#000" stroke-width="2.0"/>
<polygon points="92.3,100.6 97.2,102.2 94,106.2" fill="#000" stroke="#000" stroke-width="0.3"/>
<polygon points="78,120.6 81.8,122.4 79.2,124.4" fill="#000" stroke="#000" stroke-width="0.3"/>
<polyline points="63.75,156.75 67.75,152.75" fill="none" stroke="#000" stroke-width="1.0"/>
<polyline points="74.75,145.75 78.75,141.75" fill="none" stroke="#000" stroke-width="1.0"/>
<polyline points="85.75,134.75 89.75,130.75" fill="none" stroke="#000" stroke-width="1.0"/>
<polyline points="96.75,123.75 100.75,119.75" fill="none" stroke="#000" stroke-width="1.0"/>
<text transform="translate(36,129.3) rotate(-45)" font-size="6.4" font-weight="bold" textLength="4.5" lengthAdjust="spacingAndGlyphs">A</text>
<text transform="translate(45.3,132.6) rotate(-45)" font-size="7" font-weight="bold" text-anchor="middle">×</text>
<text transform="translate(104.7,109.4) rotate(-45)" font-size="7.0" font-weight="bold" textLength="17.5" lengthAdjust="spacingAndGlyphs">TP22</text>
<polyline points="106.25,112.25 109.25,109.25" fill="none" stroke="#000" stroke-width="1.0"/>
<polyline points="122.75,95.75 125.75,92.75" fill="none" stroke="#000" stroke-width="1.0"/>
<circle cx="83" cy="77.8" r="3.3" fill="none" stroke="#222" stroke-width="0.9"/>
<circle cx="118" cy="90.8" r="2.8" fill="none" stroke="#333" stroke-width="0.9"/>
<circle cx="37.8" cy="150" r="4" fill="none" stroke="#333" stroke-width="0.9"/>
<g transform="translate(140.3,77.3) rotate(-90)"><circle r="2.3" fill="#fff" stroke="#777" stroke-width="0.9"/><path d="M0,-3.0 H3.0 V3.0 H0 A3.0,3.0 0 0 1 0,-3.0" fill="none" stroke="#000" stroke-width="0.9"/></g>
<g transform="translate(140.3,87.2) rotate(90)"><circle r="2.3" fill="#fff" stroke="#777" stroke-width="0.9"/><path d="M0,-3.0 H3.0 V3.0 H0 A3.0,3.0 0 0 1 0,-3.0" fill="none" stroke="#000" stroke-width="0.9"/></g>
<g transform="translate(153.9,77.3) rotate(-90)"><circle r="2.3" fill="#fff" stroke="#777" stroke-width="0.9"/><path d="M0,-3.0 H3.0 V3.0 H0 A3.0,3.0 0 0 1 0,-3.0" fill="none" stroke="#000" stroke-width="0.9"/></g>
<g transform="translate(153.9,87.2) rotate(90)"><circle r="2.3" fill="#fff" stroke="#777" stroke-width="0.9"/><path d="M0,-3.0 H3.0 V3.0 H0 A3.0,3.0 0 0 1 0,-3.0" fill="none" stroke="#000" stroke-width="0.9"/></g>
<text transform="translate(164.63,90.2) rotate(-90)" font-size="6.8" font-weight="bold" textLength="13.2" lengthAdjust="spacingAndGlyphs" fill="#000">R34</text>
<text transform="translate(171.43,90.2) rotate(-90)" font-size="6.8" font-weight="bold" textLength="13.2" lengthAdjust="spacingAndGlyphs" fill="#000">R35</text>
<polygon points="249.8,88.5 276.5,115.3 220.3,171 193.6,144.2" fill="none" stroke="#000" stroke-width="1.3"/>
<polygon points="191.6,120.9 180.2,132.2 192.4,144.4 203.8,133" fill="none" stroke="#000" stroke-width="1.3"/>
<text transform="translate(188.6,131.0) rotate(45)" font-size="7" font-weight="bold" text-anchor="middle">×</text>
<text transform="translate(191.3,136.5) rotate(45)" font-size="6.6" font-weight="bold" textLength="4.5" lengthAdjust="spacingAndGlyphs">A</text>
<text transform="translate(204.6,142.6) rotate(-45)" font-size="7.5" font-weight="bold" textLength="15" lengthAdjust="spacingAndGlyphs">C96</text>
<text transform="translate(213.2,140.4) rotate(45)" font-size="7.5" font-weight="bold" textLength="14" lengthAdjust="spacingAndGlyphs">R23</text>
<text transform="translate(206.7,144.9) rotate(45)" font-size="7.5" font-weight="bold" textLength="14" lengthAdjust="spacingAndGlyphs">R22</text>
<text transform="translate(202.4,150.5) rotate(45)" font-size="7.5" font-weight="bold" textLength="14" lengthAdjust="spacingAndGlyphs">C90</text>
<text transform="translate(226.6,138.7) rotate(-45)" font-size="7.5" font-weight="bold" textLength="48.5" lengthAdjust="spacingAndGlyphs">U9L14 C100</text>
<text transform="translate(232.8,152.5) rotate(-45)" font-size="7.5" font-weight="bold" textLength="34" lengthAdjust="spacingAndGlyphs">C99 R20</text>
<text transform="translate(253.1,124.3) rotate(-45)" font-size="7.5" font-weight="bold" textLength="14.7" lengthAdjust="spacingAndGlyphs">C98</text>
<polygon points="284.4,60.4 348.2,60.4 348.2,110.8 332.5,110.8 332.5,115.1 319.4,115.1 319.4,108.6 301.1,108.6 301.1,95.1 284.4,95.1" fill="none" stroke="#000" stroke-width="1.3"/>
<rect x="284.4" y="60.4" width="15" height="7.9" fill="none" stroke="#000" stroke-width="1.3"/>
<text x="287" y="67" font-size="6.6" font-weight="bold" textLength="4.3" lengthAdjust="spacingAndGlyphs" fill="#000">C</text>
<text x="295.7" y="67.2" font-size="7" font-weight="bold" font-family="'DejaVu Sans',sans-serif" text-anchor="middle">↘</text>
<text transform="translate(295.55,91.8) rotate(-90)" font-size="7.4" font-weight="bold" textLength="17.6" lengthAdjust="spacingAndGlyphs" fill="#000">TP27</text>
<text transform="translate(303.05,91.8) rotate(-90)" font-size="7.4" font-weight="bold" textLength="18.6" lengthAdjust="spacingAndGlyphs" fill="#000">C102</text>
<text x="305.8" y="76.2" font-size="7.4" font-weight="bold" textLength="16.6" lengthAdjust="spacingAndGlyphs" fill="#000">C101</text>
<text transform="translate(330.25,76) rotate(-90)" font-size="7.4" font-weight="bold" textLength="14" lengthAdjust="spacingAndGlyphs" fill="#000">C66</text>
<text x="330.3" y="76.2" font-size="7.4" font-weight="bold" textLength="14.8" lengthAdjust="spacingAndGlyphs" fill="#000">R13</text>
<text x="305.6" y="86.9" font-size="7.4" font-weight="bold" textLength="13.2" lengthAdjust="spacingAndGlyphs" fill="#000">U10</text>
<text transform="translate(329.45,95.6) rotate(-90)" font-size="7.4" font-weight="bold" textLength="17" lengthAdjust="spacingAndGlyphs" fill="#000">TP10</text>
<text x="332.9" y="92.4" font-size="7.4" font-weight="bold" textLength="13.1" lengthAdjust="spacingAndGlyphs" fill="#000">L10</text>
<text x="332.9" y="100.3" font-size="7.4" font-weight="bold" textLength="8.1" lengthAdjust="spacingAndGlyphs" fill="#000">L1</text>
<text x="332.9" y="108.4" font-size="7.4" font-weight="bold" textLength="8.1" lengthAdjust="spacingAndGlyphs" fill="#000">L2</text>
<text transform="translate(308.35,106.8) rotate(-90)" font-size="7.4" font-weight="bold" textLength="13.1" lengthAdjust="spacingAndGlyphs" fill="#000">R26</text>
<text transform="translate(314.85,106.8) rotate(-90)" font-size="7.4" font-weight="bold" textLength="13.1" lengthAdjust="spacingAndGlyphs" fill="#000">R25</text>
<text transform="translate(321.45,106.8) rotate(-90)" font-size="7.4" font-weight="bold" textLength="13.1" lengthAdjust="spacingAndGlyphs" fill="#000">R24</text>
<text transform="translate(328.85,111.6) rotate(-90)" font-size="7.4" font-weight="bold" textLength="12.2" lengthAdjust="spacingAndGlyphs" fill="#000">TP2</text>
<text x="355.2" y="103" font-size="7.4" font-weight="bold" textLength="17.6" lengthAdjust="spacingAndGlyphs" fill="#000">C171</text>
<g transform="translate(359,109.2) rotate(180)"><circle r="2.3" fill="#fff" stroke="#777" stroke-width="0.9"/><path d="M0,-3.0 H3.0 V3.0 H0 A3.0,3.0 0 0 1 0,-3.0" fill="none" stroke="#000" stroke-width="0.9"/></g>
<g transform="translate(368.3,109.2) rotate(0)"><circle r="2.3" fill="#fff" stroke="#777" stroke-width="0.9"/><path d="M0,-3.0 H3.0 V3.0 H0 A3.0,3.0 0 0 1 0,-3.0" fill="none" stroke="#000" stroke-width="0.9"/></g>
<polygon points="372.3,110.3 374.6,112.6 371.6,112.6" fill="#000" stroke="#000" stroke-width="0.3"/>
<rect x="350.6" y="112.9" width="26.1" height="21.5" fill="none" stroke="#888" stroke-width="0.9"/>
<rect x="351.4" y="114.5" width="8.4" height="7.7" fill="none" stroke="#444" stroke-width="1.1"/>
<rect x="367.5" y="114.5" width="8.4" height="7.7" fill="none" stroke="#444" stroke-width="1.1"/>
<rect x="351.4" y="125.9" width="8.4" height="7.7" fill="none" stroke="#444" stroke-width="1.1"/>
<rect x="367.5" y="125.9" width="8.4" height="7.7" fill="none" stroke="#444" stroke-width="1.1"/>
<text x="380.5" y="124.4" font-size="7.4" font-weight="bold" textLength="7.5" lengthAdjust="spacingAndGlyphs" fill="#000">Y1</text>
<text transform="translate(338.45,135.1) rotate(-90)" font-size="7.4" font-weight="bold" textLength="18.3" lengthAdjust="spacingAndGlyphs" fill="#000">C173</text>
<g transform="translate(345.3,123.2) rotate(-90)"><circle r="2.3" fill="#fff" stroke="#777" stroke-width="0.9"/><path d="M0,-3.0 H3.0 V3.0 H0 A3.0,3.0 0 0 1 0,-3.0" fill="none" stroke="#000" stroke-width="0.9"/></g>
<g transform="translate(345.3,131.6) rotate(90)"><circle r="2.3" fill="#fff" stroke="#777" stroke-width="0.9"/><path d="M0,-3.0 H3.0 V3.0 H0 A3.0,3.0 0 0 1 0,-3.0" fill="none" stroke="#000" stroke-width="0.9"/></g>
<g transform="translate(349.1,140.4) rotate(-90)"><circle r="2.3" fill="#fff" stroke="#777" stroke-width="0.9"/><path d="M0,-3.0 H3.0 V3.0 H0 A3.0,3.0 0 0 1 0,-3.0" fill="none" stroke="#000" stroke-width="0.9"/></g>
<g transform="translate(349.1,148.9) rotate(90)"><circle r="2.3" fill="#fff" stroke="#777" stroke-width="0.9"/><path d="M0,-3.0 H3.0 V3.0 H0 A3.0,3.0 0 0 1 0,-3.0" fill="none" stroke="#000" stroke-width="0.9"/></g>
<g transform="translate(358,140.4) rotate(-90)"><circle r="2.3" fill="#fff" stroke="#777" stroke-width="0.9"/><path d="M0,-3.0 H3.0 V3.0 H0 A3.0,3.0 0 0 1 0,-3.0" fill="none" stroke="#000" stroke-width="0.9"/></g>
<g transform="translate(358,148.9) rotate(90)"><circle r="2.3" fill="#fff" stroke="#777" stroke-width="0.9"/><path d="M0,-3.0 H3.0 V3.0 H0 A3.0,3.0 0 0 1 0,-3.0" fill="none" stroke="#000" stroke-width="0.9"/></g>
<text transform="translate(369.35,151.2) rotate(-90)" font-size="7.4" font-weight="bold" textLength="12.2" lengthAdjust="spacingAndGlyphs" fill="#000">R29</text>
<text transform="translate(376.25,151.2) rotate(-90)" font-size="7.4" font-weight="bold" textLength="12.2" lengthAdjust="spacingAndGlyphs" fill="#000">R27</text>
<polygon points="379.7,66 455.1,66 455.1,164.5 398.8,164.5 398.8,106.1 379.7,106.1" fill="none" stroke="#000" stroke-width="1.3"/>
<rect x="432.9" y="66" width="22.2" height="20.4" fill="none" stroke="#000" stroke-width="1.3"/>
<text x="437.2" y="77.6" font-size="6.6" font-weight="bold" textLength="4.2" lengthAdjust="spacingAndGlyphs" fill="#000">B</text>
<text x="447.7" y="79.0" font-size="7" font-weight="bold" font-family="'DejaVu Sans',sans-serif" text-anchor="middle">↘</text>
<text transform="translate(386.65,92) rotate(-90)" font-size="7.4" font-weight="bold" textLength="12.2" lengthAdjust="spacingAndGlyphs" fill="#000">L11</text>
<text transform="translate(394.05,92) rotate(-90)" font-size="7.4" font-weight="bold" textLength="8.3" lengthAdjust="spacingAndGlyphs" fill="#000">U6</text>
<text transform="translate(402.85,101.5) rotate(-90)" font-size="7.4" font-weight="bold" textLength="32.1" lengthAdjust="spacingAndGlyphs" fill="#000">TP9TP25</text>
<text transform="translate(410.05,107.6) rotate(-90)" font-size="7.4" font-weight="bold" textLength="28.6" lengthAdjust="spacingAndGlyphs" fill="#000">C40L12</text>
<text transform="translate(417.15,124.4) rotate(-90)" font-size="7.4" font-weight="bold" textLength="24.9" lengthAdjust="spacingAndGlyphs" fill="#000">L8 TP8</text>
<text transform="translate(424.25,123.1) rotate(-90)" font-size="7.4" font-weight="bold" textLength="43.2" lengthAdjust="spacingAndGlyphs" fill="#000">R12 R17 U7</text>
<text transform="translate(431.55,123.1) rotate(-90)" font-size="7.4" font-weight="bold" textLength="30.1" lengthAdjust="spacingAndGlyphs" fill="#000">R10 C81</text>
<text transform="translate(407.55,143.6) rotate(-90)" font-size="7.4" font-weight="bold" textLength="17.7" lengthAdjust="spacingAndGlyphs" fill="#000">TP23</text>
<text transform="translate(415.45,162.4) rotate(-90)" font-size="7.4" font-weight="bold" textLength="36.5" lengthAdjust="spacingAndGlyphs" fill="#000">TP17TP15</text>
<text x="418.6" y="130.6" font-size="7.4" font-weight="bold" textLength="34.3" lengthAdjust="spacingAndGlyphs" fill="#000">C63 TP18</text>
<text x="418.6" y="138" font-size="7.4" font-weight="bold" textLength="34.3" lengthAdjust="spacingAndGlyphs" fill="#000">C64 TP19</text>
<text x="418.6" y="145.4" font-size="7.4" font-weight="bold" textLength="34.3" lengthAdjust="spacingAndGlyphs" fill="#000">C68 TP20</text>
<text x="418.6" y="152.8" font-size="7.4" font-weight="bold" textLength="34.3" lengthAdjust="spacingAndGlyphs" fill="#000">C70 TP21</text>
<text transform="translate(461.73,127.6) rotate(-90)" font-size="6.8" font-weight="bold" textLength="8" lengthAdjust="spacingAndGlyphs" fill="#000">14</text>
<line x1="459.8" y1="131" x2="459.8" y2="170.5" stroke="#000" stroke-width="0.9"/>
<polygon points="459.8,129.8 461.8,134 459.8,134" fill="#000" stroke="#000" stroke-width="0.3"/>
<text x="479.5" y="106.3" font-size="7.4" font-weight="bold" textLength="8.5" lengthAdjust="spacingAndGlyphs" fill="#000">U3</text>
<circle cx="507" cy="78.5" r="3.7" fill="none" stroke="#222" stroke-width="0.9"/>
<circle cx="507" cy="98.5" r="3.7" fill="none" stroke="#222" stroke-width="0.9"/>
<path d="M464.4,186.2 V111.2 H558.7 V194.2" fill="none" stroke="#000" stroke-width="1.2" />
<path d="M467.4,184.7 V112.4" fill="none" stroke="#8a8a8a" stroke-width="2.2" />
<path d="M555.7,193.2 V112.4" fill="none" stroke="#8a8a8a" stroke-width="2.2" />
<path d="M464.4,186.2 L473.9,194.2 H558.7" fill="none" stroke="#000" stroke-width="1.2" />
<path d="M467.4,184.7 L474.7,192.0 H557.7" fill="none" stroke="#444" stroke-width="2.2" />
<text x="493.5" y="122.3" font-size="6.8" font-weight="bold" textLength="37.2" lengthAdjust="spacingAndGlyphs" fill="#000">20230609</text>
<g fill="#c8c8c8" stroke="#1a1a1a" stroke-width="0.95">
<circle cx="487.8" cy="128.8" r="1.05"/>
<circle cx="491.45" cy="128.8" r="1.05"/>
<circle cx="495.11" cy="128.8" r="1.05"/>
<circle cx="498.76" cy="128.8" r="1.05"/>
<circle cx="502.42" cy="128.8" r="1.05"/>
<circle cx="506.07" cy="128.8" r="1.05"/>
<circle cx="509.72" cy="128.8" r="1.05"/>
<circle cx="513.38" cy="128.8" r="1.05"/>
<circle cx="517.03" cy="128.8" r="1.05"/>
<circle cx="520.69" cy="128.8" r="1.05"/>
<circle cx="524.34" cy="128.8" r="1.05"/>
<circle cx="527.99" cy="128.8" r="1.05"/>
<circle cx="531.65" cy="128.8" r="1.05"/>
<circle cx="535.3" cy="128.8" r="1.05"/>
<circle cx="487.8" cy="132.45" r="1.05"/>
<circle cx="491.45" cy="132.45" r="1.05"/>
<circle cx="495.11" cy="132.45" r="1.05"/>
<circle cx="498.76" cy="132.45" r="1.05"/>
<circle cx="502.42" cy="132.45" r="1.05"/>
<circle cx="506.07" cy="132.45" r="1.05"/>
<circle cx="509.72" cy="132.45" r="1.05"/>
<circle cx="513.38" cy="132.45" r="1.05"/>
<circle cx="517.03" cy="132.45" r="1.05"/>
<circle cx="520.69" cy="132.45" r="1.05"/>
<circle cx="524.34" cy="132.45" r="1.05"/>
<circle cx="527.99" cy="132.45" r="1.05"/>
<circle cx="531.65" cy="132.45" r="1.05"/>
<circle cx="535.3" cy="132.45" r="1.05"/>
<circle cx="487.8" cy="136.11" r="1.05"/>
<circle cx="491.45" cy="136.11" r="1.05"/>
<circle cx="495.11" cy="136.11" r="1.05"/>
<circle cx="498.76" cy="136.11" r="1.05"/>
<circle cx="502.42" cy="136.11" r="1.05"/>
<circle cx="506.07" cy="136.11" r="1.05"/>
<circle cx="509.72" cy="136.11" r="1.05"/>
<circle cx="513.38" cy="136.11" r="1.05"/>
<circle cx="517.03" cy="136.11" r="1.05"/>
<circle cx="520.69" cy="136.11" r="1.05"/>
<circle cx="524.34" cy="136.11" r="1.05"/>
<circle cx="527.99" cy="136.11" r="1.05"/>
<circle cx="531.65" cy="136.11" r="1.05"/>
<circle cx="535.3" cy="136.11" r="1.05"/>
<circle cx="487.8" cy="139.76" r="1.05"/>
<circle cx="491.45" cy="139.76" r="1.05"/>
<circle cx="495.11" cy="139.76" r="1.05"/>
<circle cx="527.99" cy="139.76" r="1.05"/>
<circle cx="531.65" cy="139.76" r="1.05"/>
<circle cx="535.3" cy="139.76" r="1.05"/>
<circle cx="487.8" cy="143.42" r="1.05"/>
<circle cx="491.45" cy="143.42" r="1.05"/>
<circle cx="495.11" cy="143.42" r="1.05"/>
<circle cx="502.42" cy="143.42" r="1.05"/>
<circle cx="506.07" cy="143.42" r="1.05"/>
<circle cx="509.72" cy="143.42" r="1.05"/>
<circle cx="513.38" cy="143.42" r="1.05"/>
<circle cx="517.03" cy="143.42" r="1.05"/>
<circle cx="520.69" cy="143.42" r="1.05"/>
<circle cx="527.99" cy="143.42" r="1.05"/>
<circle cx="531.65" cy="143.42" r="1.05"/>
<circle cx="535.3" cy="143.42" r="1.05"/>
<circle cx="487.8" cy="147.07" r="1.05"/>
<circle cx="491.45" cy="147.07" r="1.05"/>
<circle cx="495.11" cy="147.07" r="1.05"/>
<circle cx="502.42" cy="147.07" r="1.05"/>
<circle cx="520.69" cy="147.07" r="1.05"/>
<circle cx="527.99" cy="147.07" r="1.05"/>
<circle cx="531.65" cy="147.07" r="1.05"/>
<circle cx="535.3" cy="147.07" r="1.05"/>
<circle cx="487.8" cy="150.72" r="1.05"/>
<circle cx="491.45" cy="150.72" r="1.05"/>
<circle cx="495.11" cy="150.72" r="1.05"/>
<circle cx="502.42" cy="150.72" r="1.05"/>
<circle cx="520.69" cy="150.72" r="1.05"/>
<circle cx="527.99" cy="150.72" r="1.05"/>
<circle cx="531.65" cy="150.72" r="1.05"/>
<circle cx="535.3" cy="150.72" r="1.05"/>
<circle cx="487.8" cy="154.38" r="1.05"/>
<circle cx="491.45" cy="154.38" r="1.05"/>
<circle cx="495.11" cy="154.38" r="1.05"/>
<circle cx="502.42" cy="154.38" r="1.05"/>
<circle cx="520.69" cy="154.38" r="1.05"/>
<circle cx="527.99" cy="154.38" r="1.05"/>
<circle cx="531.65" cy="154.38" r="1.05"/>
<circle cx="535.3" cy="154.38" r="1.05"/>
<circle cx="487.8" cy="158.03" r="1.05"/>
<circle cx="491.45" cy="158.03" r="1.05"/>
<circle cx="495.11" cy="158.03" r="1.05"/>
<circle cx="502.42" cy="158.03" r="1.05"/>
<circle cx="520.69" cy="158.03" r="1.05"/>
<circle cx="527.99" cy="158.03" r="1.05"/>
<circle cx="531.65" cy="158.03" r="1.05"/>
<circle cx="535.3" cy="158.03" r="1.05"/>
<circle cx="487.8" cy="161.69" r="1.05"/>
<circle cx="491.45" cy="161.69" r="1.05"/>
<circle cx="495.11" cy="161.69" r="1.05"/>
<circle cx="502.42" cy="161.69" r="1.05"/>
<circle cx="506.07" cy="161.69" r="1.05"/>
<circle cx="509.72" cy="161.69" r="1.05"/>
<circle cx="513.38" cy="161.69" r="1.05"/>
<circle cx="517.03" cy="161.69" r="1.05"/>
<circle cx="520.69" cy="161.69" r="1.05"/>
<circle cx="527.99" cy="161.69" r="1.05"/>
<circle cx="531.65" cy="161.69" r="1.05"/>
<circle cx="535.3" cy="161.69" r="1.05"/>
<circle cx="487.8" cy="165.34" r="1.05"/>
<circle cx="491.45" cy="165.34" r="1.05"/>
<circle cx="495.11" cy="165.34" r="1.05"/>
<circle cx="527.99" cy="165.34" r="1.05"/>
<circle cx="531.65" cy="165.34" r="1.05"/>
<circle cx="535.3" cy="165.34" r="1.05"/>
<circle cx="487.8" cy="168.99" r="1.05"/>
<circle cx="491.45" cy="168.99" r="1.05"/>
<circle cx="495.11" cy="168.99" r="1.05"/>
<circle cx="498.76" cy="168.99" r="1.05"/>
<circle cx="502.42" cy="168.99" r="1.05"/>
<circle cx="506.07" cy="168.99" r="1.05"/>
<circle cx="509.72" cy="168.99" r="1.05"/>
<circle cx="513.38" cy="168.99" r="1.05"/>
<circle cx="517.03" cy="168.99" r="1.05"/>
<circle cx="520.69" cy="168.99" r="1.05"/>
<circle cx="524.34" cy="168.99" r="1.05"/>
<circle cx="527.99" cy="168.99" r="1.05"/>
<circle cx="531.65" cy="168.99" r="1.05"/>
<circle cx="535.3" cy="168.99" r="1.05"/>
<circle cx="487.8" cy="172.65" r="1.05"/>
<circle cx="491.45" cy="172.65" r="1.05"/>
<circle cx="495.11" cy="172.65" r="1.05"/>
<circle cx="498.76" cy="172.65" r="1.05"/>
<circle cx="502.42" cy="172.65" r="1.05"/>
<circle cx="506.07" cy="172.65" r="1.05"/>
<circle cx="509.72" cy="172.65" r="1.05"/>
<circle cx="513.38" cy="172.65" r="1.05"/>
<circle cx="517.03" cy="172.65" r="1.05"/>
<circle cx="520.69" cy="172.65" r="1.05"/>
<circle cx="524.34" cy="172.65" r="1.05"/>
<circle cx="527.99" cy="172.65" r="1.05"/>
<circle cx="531.65" cy="172.65" r="1.05"/>
<circle cx="535.3" cy="172.65" r="1.05"/>
<circle cx="491.45" cy="176.3" r="1.05"/>
<circle cx="495.11" cy="176.3" r="1.05"/>
<circle cx="498.76" cy="176.3" r="1.05"/>
<circle cx="502.42" cy="176.3" r="1.05"/>
<circle cx="506.07" cy="176.3" r="1.05"/>
<circle cx="509.72" cy="176.3" r="1.05"/>
<circle cx="513.38" cy="176.3" r="1.05"/>
<circle cx="517.03" cy="176.3" r="1.05"/>
<circle cx="520.69" cy="176.3" r="1.05"/>
<circle cx="524.34" cy="176.3" r="1.05"/>
<circle cx="527.99" cy="176.3" r="1.05"/>
<circle cx="531.65" cy="176.3" r="1.05"/>
<circle cx="535.3" cy="176.3" r="1.05"/>
</g>
<circle cx="487.8" cy="158.03" r="1.2" fill="#000" stroke="#000" stroke-width="0.4"/>
<circle cx="487.8" cy="165.34" r="1.2" fill="#000" stroke="#000" stroke-width="0.4"/>
<circle cx="487.8" cy="168.99" r="1.2" fill="#000" stroke="#000" stroke-width="0.4"/>
<circle cx="487.8" cy="172.65" r="1.2" fill="#000" stroke="#000" stroke-width="0.4"/>
<circle cx="491.45" cy="176.3" r="1.2" fill="#000" stroke="#000" stroke-width="0.4"/>
<rect x="55.9" y="318.9" width="11" height="44.8" fill="none" stroke="#000" stroke-width="1.3"/>
<text transform="translate(64.07,362.4) rotate(-90)" font-size="6.9" font-weight="bold" textLength="41.4" lengthAdjust="spacingAndGlyphs" fill="#000">R135 R134</text>
<polyline points="66.9,346.7 73.7,346.7 73.7,415.9" fill="none" stroke="#000" stroke-width="1.0"/>
<rect x="75.6" y="368.7" width="11" height="38.8" fill="none" stroke="#000" stroke-width="1.1"/>
<g transform="translate(81.1,374) rotate(-90)"><circle r="2.0" fill="#fff" stroke="#777" stroke-width="0.9"/><path d="M0,-2.5 H2.5 V2.5 H0 A2.5,2.5 0 0 1 0,-2.5" fill="none" stroke="#000" stroke-width="0.9"/></g>
<g transform="translate(81.1,382.5) rotate(90)"><circle r="2.0" fill="#fff" stroke="#777" stroke-width="0.9"/><path d="M0,-2.5 H2.5 V2.5 H0 A2.5,2.5 0 0 1 0,-2.5" fill="none" stroke="#000" stroke-width="0.9"/></g>
<g transform="translate(81.1,390.5) rotate(-90)"><circle r="2.0" fill="#fff" stroke="#777" stroke-width="0.9"/><path d="M0,-2.5 H2.5 V2.5 H0 A2.5,2.5 0 0 1 0,-2.5" fill="none" stroke="#000" stroke-width="0.9"/></g>
<g transform="translate(81.1,399.5) rotate(90)"><circle r="2.0" fill="#fff" stroke="#777" stroke-width="0.9"/><path d="M0,-2.5 H2.5 V2.5 H0 A2.5,2.5 0 0 1 0,-2.5" fill="none" stroke="#000" stroke-width="0.9"/></g>
<circle cx="43.6" cy="345.1" r="3.7" fill="none" stroke="#333" stroke-width="0.9"/>
<circle cx="82.9" cy="362.4" r="3.4" fill="none" stroke="#333" stroke-width="0.9"/>
<text x="93.4" y="376" font-size="7.4" font-weight="bold" textLength="8.4" lengthAdjust="spacingAndGlyphs" fill="#000">Q3</text>
<path d="M92.6,380.0 H101.8 V398.0 L99.3,401.0 H92.6 Z" fill="none" stroke="#000" stroke-width="1.7" />
<rect x="85.4" y="381.8" width="7.2" height="3.4" fill="none" stroke="#000" stroke-width="0.9"/>
<rect x="85.4" y="395.8" width="7.2" height="3.4" fill="none" stroke="#000" stroke-width="0.9"/>
<rect x="101.8" y="388.8" width="7.2" height="3.4" fill="none" stroke="#000" stroke-width="0.9"/>
<g transform="translate(113.1,399.7) rotate(180)"><circle r="2.3" fill="#fff" stroke="#777" stroke-width="0.9"/><path d="M0,-3.0 H3.0 V3.0 H0 A3.0,3.0 0 0 1 0,-3.0" fill="none" stroke="#000" stroke-width="0.9"/></g>
<g transform="translate(122.2,399.7) rotate(0)"><circle r="2.3" fill="#fff" stroke="#777" stroke-width="0.9"/><path d="M0,-3.0 H3.0 V3.0 H0 A3.0,3.0 0 0 1 0,-3.0" fill="none" stroke="#000" stroke-width="0.9"/></g>
<text x="128" y="402.8" font-size="7.4" font-weight="bold" textLength="18.4" lengthAdjust="spacingAndGlyphs" fill="#000">R132</text>
<text x="195.8" y="353.4" font-size="7.4" font-weight="bold" textLength="13.9" lengthAdjust="spacingAndGlyphs" fill="#000">R49</text>
<g transform="translate(215,351.7) rotate(180)"><circle r="2.3" fill="#fff" stroke="#777" stroke-width="0.9"/><path d="M0,-3.0 H3.0 V3.0 H0 A3.0,3.0 0 0 1 0,-3.0" fill="none" stroke="#000" stroke-width="0.9"/></g>
<g transform="translate(223.5,351.7) rotate(0)"><circle r="2.3" fill="#fff" stroke="#777" stroke-width="0.9"/><path d="M0,-3.0 H3.0 V3.0 H0 A3.0,3.0 0 0 1 0,-3.0" fill="none" stroke="#000" stroke-width="0.9"/></g>
<text transform="translate(205.95,384.3) rotate(-90)" font-size="7.4" font-weight="bold" textLength="19.1" lengthAdjust="spacingAndGlyphs" fill="#000">C230</text>
<g transform="translate(203.3,389.7) rotate(-90)"><circle r="2.3" fill="#fff" stroke="#777" stroke-width="0.9"/><path d="M0,-3.0 H3.0 V3.0 H0 A3.0,3.0 0 0 1 0,-3.0" fill="none" stroke="#000" stroke-width="0.9"/></g>
<g transform="translate(203.3,398.6) rotate(90)"><circle r="2.3" fill="#fff" stroke="#777" stroke-width="0.9"/><path d="M0,-3.0 H3.0 V3.0 H0 A3.0,3.0 0 0 1 0,-3.0" fill="none" stroke="#000" stroke-width="0.9"/></g>
<text transform="translate(214.45,384.3) rotate(-90)" font-size="7.4" font-weight="bold" textLength="19.1" lengthAdjust="spacingAndGlyphs" fill="#000">C232</text>
<g transform="translate(211.8,389.7) rotate(-90)"><circle r="2.3" fill="#fff" stroke="#777" stroke-width="0.9"/><path d="M0,-3.0 H3.0 V3.0 H0 A3.0,3.0 0 0 1 0,-3.0" fill="none" stroke="#000" stroke-width="0.9"/></g>
<g transform="translate(211.8,398.6) rotate(90)"><circle r="2.3" fill="#fff" stroke="#777" stroke-width="0.9"/><path d="M0,-3.0 H3.0 V3.0 H0 A3.0,3.0 0 0 1 0,-3.0" fill="none" stroke="#000" stroke-width="0.9"/></g>
<text transform="translate(223.35,384.3) rotate(-90)" font-size="7.4" font-weight="bold" textLength="19.1" lengthAdjust="spacingAndGlyphs" fill="#000">C385</text>
<g transform="translate(220.7,389.7) rotate(-90)"><circle r="2.3" fill="#fff" stroke="#777" stroke-width="0.9"/><path d="M0,-3.0 H3.0 V3.0 H0 A3.0,3.0 0 0 1 0,-3.0" fill="none" stroke="#000" stroke-width="0.9"/></g>
<g transform="translate(220.7,398.6) rotate(90)"><circle r="2.3" fill="#fff" stroke="#777" stroke-width="0.9"/><path d="M0,-3.0 H3.0 V3.0 H0 A3.0,3.0 0 0 1 0,-3.0" fill="none" stroke="#000" stroke-width="0.9"/></g>
<text transform="translate(231.95,384.3) rotate(-90)" font-size="7.4" font-weight="bold" textLength="19.1" lengthAdjust="spacingAndGlyphs" fill="#000">C384</text>
<g transform="translate(229.3,389.7) rotate(-90)"><circle r="2.3" fill="#fff" stroke="#777" stroke-width="0.9"/><path d="M0,-3.0 H3.0 V3.0 H0 A3.0,3.0 0 0 1 0,-3.0" fill="none" stroke="#000" stroke-width="0.9"/></g>
<g transform="translate(229.3,398.6) rotate(90)"><circle r="2.3" fill="#fff" stroke="#777" stroke-width="0.9"/><path d="M0,-3.0 H3.0 V3.0 H0 A3.0,3.0 0 0 1 0,-3.0" fill="none" stroke="#000" stroke-width="0.9"/></g>
<text transform="translate(240.45,384.3) rotate(-90)" font-size="7.4" font-weight="bold" textLength="19.1" lengthAdjust="spacingAndGlyphs" fill="#000">C387</text>
<g transform="translate(237.8,389.7) rotate(-90)"><circle r="2.3" fill="#fff" stroke="#777" stroke-width="0.9"/><path d="M0,-3.0 H3.0 V3.0 H0 A3.0,3.0 0 0 1 0,-3.0" fill="none" stroke="#000" stroke-width="0.9"/></g>
<g transform="translate(237.8,398.6) rotate(90)"><circle r="2.3" fill="#fff" stroke="#777" stroke-width="0.9"/><path d="M0,-3.0 H3.0 V3.0 H0 A3.0,3.0 0 0 1 0,-3.0" fill="none" stroke="#000" stroke-width="0.9"/></g>
<text transform="translate(249.65,382.2) rotate(-90)" font-size="7.4" font-weight="bold" textLength="18.1" lengthAdjust="spacingAndGlyphs" fill="#000">C231</text>
<g transform="translate(247,387.1) rotate(-90)"><circle r="2.3" fill="#fff" stroke="#777" stroke-width="0.9"/><path d="M0,-3.0 H3.0 V3.0 H0 A3.0,3.0 0 0 1 0,-3.0" fill="none" stroke="#000" stroke-width="0.9"/></g>
<g transform="translate(247,396.1) rotate(90)"><circle r="2.3" fill="#fff" stroke="#777" stroke-width="0.9"/><path d="M0,-3.0 H3.0 V3.0 H0 A3.0,3.0 0 0 1 0,-3.0" fill="none" stroke="#000" stroke-width="0.9"/></g>
<text transform="translate(258.55,382.2) rotate(-90)" font-size="7.4" font-weight="bold" textLength="18.1" lengthAdjust="spacingAndGlyphs" fill="#000">C386</text>
<g transform="translate(255.9,387.1) rotate(-90)"><circle r="2.3" fill="#fff" stroke="#777" stroke-width="0.9"/><path d="M0,-3.0 H3.0 V3.0 H0 A3.0,3.0 0 0 1 0,-3.0" fill="none" stroke="#000" stroke-width="0.9"/></g>
<g transform="translate(255.9,396.1) rotate(90)"><circle r="2.3" fill="#fff" stroke="#777" stroke-width="0.9"/><path d="M0,-3.0 H3.0 V3.0 H0 A3.0,3.0 0 0 1 0,-3.0" fill="none" stroke="#000" stroke-width="0.9"/></g>
<text transform="translate(267.05,386.5) rotate(-90)" font-size="7.4" font-weight="bold" textLength="17.1" lengthAdjust="spacingAndGlyphs" fill="#000">R131</text>
<g transform="translate(264.4,391.8) rotate(-90)"><circle r="2.3" fill="#fff" stroke="#777" stroke-width="0.9"/><path d="M0,-3.0 H3.0 V3.0 H0 A3.0,3.0 0 0 1 0,-3.0" fill="none" stroke="#000" stroke-width="0.9"/></g>
<g transform="translate(264.4,399.9) rotate(90)"><circle r="2.3" fill="#fff" stroke="#777" stroke-width="0.9"/><path d="M0,-3.0 H3.0 V3.0 H0 A3.0,3.0 0 0 1 0,-3.0" fill="none" stroke="#000" stroke-width="0.9"/></g>
<line x1="200.3" y1="386.6" x2="240.8" y2="386.6" stroke="#000" stroke-width="1.0"/>
<line x1="200.3" y1="401.7" x2="240.8" y2="401.7" stroke="#000" stroke-width="1.0"/>
<text x="160.7" y="401.4" font-size="7.4" font-weight="bold" textLength="18.1" lengthAdjust="spacingAndGlyphs" fill="#000">C229</text>
<g transform="translate(184.1,399.7) rotate(180)"><circle r="2.3" fill="#fff" stroke="#777" stroke-width="0.9"/><path d="M0,-3.0 H3.0 V3.0 H0 A3.0,3.0 0 0 1 0,-3.0" fill="none" stroke="#000" stroke-width="0.9"/></g>
<g transform="translate(193.7,399.7) rotate(0)"><circle r="2.3" fill="#fff" stroke="#777" stroke-width="0.9"/><path d="M0,-3.0 H3.0 V3.0 H0 A3.0,3.0 0 0 1 0,-3.0" fill="none" stroke="#000" stroke-width="0.9"/></g>
<rect x="268.9" y="378.8" width="11.5" height="24.6" fill="none" stroke="#000" stroke-width="1.1"/>
<rect x="268.9" y="378.3" width="11.5" height="3" fill="#000" stroke="#000" stroke-width="0.5"/>
<rect x="271.5" y="382.6" width="6.3" height="7.2" fill="none" stroke="#888" stroke-width="0.9"/>
<rect x="271.5" y="393.6" width="6.3" height="7.3" fill="none" stroke="#888" stroke-width="0.9"/>
<line x1="270.2" y1="381.3" x2="270.2" y2="403" stroke="#999" stroke-width="0.7"/>
<line x1="279.1" y1="381.3" x2="279.1" y2="403" stroke="#999" stroke-width="0.7"/>
<text transform="translate(287.27,400.6) rotate(-90)" font-size="6.9" font-weight="bold" textLength="17.4" lengthAdjust="spacingAndGlyphs" fill="#000">LED0</text>
<line x1="280.9" y1="406.6" x2="285.3" y2="406.6" stroke="#000" stroke-width="1.0"/>
<line x1="283.1" y1="404.4" x2="283.1" y2="408.8" stroke="#000" stroke-width="1.0"/>
<rect x="289.4" y="378.8" width="11.5" height="24.6" fill="none" stroke="#000" stroke-width="1.1"/>
<rect x="289.4" y="378.3" width="11.5" height="3" fill="#000" stroke="#000" stroke-width="0.5"/>
<rect x="292" y="382.6" width="6.3" height="7.2" fill="none" stroke="#888" stroke-width="0.9"/>
<rect x="292" y="393.6" width="6.3" height="7.3" fill="none" stroke="#888" stroke-width="0.9"/>
<line x1="290.7" y1="381.3" x2="290.7" y2="403" stroke="#999" stroke-width="0.7"/>
<line x1="299.6" y1="381.3" x2="299.6" y2="403" stroke="#999" stroke-width="0.7"/>
<text transform="translate(307.57,400.6) rotate(-90)" font-size="6.9" font-weight="bold" textLength="17.4" lengthAdjust="spacingAndGlyphs" fill="#000">LED1</text>
<line x1="301" y1="406.6" x2="305.4" y2="406.6" stroke="#000" stroke-width="1.0"/>
<line x1="303.2" y1="404.4" x2="303.2" y2="408.8" stroke="#000" stroke-width="1.0"/>
<rect x="309.5" y="378.8" width="11.2" height="24.6" fill="none" stroke="#000" stroke-width="1.1"/>
<rect x="309.5" y="378.3" width="11.2" height="3" fill="#000" stroke="#000" stroke-width="0.5"/>
<rect x="312.1" y="382.6" width="6" height="7.2" fill="none" stroke="#888" stroke-width="0.9"/>
<rect x="312.1" y="393.6" width="6" height="7.3" fill="none" stroke="#888" stroke-width="0.9"/>
<line x1="310.8" y1="381.3" x2="310.8" y2="403" stroke="#999" stroke-width="0.7"/>
<line x1="319.4" y1="381.3" x2="319.4" y2="403" stroke="#999" stroke-width="0.7"/>
<text transform="translate(328.07,400.6) rotate(-90)" font-size="6.9" font-weight="bold" textLength="17.4" lengthAdjust="spacingAndGlyphs" fill="#000">LED2</text>
<line x1="321.4" y1="406.6" x2="325.8" y2="406.6" stroke="#000" stroke-width="1.0"/>
<line x1="323.6" y1="404.4" x2="323.6" y2="408.8" stroke="#000" stroke-width="1.0"/>
<polyline points="320.5,341.3 377.9,341.3 377.9,359 393.4,359 393.4,367.4 368.4,367.4 368.4,374.1 310.4,374.1 310.4,350.5" fill="none" stroke="#000" stroke-width="1.3"/>
<rect x="358.3" y="341.3" width="19.6" height="16.6" fill="none" stroke="#000" stroke-width="1.3"/>
<text x="361" y="350.6" font-size="6.6" font-weight="bold" textLength="3.8" lengthAdjust="spacingAndGlyphs" fill="#000">D</text>
<text x="370.5" y="350.2" font-size="7" font-weight="bold" font-family="'DejaVu Sans',sans-serif" text-anchor="middle">↗</text>
<text transform="translate(317.95,357.5) rotate(-90)" font-size="7.4" font-weight="bold" textLength="9.2" lengthAdjust="spacingAndGlyphs" fill="#000">L6</text>
<text transform="translate(325.45,357.5) rotate(-90)" font-size="7.4" font-weight="bold" textLength="13.8" lengthAdjust="spacingAndGlyphs" fill="#000">C55</text>
<text transform="translate(332.75,357.5) rotate(-90)" font-size="7.4" font-weight="bold" textLength="13.8" lengthAdjust="spacingAndGlyphs" fill="#000">C54</text>
<text transform="translate(339.95,357.5) rotate(-90)" font-size="7.4" font-weight="bold" textLength="13.8" lengthAdjust="spacingAndGlyphs" fill="#000">C56</text>
<text transform="translate(347.45,357.5) rotate(-90)" font-size="7.4" font-weight="bold" textLength="13.8" lengthAdjust="spacingAndGlyphs" fill="#000">C58</text>
<text x="319.3" y="365" font-size="7.4" font-weight="bold" textLength="70.7" lengthAdjust="spacingAndGlyphs" fill="#000">C52TP11TP14TP16</text>
<text x="326.2" y="373.2" font-size="7.4" font-weight="bold" textLength="39.2" lengthAdjust="spacingAndGlyphs" fill="#000">TP12 TP13</text>
<text x="380.5" y="374.2" font-size="7.4" font-weight="bold" textLength="9.5" lengthAdjust="spacingAndGlyphs" fill="#000">Q4</text>
<path d="M381.7,380.1 H389.0 V400.9 H379.2 V383.1 Z" fill="none" stroke="#000" stroke-width="1.7" />
<rect x="389" y="381.6" width="7.5" height="3.7" fill="none" stroke="#000" stroke-width="0.9"/>
<rect x="389" y="395.4" width="7.5" height="3.7" fill="none" stroke="#000" stroke-width="0.9"/>
<rect x="371" y="388.7" width="8.2" height="3.6" fill="none" stroke="#000" stroke-width="0.9"/>
<g transform="translate(365.7,380.7) rotate(-90)"><circle r="2.3" fill="#fff" stroke="#777" stroke-width="0.9"/><path d="M0,-3.0 H3.0 V3.0 H0 A3.0,3.0 0 0 1 0,-3.0" fill="none" stroke="#000" stroke-width="0.9"/></g>
<g transform="translate(365.7,390.6) rotate(90)"><circle r="2.3" fill="#fff" stroke="#777" stroke-width="0.9"/><path d="M0,-3.0 H3.0 V3.0 H0 A3.0,3.0 0 0 1 0,-3.0" fill="none" stroke="#000" stroke-width="0.9"/></g>
<text x="355.5" y="404.4" font-size="7.4" font-weight="bold" textLength="18.5" lengthAdjust="spacingAndGlyphs" fill="#000">R133</text>
<text transform="translate(404.05,387.5) rotate(-90)" font-size="7.4" font-weight="bold" textLength="19.1" lengthAdjust="spacingAndGlyphs" fill="#000">R137</text>
<g transform="translate(400.6,391.4) rotate(-90)"><circle r="2.3" fill="#fff" stroke="#777" stroke-width="0.9"/><path d="M0,-3.0 H3.0 V3.0 H0 A3.0,3.0 0 0 1 0,-3.0" fill="none" stroke="#000" stroke-width="0.9"/></g>
<g transform="translate(400.6,400) rotate(90)"><circle r="2.3" fill="#fff" stroke="#777" stroke-width="0.9"/><path d="M0,-3.0 H3.0 V3.0 H0 A3.0,3.0 0 0 1 0,-3.0" fill="none" stroke="#000" stroke-width="0.9"/></g>
<g transform="translate(409,399.6) rotate(180)"><circle r="2.3" fill="#fff" stroke="#777" stroke-width="0.9"/><path d="M0,-3.0 H3.0 V3.0 H0 A3.0,3.0 0 0 1 0,-3.0" fill="none" stroke="#000" stroke-width="0.9"/></g>
<g transform="translate(418,399.6) rotate(0)"><circle r="2.3" fill="#fff" stroke="#777" stroke-width="0.9"/><path d="M0,-3.0 H3.0 V3.0 H0 A3.0,3.0 0 0 1 0,-3.0" fill="none" stroke="#000" stroke-width="0.9"/></g>
<text x="407" y="392.9" font-size="7.4" font-weight="bold" textLength="18.7" lengthAdjust="spacingAndGlyphs" fill="#000">R136</text>
<g transform="translate(385.5,345.3) rotate(180)"><circle r="2.3" fill="#fff" stroke="#777" stroke-width="0.9"/><path d="M0,-3.0 H3.0 V3.0 H0 A3.0,3.0 0 0 1 0,-3.0" fill="none" stroke="#000" stroke-width="0.9"/></g>
<g transform="translate(393.7,345.3) rotate(0)"><circle r="2.3" fill="#fff" stroke="#777" stroke-width="0.9"/><path d="M0,-3.0 H3.0 V3.0 H0 A3.0,3.0 0 0 1 0,-3.0" fill="none" stroke="#000" stroke-width="0.9"/></g>
<g transform="translate(400.6,345.3) rotate(180)"><circle r="2.3" fill="#fff" stroke="#777" stroke-width="0.9"/><path d="M0,-3.0 H3.0 V3.0 H0 A3.0,3.0 0 0 1 0,-3.0" fill="none" stroke="#000" stroke-width="0.9"/></g>
<g transform="translate(409,345.3) rotate(0)"><circle r="2.3" fill="#fff" stroke="#777" stroke-width="0.9"/><path d="M0,-3.0 H3.0 V3.0 H0 A3.0,3.0 0 0 1 0,-3.0" fill="none" stroke="#000" stroke-width="0.9"/></g>
<text x="382.8" y="356.2" font-size="7.4" font-weight="bold" textLength="12.8" lengthAdjust="spacingAndGlyphs" fill="#000">C91</text>
<text x="400.1" y="356.2" font-size="7.4" font-weight="bold" textLength="14" lengthAdjust="spacingAndGlyphs" fill="#000">R21</text>
<text x="465.5" y="197" font-size="6.2" font-weight="bold" textLength="4" lengthAdjust="spacingAndGlyphs" fill="#000">A</text>
<text x="557.8" y="200.5" font-size="6.2" font-weight="bold" textLength="4" lengthAdjust="spacingAndGlyphs" fill="#000">P</text>
<circle cx="460.4" cy="194.9" r="2.6" fill="none" stroke="#333" stroke-width="0.9"/>
<polyline points="457,195.5 448.1,195.5 448.1,213.1 452.4,213.1" fill="none" stroke="#000" stroke-width="1.0"/>
<text transform="translate(453.28,195.4) rotate(-90)" font-size="7.2" font-weight="bold" textLength="17.1" lengthAdjust="spacingAndGlyphs" fill="#000">TP24</text>
<polygon points="456.4,184 461.2,181.2 461.2,186.9" fill="none" stroke="#000" stroke-width="0.9"/>
<text transform="translate(461.73,177.3) rotate(-90)" font-size="6.8" font-weight="bold" textLength="4" lengthAdjust="spacingAndGlyphs" fill="#000">1</text>
<rect x="452.4" y="198.1" width="23.2" height="17.7" fill="none" stroke="#000" stroke-width="1.4"/>
<rect x="454.4" y="200.1" width="8.3" height="13.7" fill="none" stroke="#888" stroke-width="0.9"/>
<rect x="465.3" y="200.1" width="8.3" height="13.7" fill="none" stroke="#888" stroke-width="0.9"/>
<rect x="478" y="197.4" width="19.6" height="21.6" fill="none" stroke="#222" stroke-width="0.9" stroke-dasharray="3 1.6"/>
<rect x="481.2" y="200.7" width="13.1" height="16.4" fill="none" stroke="#777" stroke-width="0.8"/>
<line x1="484.48" y1="200.7" x2="484.48" y2="217.1" stroke="#555" stroke-width="1.2"/>
<line x1="481.2" y1="204.8" x2="494.3" y2="204.8" stroke="#555" stroke-width="1.2"/>
<line x1="487.75" y1="200.7" x2="487.75" y2="217.1" stroke="#555" stroke-width="1.2"/>
<line x1="481.2" y1="208.9" x2="494.3" y2="208.9" stroke="#555" stroke-width="1.2"/>
<line x1="491.02" y1="200.7" x2="491.02" y2="217.1" stroke="#555" stroke-width="1.2"/>
<line x1="481.2" y1="213" x2="494.3" y2="213" stroke="#555" stroke-width="1.2"/>
<polygon points="495.6,217.2 498.2,219.8 495,219.8" fill="#000" stroke="#000" stroke-width="0.3"/>
<circle cx="502.8" cy="207" r="2.6" fill="none" stroke="#333" stroke-width="0.9"/>
<circle cx="502.8" cy="214.5" r="2.6" fill="none" stroke="#333" stroke-width="0.9"/>
<rect x="506.3" y="198.8" width="24.1" height="18.5" fill="none" stroke="#000" stroke-width="1.4"/>
<rect x="508.3" y="200.8" width="8.75" height="14.5" fill="none" stroke="#888" stroke-width="0.9"/>
<rect x="519.65" y="200.8" width="8.75" height="14.5" fill="none" stroke="#888" stroke-width="0.9"/>
<rect x="531.9" y="198.1" width="21.3" height="22.4" fill="none" stroke="#222" stroke-width="0.9" stroke-dasharray="3 1.6"/>
<rect x="535.2" y="201.2" width="13.6" height="16.3" fill="none" stroke="#777" stroke-width="0.8"/>
<line x1="538.6" y1="201.2" x2="538.6" y2="217.5" stroke="#555" stroke-width="1.2"/>
<line x1="535.2" y1="205.27" x2="548.8" y2="205.27" stroke="#555" stroke-width="1.2"/>
<line x1="542" y1="201.2" x2="542" y2="217.5" stroke="#555" stroke-width="1.2"/>
<line x1="535.2" y1="209.35" x2="548.8" y2="209.35" stroke="#555" stroke-width="1.2"/>
<line x1="545.4" y1="201.2" x2="545.4" y2="217.5" stroke="#555" stroke-width="1.2"/>
<line x1="535.2" y1="213.43" x2="548.8" y2="213.43" stroke="#555" stroke-width="1.2"/>
<polygon points="550.6,218.6 553.4,221.4 550,221.4" fill="#000" stroke="#000" stroke-width="0.3"/>
<rect x="555.3" y="202.4" width="10.7" height="16" fill="none" stroke="#000" stroke-width="1.1"/>
<text x="558.6" y="210" font-size="6.4" font-weight="bold" textLength="4.2" lengthAdjust="spacingAndGlyphs" fill="#000">B</text>
<text x="560.7" y="217.6" font-size="6.5" font-weight="bold" font-family="'DejaVu Sans',sans-serif" text-anchor="middle">↖</text>
<text x="430.7" y="219.4" font-size="7.4" font-weight="bold" textLength="13.8" lengthAdjust="spacingAndGlyphs" fill="#000">C75</text>
<text x="430.7" y="225.6" font-size="7.4" font-weight="bold" textLength="13.8" lengthAdjust="spacingAndGlyphs" fill="#000">R19</text>
<text x="430.7" y="231.8" font-size="7.4" font-weight="bold" textLength="13.8" lengthAdjust="spacingAndGlyphs" fill="#000">R18</text>
<text transform="translate(450.13,231) rotate(-90)" font-size="6.8" font-weight="bold" textLength="12.5" lengthAdjust="spacingAndGlyphs" fill="#000">C18</text>
<rect x="453.1" y="216.4" width="14.4" height="26.2" fill="none" stroke="#000" stroke-width="1.1"/>
<circle cx="456.6" cy="220.3" r="2.3" fill="none" stroke="#333" stroke-width="0.9"/>
<circle cx="464.1" cy="220.3" r="2.3" fill="none" stroke="#333" stroke-width="0.9"/>
<circle cx="456.6" cy="226.3" r="2.3" fill="none" stroke="#333" stroke-width="0.9"/>
<circle cx="464.1" cy="226.3" r="2.3" fill="none" stroke="#333" stroke-width="0.9"/>
<circle cx="456.6" cy="232.3" r="2.3" fill="none" stroke="#333" stroke-width="0.9"/>
<circle cx="464.1" cy="232.3" r="2.3" fill="none" stroke="#333" stroke-width="0.9"/>
<circle cx="456.6" cy="238.3" r="2.3" fill="none" stroke="#333" stroke-width="0.9"/>
<circle cx="464.1" cy="238.3" r="2.3" fill="none" stroke="#333" stroke-width="0.9"/>
<g transform="translate(472.2,224.7) rotate(-90)"><circle r="2.3" fill="#fff" stroke="#777" stroke-width="0.9"/><path d="M0,-3.0 H3.0 V3.0 H0 A3.0,3.0 0 0 1 0,-3.0" fill="none" stroke="#000" stroke-width="0.9"/></g>
<g transform="translate(472.2,234.3) rotate(90)"><circle r="2.3" fill="#fff" stroke="#777" stroke-width="0.9"/><path d="M0,-3.0 H3.0 V3.0 H0 A3.0,3.0 0 0 1 0,-3.0" fill="none" stroke="#000" stroke-width="0.9"/></g>
<rect x="478.2" y="221" width="17.1" height="22.9" fill="none" stroke="#000" stroke-width="1.4"/>
<rect x="480.2" y="223" width="13.1" height="8.15" fill="none" stroke="#888" stroke-width="0.9"/>
<rect x="480.2" y="233.75" width="13.1" height="8.15" fill="none" stroke="#888" stroke-width="0.9"/>
<rect x="495.6" y="221" width="17.1" height="22.9" fill="none" stroke="#000" stroke-width="1.4"/>
<rect x="497.6" y="223" width="13.1" height="8.15" fill="none" stroke="#888" stroke-width="0.9"/>
<rect x="497.6" y="233.75" width="13.1" height="8.15" fill="none" stroke="#888" stroke-width="0.9"/>
<rect x="524.4" y="227.9" width="16" height="22.4" fill="none" stroke="#000" stroke-width="1.4"/>
<rect x="526.4" y="229.9" width="12" height="7.9" fill="none" stroke="#888" stroke-width="0.9"/>
<rect x="526.4" y="240.4" width="12" height="7.9" fill="none" stroke="#888" stroke-width="0.9"/>
<g transform="translate(545.3,224.8) rotate(-90)"><circle r="2.3" fill="#fff" stroke="#777" stroke-width="0.9"/><path d="M0,-3.0 H3.0 V3.0 H0 A3.0,3.0 0 0 1 0,-3.0" fill="none" stroke="#000" stroke-width="0.9"/></g>
<g transform="translate(545.3,233.7) rotate(90)"><circle r="2.3" fill="#fff" stroke="#777" stroke-width="0.9"/><path d="M0,-3.0 H3.0 V3.0 H0 A3.0,3.0 0 0 1 0,-3.0" fill="none" stroke="#000" stroke-width="0.9"/></g>
<g transform="translate(545.3,243.5) rotate(-90)"><circle r="2.3" fill="#fff" stroke="#777" stroke-width="0.9"/><path d="M0,-3.0 H3.0 V3.0 H0 A3.0,3.0 0 0 1 0,-3.0" fill="none" stroke="#000" stroke-width="0.9"/></g>
<g transform="translate(545.3,251.9) rotate(90)"><circle r="2.3" fill="#fff" stroke="#777" stroke-width="0.9"/><path d="M0,-3.0 H3.0 V3.0 H0 A3.0,3.0 0 0 1 0,-3.0" fill="none" stroke="#000" stroke-width="0.9"/></g>
<g transform="translate(554,224.8) rotate(-90)"><circle r="2.3" fill="#fff" stroke="#777" stroke-width="0.9"/><path d="M0,-3.0 H3.0 V3.0 H0 A3.0,3.0 0 0 1 0,-3.0" fill="none" stroke="#000" stroke-width="0.9"/></g>
<g transform="translate(554,233.7) rotate(90)"><circle r="2.3" fill="#fff" stroke="#777" stroke-width="0.9"/><path d="M0,-3.0 H3.0 V3.0 H0 A3.0,3.0 0 0 1 0,-3.0" fill="none" stroke="#000" stroke-width="0.9"/></g>
<g transform="translate(554,243.5) rotate(-90)"><circle r="2.3" fill="#fff" stroke="#777" stroke-width="0.9"/><path d="M0,-3.0 H3.0 V3.0 H0 A3.0,3.0 0 0 1 0,-3.0" fill="none" stroke="#000" stroke-width="0.9"/></g>
<g transform="translate(554,251.9) rotate(90)"><circle r="2.3" fill="#fff" stroke="#777" stroke-width="0.9"/><path d="M0,-3.0 H3.0 V3.0 H0 A3.0,3.0 0 0 1 0,-3.0" fill="none" stroke="#000" stroke-width="0.9"/></g>
<line x1="542.3" y1="221.9" x2="557" y2="221.9" stroke="#000" stroke-width="1.0"/>
<line x1="542.3" y1="236.6" x2="557" y2="236.6" stroke="#000" stroke-width="1.0"/>
<line x1="542.3" y1="240.5" x2="557" y2="240.5" stroke="#000" stroke-width="1.0"/>
<line x1="542.3" y1="255" x2="557" y2="255" stroke="#000" stroke-width="1.0"/>
<circle cx="518" cy="222.6" r="2.6" fill="none" stroke="#333" stroke-width="0.9"/>
<circle cx="526.1" cy="223.7" r="2.6" fill="none" stroke="#333" stroke-width="0.9"/>
<circle cx="518.7" cy="231.1" r="2.6" fill="none" stroke="#333" stroke-width="0.9"/>
<circle cx="537.9" cy="262.2" r="2.6" fill="none" stroke="#333" stroke-width="0.9"/>
<circle cx="527.5" cy="256" r="2.6" fill="none" stroke="#333" stroke-width="0.9"/>
<circle cx="534.3" cy="270.4" r="2.6" fill="none" stroke="#333" stroke-width="0.9"/>
<circle cx="559.5" cy="305" r="2.6" fill="none" stroke="#333" stroke-width="0.9"/>
<text x="442.4" y="239.7" font-size="7.4" font-weight="bold" textLength="7.4" lengthAdjust="spacingAndGlyphs" fill="#000">L4</text>
<text x="425.3" y="242.4" font-size="7.4" font-weight="bold" textLength="11.7" lengthAdjust="spacingAndGlyphs" fill="#000">TP4</text>
<rect x="441.3" y="241.8" width="23.4" height="18.1" fill="none" stroke="#000" stroke-width="1.4"/>
<rect x="443.3" y="243.8" width="8.4" height="14.1" fill="none" stroke="#888" stroke-width="0.9"/>
<rect x="454.3" y="243.8" width="8.4" height="14.1" fill="none" stroke="#888" stroke-width="0.9"/>
<text x="469.4" y="252.5" font-size="7.4" font-weight="bold" textLength="12.4" lengthAdjust="spacingAndGlyphs" fill="#000">TP3</text>
<text x="483.9" y="250.5" font-size="7.4" font-weight="bold" textLength="8.5" lengthAdjust="spacingAndGlyphs" fill="#000">L3</text>
<text x="499.9" y="250.5" font-size="7.4" font-weight="bold" textLength="8.5" lengthAdjust="spacingAndGlyphs" fill="#000">L9</text>
<text x="510.6" y="255.6" font-size="7.4" font-weight="bold" textLength="8.4" lengthAdjust="spacingAndGlyphs" fill="#000">U2</text>
<circle cx="437" cy="249.3" r="2.6" fill="none" stroke="#333" stroke-width="0.9"/>
<circle cx="472.2" cy="243.5" r="2.6" fill="none" stroke="#333" stroke-width="0.9"/>
<rect x="414.3" y="247.2" width="17.7" height="9.6" fill="none" stroke="#000" stroke-width="1.1"/>
<text x="418.3" y="254.8" font-size="6.4" font-weight="bold" textLength="4.2" lengthAdjust="spacingAndGlyphs" fill="#000">C</text>
<text x="427.3" y="254.6" font-size="7" font-weight="bold" font-family="'DejaVu Sans',sans-serif" text-anchor="middle">↖</text>
<rect x="479.2" y="265.6" width="42" height="41.5" fill="none" stroke="#111" stroke-width="1.3"/>
<rect x="481" y="267.4" width="38.4" height="37.9" fill="none" stroke="#999" stroke-width="0.7"/>
<g fill="#bbb" stroke="#222" stroke-width="0.8">
<rect x="480.4" y="258.1" width="1.5" height="6.5"/>
<rect x="480.4" y="308.1" width="1.5" height="6.5"/>
<rect x="471.8" y="266.8" width="6.4" height="1.5"/>
<rect x="522.2" y="266.8" width="6.9" height="1.5"/>
<rect x="482.78" y="258.1" width="1.5" height="6.5"/>
<rect x="482.78" y="308.1" width="1.5" height="6.5"/>
<rect x="471.8" y="269.15" width="6.4" height="1.5"/>
<rect x="522.2" y="269.15" width="6.9" height="1.5"/>
<rect x="485.16" y="258.1" width="1.5" height="6.5"/>
<rect x="485.16" y="308.1" width="1.5" height="6.5"/>
<rect x="471.8" y="271.5" width="6.4" height="1.5"/>
<rect x="522.2" y="271.5" width="6.9" height="1.5"/>
<rect x="487.54" y="258.1" width="1.5" height="6.5"/>
<rect x="487.54" y="308.1" width="1.5" height="6.5"/>
<rect x="471.8" y="273.85" width="6.4" height="1.5"/>
<rect x="522.2" y="273.85" width="6.9" height="1.5"/>
<rect x="489.93" y="258.1" width="1.5" height="6.5"/>
<rect x="489.93" y="308.1" width="1.5" height="6.5"/>
<rect x="471.8" y="276.2" width="6.4" height="1.5"/>
<rect x="522.2" y="276.2" width="6.9" height="1.5"/>
<rect x="492.31" y="258.1" width="1.5" height="6.5"/>
<rect x="492.31" y="308.1" width="1.5" height="6.5"/>
<rect x="471.8" y="278.55" width="6.4" height="1.5"/>
<rect x="522.2" y="278.55" width="6.9" height="1.5"/>
<rect x="494.69" y="258.1" width="1.5" height="6.5"/>
<rect x="494.69" y="308.1" width="1.5" height="6.5"/>
<rect x="471.8" y="280.9" width="6.4" height="1.5"/>
<rect x="522.2" y="280.9" width="6.9" height="1.5"/>
<rect x="497.07" y="258.1" width="1.5" height="6.5"/>
<rect x="497.07" y="308.1" width="1.5" height="6.5"/>
<rect x="471.8" y="283.25" width="6.4" height="1.5"/>
<rect x="522.2" y="283.25" width="6.9" height="1.5"/>
<rect x="499.45" y="258.1" width="1.5" height="6.5"/>
<rect x="499.45" y="308.1" width="1.5" height="6.5"/>
<rect x="471.8" y="285.6" width="6.4" height="1.5"/>
<rect x="522.2" y="285.6" width="6.9" height="1.5"/>
<rect x="501.83" y="258.1" width="1.5" height="6.5"/>
<rect x="501.83" y="308.1" width="1.5" height="6.5"/>
<rect x="471.8" y="287.95" width="6.4" height="1.5"/>
<rect x="522.2" y="287.95" width="6.9" height="1.5"/>
<rect x="504.21" y="258.1" width="1.5" height="6.5"/>
<rect x="504.21" y="308.1" width="1.5" height="6.5"/>
<rect x="471.8" y="290.3" width="6.4" height="1.5"/>
<rect x="522.2" y="290.3" width="6.9" height="1.5"/>
<rect x="506.59" y="258.1" width="1.5" height="6.5"/>
<rect x="506.59" y="308.1" width="1.5" height="6.5"/>
<rect x="471.8" y="292.65" width="6.4" height="1.5"/>
<rect x="522.2" y="292.65" width="6.9" height="1.5"/>
<rect x="508.98" y="258.1" width="1.5" height="6.5"/>
<rect x="508.98" y="308.1" width="1.5" height="6.5"/>
<rect x="471.8" y="295" width="6.4" height="1.5"/>
<rect x="522.2" y="295" width="6.9" height="1.5"/>
<rect x="511.36" y="258.1" width="1.5" height="6.5"/>
<rect x="511.36" y="308.1" width="1.5" height="6.5"/>
<rect x="471.8" y="297.35" width="6.4" height="1.5"/>
<rect x="522.2" y="297.35" width="6.9" height="1.5"/>
<rect x="513.74" y="258.1" width="1.5" height="6.5"/>
<rect x="513.74" y="308.1" width="1.5" height="6.5"/>
<rect x="471.8" y="299.7" width="6.4" height="1.5"/>
<rect x="522.2" y="299.7" width="6.9" height="1.5"/>
<rect x="516.12" y="258.1" width="1.5" height="6.5"/>
<rect x="516.12" y="308.1" width="1.5" height="6.5"/>
<rect x="471.8" y="302.05" width="6.4" height="1.5"/>
<rect x="522.2" y="302.05" width="6.9" height="1.5"/>
<rect x="518.5" y="258.1" width="1.5" height="6.5"/>
<rect x="518.5" y="308.1" width="1.5" height="6.5"/>
<rect x="471.8" y="304.4" width="6.4" height="1.5"/>
<rect x="522.2" y="304.4" width="6.9" height="1.5"/>
</g>
<polyline points="477.8,259.6 473.3,259.6 473.3,264.1" fill="none" stroke="#000" stroke-width="1.2"/>
<polyline points="523.1,259.6 527.6,259.6 527.6,264.1" fill="none" stroke="#000" stroke-width="1.2"/>
<polyline points="477.8,313.1 473.3,313.1 473.3,308.6" fill="none" stroke="#000" stroke-width="1.2"/>
<polyline points="523.1,313.1 527.6,313.1 527.6,308.6" fill="none" stroke="#000" stroke-width="1.2"/>
<polygon points="529,308.5 533.4,313 528.4,313" fill="#000" stroke="#000" stroke-width="0.3"/>
<rect x="441.3" y="260.2" width="14.9" height="8.6" fill="none" stroke="#000" stroke-width="1.0"/>
<circle cx="445.3" cy="264.5" r="2.3" fill="none" stroke="#333" stroke-width="0.9"/>
<circle cx="452.3" cy="264.5" r="2.3" fill="none" stroke="#333" stroke-width="0.9"/>
<rect x="441.9" y="269.8" width="22.8" height="17.1" fill="none" stroke="#000" stroke-width="1.4"/>
<rect x="443.9" y="271.8" width="8.1" height="13.1" fill="none" stroke="#888" stroke-width="0.9"/>
<rect x="454.6" y="271.8" width="8.1" height="13.1" fill="none" stroke="#888" stroke-width="0.9"/>
<rect x="441.9" y="289" width="22.8" height="16" fill="none" stroke="#000" stroke-width="1.4"/>
<rect x="443.9" y="291" width="8.1" height="12" fill="none" stroke="#888" stroke-width="0.9"/>
<rect x="454.6" y="291" width="8.1" height="12" fill="none" stroke="#888" stroke-width="0.9"/>
<rect x="430.7" y="308.3" width="36.2" height="31.1" fill="none" stroke="#000" stroke-width="1.8"/>
<rect x="433.2" y="310.6" width="11.4" height="26.6" fill="none" stroke="#888" stroke-width="0.9"/>
<rect x="454.1" y="310.6" width="10.4" height="26.6" fill="none" stroke="#888" stroke-width="0.9"/>
<path d="M447.4,315.2 v1.5 a2.6,2.5 0 0 1 0,5 a2.6,2.5 0 0 1 0,5 a2.6,2.5 0 0 1 0,5 v1.5" fill="none" stroke="#000" stroke-width="1.0" />
<rect x="543.6" y="259.2" width="15.7" height="33.6" fill="none" stroke="#000" stroke-width="1.0"/>
<circle cx="547.3" cy="263.1" r="2.4" fill="none" stroke="#333" stroke-width="0.9"/>
<circle cx="555.1" cy="263.1" r="2.4" fill="none" stroke="#333" stroke-width="0.9"/>
<circle cx="547.3" cy="272" r="2.4" fill="none" stroke="#333" stroke-width="0.9"/>
<circle cx="555.1" cy="272" r="2.4" fill="none" stroke="#333" stroke-width="0.9"/>
<circle cx="547.3" cy="280.8" r="2.4" fill="none" stroke="#333" stroke-width="0.9"/>
<circle cx="555.1" cy="280.8" r="2.4" fill="none" stroke="#333" stroke-width="0.9"/>
<circle cx="547.3" cy="289.3" r="2.4" fill="none" stroke="#333" stroke-width="0.9"/>
<circle cx="555.1" cy="289.3" r="2.4" fill="none" stroke="#333" stroke-width="0.9"/>
<circle cx="562.4" cy="257.8" r="2.7" fill="none" stroke="#333" stroke-width="0.9"/>
<circle cx="562.4" cy="267.7" r="2.7" fill="none" stroke="#333" stroke-width="0.9"/>
<circle cx="562.4" cy="277.9" r="2.7" fill="none" stroke="#333" stroke-width="0.9"/>
<circle cx="562.4" cy="285.7" r="2.7" fill="none" stroke="#333" stroke-width="0.9"/>
<line x1="565.6" y1="262" x2="565.6" y2="264.5" stroke="#000" stroke-width="0.9"/>
<line x1="565.6" y1="272.5" x2="565.6" y2="275" stroke="#000" stroke-width="0.9"/>
<line x1="563.5" y1="291.3" x2="565.6" y2="291.3" stroke="#000" stroke-width="0.9"/>
<text transform="translate(539.25,291.1) rotate(-90)" font-size="7.4" font-weight="bold" textLength="8.5" lengthAdjust="spacingAndGlyphs" fill="#000">L7</text>
<rect x="534" y="294.3" width="22.4" height="17.1" fill="none" stroke="#000" stroke-width="1.4"/>
<rect x="536" y="296.3" width="7.9" height="13.1" fill="none" stroke="#888" stroke-width="0.9"/>
<rect x="546.5" y="296.3" width="7.9" height="13.1" fill="none" stroke="#888" stroke-width="0.9"/>
<text transform="translate(530.25,322) rotate(-90)" font-size="7.4" font-weight="bold" textLength="9.6" lengthAdjust="spacingAndGlyphs" fill="#000">L5</text>
<rect x="534" y="313.9" width="22.4" height="17.1" fill="none" stroke="#000" stroke-width="1.4"/>
<rect x="536" y="315.9" width="7.9" height="13.1" fill="none" stroke="#888" stroke-width="0.9"/>
<rect x="546.5" y="315.9" width="7.9" height="13.1" fill="none" stroke="#888" stroke-width="0.9"/>
<text transform="translate(565.85,325.4) rotate(-90)" font-size="7.4" font-weight="bold" textLength="12.4" lengthAdjust="spacingAndGlyphs" fill="#000">TP7</text>
<text x="491.4" y="322.3" font-size="6.4" font-weight="bold" textLength="4" lengthAdjust="spacingAndGlyphs" fill="#000">D</text>
<text x="499.6" y="322.7" font-size="6.5" font-weight="bold" font-family="'DejaVu Sans',sans-serif" text-anchor="middle">↖</text>
<rect x="471.1" y="318.1" width="16.7" height="22.4" fill="none" stroke="#000" stroke-width="1.4"/>
<rect x="473.1" y="320.1" width="12.7" height="7.9" fill="none" stroke="#888" stroke-width="0.9"/>
<rect x="473.1" y="330.6" width="12.7" height="7.9" fill="none" stroke="#888" stroke-width="0.9"/>
<polyline points="487.8,342.8 487.8,348.2 496,348.2" fill="none" stroke="#000" stroke-width="1.0"/>
<polyline points="498.1,351.5 498.1,356.7 513.2,356.7 513.2,350.2" fill="none" stroke="#000" stroke-width="1.0"/>
<g transform="translate(492.4,327.7) rotate(-90)"><circle r="2.3" fill="#fff" stroke="#777" stroke-width="0.9"/><path d="M0,-3.0 H3.0 V3.0 H0 A3.0,3.0 0 0 1 0,-3.0" fill="none" stroke="#000" stroke-width="0.9"/></g>
<g transform="translate(492.4,337.3) rotate(90)"><circle r="2.3" fill="#fff" stroke="#777" stroke-width="0.9"/><path d="M0,-3.0 H3.0 V3.0 H0 A3.0,3.0 0 0 1 0,-3.0" fill="none" stroke="#000" stroke-width="0.9"/></g>
<g transform="translate(501,327.7) rotate(-90)"><circle r="2.3" fill="#fff" stroke="#777" stroke-width="0.9"/><path d="M0,-3.0 H3.0 V3.0 H0 A3.0,3.0 0 0 1 0,-3.0" fill="none" stroke="#000" stroke-width="0.9"/></g>
<g transform="translate(501,337.3) rotate(90)"><circle r="2.3" fill="#fff" stroke="#777" stroke-width="0.9"/><path d="M0,-3.0 H3.0 V3.0 H0 A3.0,3.0 0 0 1 0,-3.0" fill="none" stroke="#000" stroke-width="0.9"/></g>
<g transform="translate(511.6,327.7) rotate(-90)"><circle r="2.3" fill="#fff" stroke="#777" stroke-width="0.9"/><path d="M0,-3.0 H3.0 V3.0 H0 A3.0,3.0 0 0 1 0,-3.0" fill="none" stroke="#000" stroke-width="0.9"/></g>
<g transform="translate(511.6,337.3) rotate(90)"><circle r="2.3" fill="#fff" stroke="#777" stroke-width="0.9"/><path d="M0,-3.0 H3.0 V3.0 H0 A3.0,3.0 0 0 1 0,-3.0" fill="none" stroke="#000" stroke-width="0.9"/></g>
<g transform="translate(520.2,327.7) rotate(-90)"><circle r="2.3" fill="#fff" stroke="#777" stroke-width="0.9"/><path d="M0,-3.0 H3.0 V3.0 H0 A3.0,3.0 0 0 1 0,-3.0" fill="none" stroke="#000" stroke-width="0.9"/></g>
<g transform="translate(520.2,337.3) rotate(90)"><circle r="2.3" fill="#fff" stroke="#777" stroke-width="0.9"/><path d="M0,-3.0 H3.0 V3.0 H0 A3.0,3.0 0 0 1 0,-3.0" fill="none" stroke="#000" stroke-width="0.9"/></g>
<circle cx="492.4" cy="344.7" r="2.4" fill="none" stroke="#333" stroke-width="0.9"/>
<circle cx="501" cy="344.7" r="2.4" fill="none" stroke="#333" stroke-width="0.9"/>
<circle cx="507.4" cy="344.7" r="2.4" fill="none" stroke="#333" stroke-width="0.9"/>
<circle cx="515.9" cy="344.7" r="2.4" fill="none" stroke="#333" stroke-width="0.9"/>
<circle cx="523.4" cy="344.7" r="2.4" fill="none" stroke="#333" stroke-width="0.9"/>
<circle cx="501.6" cy="351.1" r="2.4" fill="none" stroke="#333" stroke-width="0.9"/>
<circle cx="507.4" cy="351.1" r="2.4" fill="none" stroke="#333" stroke-width="0.9"/>
<g transform="translate(517.8,353.3) rotate(180)"><circle r="2.3" fill="#fff" stroke="#777" stroke-width="0.9"/><path d="M0,-3.0 H3.0 V3.0 H0 A3.0,3.0 0 0 1 0,-3.0" fill="none" stroke="#000" stroke-width="0.9"/></g>
<g transform="translate(526.3,353.3) rotate(0)"><circle r="2.3" fill="#fff" stroke="#777" stroke-width="0.9"/><path d="M0,-3.0 H3.0 V3.0 H0 A3.0,3.0 0 0 1 0,-3.0" fill="none" stroke="#000" stroke-width="0.9"/></g>
<polyline points="471.5,315.6 520.4,315.6 520.4,322.7 525.9,322.7 525.9,341.7" fill="none" stroke="#000" stroke-width="1.0"/>
<circle cx="506.5" cy="362.4" r="3.2" fill="none" stroke="#333" stroke-width="0.9"/>
<g transform="translate(530.8,335.2) rotate(180)"><circle r="2.3" fill="#fff" stroke="#777" stroke-width="0.9"/><path d="M0,-3.0 H3.0 V3.0 H0 A3.0,3.0 0 0 1 0,-3.0" fill="none" stroke="#000" stroke-width="0.9"/></g>
<g transform="translate(540.4,335.2) rotate(0)"><circle r="2.3" fill="#fff" stroke="#777" stroke-width="0.9"/><path d="M0,-3.0 H3.0 V3.0 H0 A3.0,3.0 0 0 1 0,-3.0" fill="none" stroke="#000" stroke-width="0.9"/></g>
<g transform="translate(530.8,344.7) rotate(180)"><circle r="2.3" fill="#fff" stroke="#777" stroke-width="0.9"/><path d="M0,-3.0 H3.0 V3.0 H0 A3.0,3.0 0 0 1 0,-3.0" fill="none" stroke="#000" stroke-width="0.9"/></g>
<g transform="translate(540.4,344.7) rotate(0)"><circle r="2.3" fill="#fff" stroke="#777" stroke-width="0.9"/><path d="M0,-3.0 H3.0 V3.0 H0 A3.0,3.0 0 0 1 0,-3.0" fill="none" stroke="#000" stroke-width="0.9"/></g>
<circle cx="547.8" cy="335.2" r="2.5" fill="none" stroke="#333" stroke-width="0.9"/>
<text x="552.1" y="337.6" font-size="7.4" font-weight="bold" textLength="12.8" lengthAdjust="spacingAndGlyphs" fill="#000">TP5</text>
<text x="544.7" y="346.7" font-size="7.4" font-weight="bold" textLength="13.8" lengthAdjust="spacingAndGlyphs" fill="#000">C30</text>
<text x="532.9" y="355.4" font-size="7.4" font-weight="bold" textLength="8.6" lengthAdjust="spacingAndGlyphs" fill="#000">R8</text>
<text x="545.7" y="353.5" font-size="7.4" font-weight="bold" textLength="8.5" lengthAdjust="spacingAndGlyphs" fill="#000">R6</text>
<rect x="431.5" y="341.5" width="8.8" height="9" fill="none" stroke="#222" stroke-width="1.3"/>
<rect x="433.1" y="343.1" width="5.6" height="5.8" fill="none" stroke="#999" stroke-width="0.8"/>
<rect x="443.6" y="341.5" width="8.8" height="9" fill="none" stroke="#222" stroke-width="1.3"/>
<rect x="445.2" y="343.1" width="5.6" height="5.8" fill="none" stroke="#999" stroke-width="0.8"/>
<rect x="431.5" y="353" width="8.8" height="9" fill="none" stroke="#222" stroke-width="1.3"/>
<rect x="433.1" y="354.6" width="5.6" height="5.8" fill="none" stroke="#999" stroke-width="0.8"/>
<rect x="443.6" y="353" width="8.8" height="9" fill="none" stroke="#222" stroke-width="1.3"/>
<rect x="445.2" y="354.6" width="5.6" height="5.8" fill="none" stroke="#999" stroke-width="0.8"/>
<rect x="429.9" y="340" width="24.3" height="23.4" fill="none" stroke="#555" stroke-width="0.9"/>
<rect x="454.5" y="342.8" width="7.7" height="8.9" fill="none" stroke="#222" stroke-width="1.3"/>
<rect x="456.1" y="344.4" width="4.5" height="5.7" fill="none" stroke="#999" stroke-width="0.8"/>
<rect x="466.6" y="342.8" width="7.7" height="8.9" fill="none" stroke="#222" stroke-width="1.3"/>
<rect x="468.2" y="344.4" width="4.5" height="5.7" fill="none" stroke="#999" stroke-width="0.8"/>
<rect x="454.5" y="353.7" width="7.7" height="8.9" fill="none" stroke="#222" stroke-width="1.3"/>
<rect x="456.1" y="355.3" width="4.5" height="5.7" fill="none" stroke="#999" stroke-width="0.8"/>
<rect x="466.6" y="353.7" width="7.7" height="8.9" fill="none" stroke="#222" stroke-width="1.3"/>
<rect x="468.2" y="355.3" width="4.5" height="5.7" fill="none" stroke="#999" stroke-width="0.8"/>
<rect x="419.3" y="346.6" width="9.6" height="9" fill="none" stroke="#222" stroke-width="1.3"/>
<rect x="420.9" y="348.2" width="6.4" height="5.8" fill="none" stroke="#999" stroke-width="0.8"/>
<rect x="419.3" y="358.1" width="9.6" height="9" fill="none" stroke="#222" stroke-width="1.3"/>
<rect x="420.9" y="359.7" width="6.4" height="5.8" fill="none" stroke="#999" stroke-width="0.8"/>
<rect x="475.5" y="352.5" width="8.2" height="8.2" fill="none" stroke="#222" stroke-width="1.3"/>
<rect x="477.1" y="354.1" width="5" height="5" fill="none" stroke="#999" stroke-width="0.8"/>
<rect x="487.8" y="352.5" width="8.2" height="8.2" fill="none" stroke="#222" stroke-width="1.3"/>
<rect x="489.4" y="354.1" width="5" height="5" fill="none" stroke="#999" stroke-width="0.8"/>
<circle cx="478.6" cy="344.7" r="2.6" fill="none" stroke="#333" stroke-width="0.9"/>
<text transform="translate(438.55,372.4) rotate(-90)" font-size="7.4" font-weight="bold" textLength="9" lengthAdjust="spacingAndGlyphs" fill="#000">C7</text>
<text transform="translate(449.65,372.4) rotate(-90)" font-size="7.4" font-weight="bold" textLength="9" lengthAdjust="spacingAndGlyphs" fill="#000">C8</text>
<text transform="translate(428.15,379.9) rotate(-90)" font-size="7.4" font-weight="bold" textLength="9" lengthAdjust="spacingAndGlyphs" fill="#000">C9</text>
<text x="453.8" y="370.9" font-size="7.4" font-weight="bold" textLength="12.8" lengthAdjust="spacingAndGlyphs" fill="#000">C32</text>
<text x="453.8" y="377.3" font-size="7.4" font-weight="bold" textLength="12.8" lengthAdjust="spacingAndGlyphs" fill="#000">C35</text>
<text x="473" y="371.8" font-size="7.4" font-weight="bold" textLength="13.3" lengthAdjust="spacingAndGlyphs" fill="#000">TP6</text>
<text x="473" y="378.7" font-size="7.4" font-weight="bold" textLength="13.3" lengthAdjust="spacingAndGlyphs" fill="#000">C34</text>
<g transform="translate(493.4,372.2) rotate(-90)"><circle r="2.3" fill="#fff" stroke="#777" stroke-width="0.9"/><path d="M0,-3.0 H3.0 V3.0 H0 A3.0,3.0 0 0 1 0,-3.0" fill="none" stroke="#000" stroke-width="0.9"/></g>
<g transform="translate(493.4,381.1) rotate(90)"><circle r="2.3" fill="#fff" stroke="#777" stroke-width="0.9"/><path d="M0,-3.0 H3.0 V3.0 H0 A3.0,3.0 0 0 1 0,-3.0" fill="none" stroke="#000" stroke-width="0.9"/></g>
<g transform="translate(502.4,372.2) rotate(-90)"><circle r="2.3" fill="#fff" stroke="#777" stroke-width="0.9"/><path d="M0,-3.0 H3.0 V3.0 H0 A3.0,3.0 0 0 1 0,-3.0" fill="none" stroke="#000" stroke-width="0.9"/></g>
<g transform="translate(502.4,381.1) rotate(90)"><circle r="2.3" fill="#fff" stroke="#777" stroke-width="0.9"/><path d="M0,-3.0 H3.0 V3.0 H0 A3.0,3.0 0 0 1 0,-3.0" fill="none" stroke="#000" stroke-width="0.9"/></g>
<text transform="translate(513.45,383.1) rotate(-90)" font-size="7.4" font-weight="bold" textLength="12.8" lengthAdjust="spacingAndGlyphs" fill="#000">C31</text>
<text transform="translate(520.65,381.8) rotate(-90)" font-size="7.4" font-weight="bold" textLength="8.3" lengthAdjust="spacingAndGlyphs" fill="#000">R7</text>
<text x="478.1" y="391.4" font-size="7.4" font-weight="bold" textLength="8.9" lengthAdjust="spacingAndGlyphs" fill="#000">C2</text>
<text x="506.2" y="391.4" font-size="7.4" font-weight="bold" textLength="8.9" lengthAdjust="spacingAndGlyphs" fill="#000">C1</text>
<g transform="translate(479.4,398.3) rotate(180)"><circle r="2.3" fill="#fff" stroke="#777" stroke-width="0.9"/><path d="M0,-3.0 H3.0 V3.0 H0 A3.0,3.0 0 0 1 0,-3.0" fill="none" stroke="#000" stroke-width="0.9"/></g>
<g transform="translate(487.8,398.3) rotate(0)"><circle r="2.3" fill="#fff" stroke="#777" stroke-width="0.9"/><path d="M0,-3.0 H3.0 V3.0 H0 A3.0,3.0 0 0 1 0,-3.0" fill="none" stroke="#000" stroke-width="0.9"/></g>
<rect x="492.6" y="393.9" width="9" height="9" fill="none" stroke="#222" stroke-width="1.3"/>
<rect x="494.2" y="395.5" width="5.8" height="5.8" fill="none" stroke="#999" stroke-width="0.8"/>
<rect x="505.7" y="393.9" width="8.9" height="9" fill="none" stroke="#222" stroke-width="1.3"/>
<rect x="507.3" y="395.5" width="5.7" height="5.8" fill="none" stroke="#999" stroke-width="0.8"/>
<polyline points="441.8,258.3 409.7,258.3 409.7,266.9 394,266.9" fill="none" stroke="#000" stroke-width="1.0"/>
<polygon points="400.6,260.2 407,260.2 403.8,266" fill="#000" stroke="#000" stroke-width="0.3"/>
<polyline points="384.2,278 384.2,283.9 392,283.9" fill="none" stroke="#000" stroke-width="1.0"/>
<path d="M411.7,269.5 H414.2 A1.1,1.1 0 0 0 416.4,269.5 H418.9 V290.5 H411.7 Z" fill="none" stroke="#000" stroke-width="1.1" />
<rect x="401.2" y="270.8" width="6.6" height="3.9" fill="none" stroke="#666" stroke-width="0.9"/>
<rect x="401.2" y="278.7" width="6.6" height="3.9" fill="none" stroke="#666" stroke-width="0.9"/>
<rect x="401.2" y="285.9" width="6.6" height="3.9" fill="none" stroke="#666" stroke-width="0.9"/>
<rect x="421.5" y="270.8" width="7.9" height="3.9" fill="none" stroke="#666" stroke-width="0.9"/>
<rect x="421.5" y="285.9" width="7.9" height="3.9" fill="none" stroke="#666" stroke-width="0.9"/>
<rect x="392.3" y="286.5" width="7" height="3.5" fill="none" stroke="#666" stroke-width="0.9"/>
<circle cx="388.1" cy="275.6" r="2.6" fill="none" stroke="#333" stroke-width="0.9"/>
<circle cx="387.5" cy="289.1" r="2.6" fill="none" stroke="#333" stroke-width="0.9"/>
<circle cx="435.9" cy="284.6" r="2.6" fill="none" stroke="#333" stroke-width="0.9"/>
<circle cx="436" cy="296.4" r="2.6" fill="none" stroke="#333" stroke-width="0.9"/>
<circle cx="425.3" cy="316" r="2.6" fill="none" stroke="#333" stroke-width="0.9"/>
<g transform="translate(418.9,263.6) rotate(180)"><circle r="2.3" fill="#fff" stroke="#777" stroke-width="0.9"/><path d="M0,-3.0 H3.0 V3.0 H0 A3.0,3.0 0 0 1 0,-3.0" fill="none" stroke="#000" stroke-width="0.9"/></g>
<g transform="translate(427.5,263.6) rotate(0)"><circle r="2.3" fill="#fff" stroke="#777" stroke-width="0.9"/><path d="M0,-3.0 H3.0 V3.0 H0 A3.0,3.0 0 0 1 0,-3.0" fill="none" stroke="#000" stroke-width="0.9"/></g>
<g transform="translate(435.6,263.6) rotate(-90)"><circle r="2.3" fill="#fff" stroke="#777" stroke-width="0.9"/><path d="M0,-3.0 H3.0 V3.0 H0 A3.0,3.0 0 0 1 0,-3.0" fill="none" stroke="#000" stroke-width="0.9"/></g>
<g transform="translate(395.3,274.7) rotate(-90)"><circle r="2.3" fill="#fff" stroke="#777" stroke-width="0.9"/><path d="M0,-3.0 H3.0 V3.0 H0 A3.0,3.0 0 0 1 0,-3.0" fill="none" stroke="#000" stroke-width="0.9"/></g>
<g transform="translate(396,283.3) rotate(90)"><circle r="2.3" fill="#fff" stroke="#777" stroke-width="0.9"/><path d="M0,-3.0 H3.0 V3.0 H0 A3.0,3.0 0 0 1 0,-3.0" fill="none" stroke="#000" stroke-width="0.9"/></g>
<g transform="translate(436.6,271.5) rotate(90)"><circle r="2.3" fill="#fff" stroke="#777" stroke-width="0.9"/><path d="M0,-3.0 H3.0 V3.0 H0 A3.0,3.0 0 0 1 0,-3.0" fill="none" stroke="#000" stroke-width="0.9"/></g>
<g transform="translate(406.5,295.7) rotate(-90)"><circle r="2.3" fill="#fff" stroke="#777" stroke-width="0.9"/><path d="M0,-3.0 H3.0 V3.0 H0 A3.0,3.0 0 0 1 0,-3.0" fill="none" stroke="#000" stroke-width="0.9"/></g>
<g transform="translate(416.3,295.7) rotate(-90)"><circle r="2.3" fill="#fff" stroke="#777" stroke-width="0.9"/><path d="M0,-3.0 H3.0 V3.0 H0 A3.0,3.0 0 0 1 0,-3.0" fill="none" stroke="#000" stroke-width="0.9"/></g>
<g transform="translate(424.8,295.7) rotate(-90)"><circle r="2.3" fill="#fff" stroke="#777" stroke-width="0.9"/><path d="M0,-3.0 H3.0 V3.0 H0 A3.0,3.0 0 0 1 0,-3.0" fill="none" stroke="#000" stroke-width="0.9"/></g>
<g transform="translate(406.5,303.5) rotate(90)"><circle r="2.3" fill="#fff" stroke="#777" stroke-width="0.9"/><path d="M0,-3.0 H3.0 V3.0 H0 A3.0,3.0 0 0 1 0,-3.0" fill="none" stroke="#000" stroke-width="0.9"/></g>
<g transform="translate(416.3,303.5) rotate(90)"><circle r="2.3" fill="#fff" stroke="#777" stroke-width="0.9"/><path d="M0,-3.0 H3.0 V3.0 H0 A3.0,3.0 0 0 1 0,-3.0" fill="none" stroke="#000" stroke-width="0.9"/></g>
<g transform="translate(424.8,303.5) rotate(90)"><circle r="2.3" fill="#fff" stroke="#777" stroke-width="0.9"/><path d="M0,-3.0 H3.0 V3.0 H0 A3.0,3.0 0 0 1 0,-3.0" fill="none" stroke="#000" stroke-width="0.9"/></g>
<rect x="384.9" y="293" width="16.4" height="22.3" fill="none" stroke="#000" stroke-width="1.4"/>
<rect x="386.9" y="295" width="12.4" height="7.85" fill="none" stroke="#888" stroke-width="0.9"/>
<rect x="386.9" y="305.45" width="12.4" height="7.85" fill="none" stroke="#888" stroke-width="0.9"/>
<text transform="translate(381.05,299.7) rotate(-90)" font-size="7.4" font-weight="bold" textLength="14.9" lengthAdjust="spacingAndGlyphs" fill="#000">TP26</text>
<text transform="translate(381.05,317.7) rotate(-90)" font-size="7.4" font-weight="bold" textLength="12" lengthAdjust="spacingAndGlyphs" fill="#000">L13</text>
<text transform="translate(383.45,331) rotate(-90)" font-size="7.4" font-weight="bold" textLength="8.5" lengthAdjust="spacingAndGlyphs" fill="#000">U8</text>
<rect x="386.3" y="317.7" width="19.8" height="18.1" fill="none" stroke="#222" stroke-width="0.9" stroke-dasharray="3 1.6"/>
<rect x="390.5" y="320.2" width="12" height="14.3" fill="none" stroke="#777" stroke-width="0.8"/>
<line x1="394.5" y1="320.2" x2="394.5" y2="334.5" stroke="#555" stroke-width="1.2"/>
<line x1="390.5" y1="324.97" x2="402.5" y2="324.97" stroke="#555" stroke-width="1.2"/>
<line x1="398.5" y1="320.2" x2="398.5" y2="334.5" stroke="#555" stroke-width="1.2"/>
<line x1="390.5" y1="329.73" x2="402.5" y2="329.73" stroke="#555" stroke-width="1.2"/>
<polygon points="402.8,333.6 405.6,336.4 402.2,336.4" fill="#000" stroke="#000" stroke-width="0.3"/>
<text x="408.5" y="335.3" font-size="7.4" font-weight="bold" textLength="12" lengthAdjust="spacingAndGlyphs" fill="#000">C89</text>
<rect x="411.3" y="309.3" width="8" height="7.7" fill="none" stroke="#222" stroke-width="1.3"/>
<rect x="412.9" y="310.9" width="4.8" height="4.5" fill="none" stroke="#999" stroke-width="0.8"/>
<rect x="413.3" y="321.3" width="7.2" height="7.3" fill="none" stroke="#222" stroke-width="1.3"/>
<rect x="414.9" y="322.9" width="4" height="4.1" fill="none" stroke="#999" stroke-width="0.8"/>
<text transform="translate(426.46,330.5) rotate(-90)" font-size="6.6" font-weight="bold" textLength="10" lengthAdjust="spacingAndGlyphs" fill="#000">TP1</text>
</g>
</svg>
</body></html>
